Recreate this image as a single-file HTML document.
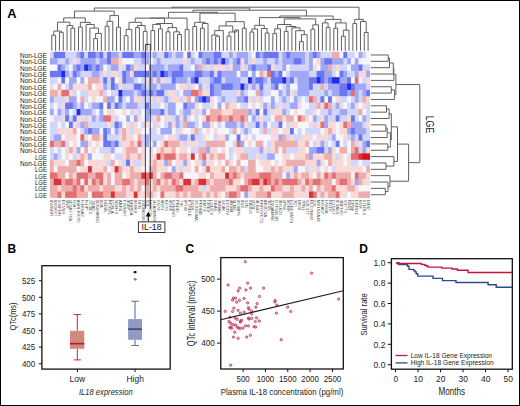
<!DOCTYPE html>
<html><head><meta charset="utf-8"><style>
html,body{margin:0;padding:0;background:#fff;}
body{width:520px;height:406px;overflow:hidden;}
svg{display:block;font-family:"Liberation Sans", sans-serif;}
</style></head><body>
<svg width="520" height="406" viewBox="0 0 520 406">
<defs><filter id="hb" x="-2%" y="-2%" width="104%" height="104%"><feGaussianBlur stdDeviation="0.35"/></filter><pattern id="lbl" width="2.4" height="2.6" patternUnits="userSpaceOnUse"><rect x="0" y="0" width="2.4" height="2.6" fill="#fff"/><rect x="0.3" y="0.2" width="1.8" height="1.4" fill="#9a9a9a"/></pattern></defs>
<rect width="520" height="406" fill="#fff"/>
<g filter="url(#hb)"><rect x="49.90" y="51.80" width="4.41" height="6.95" fill="#d2d6fa"/><rect x="53.71" y="51.80" width="4.41" height="6.95" fill="#6a76f1"/><rect x="57.52" y="51.80" width="4.41" height="6.95" fill="#6a76f1"/><rect x="61.33" y="51.80" width="4.41" height="6.95" fill="#6a76f1"/><rect x="65.14" y="51.80" width="4.41" height="6.95" fill="#d2d6fa"/><rect x="68.95" y="51.80" width="4.41" height="6.95" fill="#d2d6fa"/><rect x="72.76" y="51.80" width="4.41" height="6.95" fill="#d2d6fa"/><rect x="76.58" y="51.80" width="4.41" height="6.95" fill="#a0a8f5"/><rect x="80.39" y="51.80" width="4.41" height="6.95" fill="#6a76f1"/><rect x="84.20" y="51.80" width="4.41" height="6.95" fill="#d2d6fa"/><rect x="88.01" y="51.80" width="4.41" height="6.95" fill="#6a76f1"/><rect x="91.82" y="51.80" width="4.41" height="6.95" fill="#6a76f1"/><rect x="95.63" y="51.80" width="4.41" height="6.95" fill="#a0a8f5"/><rect x="99.44" y="51.80" width="4.41" height="6.95" fill="#6a76f1"/><rect x="103.25" y="51.80" width="4.41" height="6.95" fill="#d2d6fa"/><rect x="107.06" y="51.80" width="4.41" height="6.95" fill="#6a76f1"/><rect x="110.87" y="51.80" width="4.41" height="6.95" fill="#a0a8f5"/><rect x="114.68" y="51.80" width="4.41" height="6.95" fill="#a0a8f5"/><rect x="118.49" y="51.80" width="4.41" height="6.95" fill="#d2d6fa"/><rect x="122.30" y="51.80" width="4.41" height="6.95" fill="#6a76f1"/><rect x="126.11" y="51.80" width="4.41" height="6.95" fill="#6a76f1"/><rect x="129.93" y="51.80" width="4.41" height="6.95" fill="#6a76f1"/><rect x="133.74" y="51.80" width="4.41" height="6.95" fill="#a0a8f5"/><rect x="137.55" y="51.80" width="4.41" height="6.95" fill="#a0a8f5"/><rect x="141.36" y="51.80" width="4.41" height="6.95" fill="#6a76f1"/><rect x="145.17" y="51.80" width="4.41" height="6.95" fill="#a0a8f5"/><rect x="148.98" y="51.80" width="4.41" height="6.95" fill="#d2d6fa"/><rect x="152.79" y="51.80" width="4.41" height="6.95" fill="#a0a8f5"/><rect x="156.60" y="51.80" width="4.41" height="6.95" fill="#d2d6fa"/><rect x="160.41" y="51.80" width="4.41" height="6.95" fill="#d2d6fa"/><rect x="164.22" y="51.80" width="4.41" height="6.95" fill="#6a76f1"/><rect x="168.03" y="51.80" width="4.41" height="6.95" fill="#a0a8f5"/><rect x="171.84" y="51.80" width="4.41" height="6.95" fill="#d2d6fa"/><rect x="175.65" y="51.80" width="4.41" height="6.95" fill="#a0a8f5"/><rect x="179.46" y="51.80" width="4.41" height="6.95" fill="#a0a8f5"/><rect x="183.28" y="51.80" width="4.41" height="6.95" fill="#f5f5fc"/><rect x="187.09" y="51.80" width="4.41" height="6.95" fill="#6a76f1"/><rect x="190.90" y="51.80" width="4.41" height="6.95" fill="#d2d6fa"/><rect x="194.71" y="51.80" width="4.41" height="6.95" fill="#f5f5fc"/><rect x="198.52" y="51.80" width="4.41" height="6.95" fill="#6a76f1"/><rect x="202.33" y="51.80" width="4.41" height="6.95" fill="#a0a8f5"/><rect x="206.14" y="51.80" width="4.41" height="6.95" fill="#a0a8f5"/><rect x="209.95" y="51.80" width="4.41" height="6.95" fill="#a0a8f5"/><rect x="213.76" y="51.80" width="4.41" height="6.95" fill="#6a76f1"/><rect x="217.57" y="51.80" width="4.41" height="6.95" fill="#6a76f1"/><rect x="221.38" y="51.80" width="4.41" height="6.95" fill="#d2d6fa"/><rect x="225.19" y="51.80" width="4.41" height="6.95" fill="#d2d6fa"/><rect x="229.00" y="51.80" width="4.41" height="6.95" fill="#a0a8f5"/><rect x="232.81" y="51.80" width="4.41" height="6.95" fill="#d2d6fa"/><rect x="236.63" y="51.80" width="4.41" height="6.95" fill="#a0a8f5"/><rect x="240.44" y="51.80" width="4.41" height="6.95" fill="#a0a8f5"/><rect x="244.25" y="51.80" width="4.41" height="6.95" fill="#a0a8f5"/><rect x="248.06" y="51.80" width="4.41" height="6.95" fill="#d2d6fa"/><rect x="251.87" y="51.80" width="4.41" height="6.95" fill="#f5f5fc"/><rect x="255.68" y="51.80" width="4.41" height="6.95" fill="#6a76f1"/><rect x="259.49" y="51.80" width="4.41" height="6.95" fill="#a0a8f5"/><rect x="263.30" y="51.80" width="4.41" height="6.95" fill="#6a76f1"/><rect x="267.11" y="51.80" width="4.41" height="6.95" fill="#6a76f1"/><rect x="270.92" y="51.80" width="4.41" height="6.95" fill="#6a76f1"/><rect x="274.73" y="51.80" width="4.41" height="6.95" fill="#6a76f1"/><rect x="278.54" y="51.80" width="4.41" height="6.95" fill="#d2d6fa"/><rect x="282.35" y="51.80" width="4.41" height="6.95" fill="#a0a8f5"/><rect x="286.16" y="51.80" width="4.41" height="6.95" fill="#6a76f1"/><rect x="289.98" y="51.80" width="4.41" height="6.95" fill="#a0a8f5"/><rect x="293.79" y="51.80" width="4.41" height="6.95" fill="#a0a8f5"/><rect x="297.60" y="51.80" width="4.41" height="6.95" fill="#a0a8f5"/><rect x="301.41" y="51.80" width="4.41" height="6.95" fill="#a0a8f5"/><rect x="305.22" y="51.80" width="4.41" height="6.95" fill="#d2d6fa"/><rect x="309.03" y="51.80" width="4.41" height="6.95" fill="#a0a8f5"/><rect x="312.84" y="51.80" width="4.41" height="6.95" fill="#6a76f1"/><rect x="316.65" y="51.80" width="4.41" height="6.95" fill="#a0a8f5"/><rect x="320.46" y="51.80" width="4.41" height="6.95" fill="#d2d6fa"/><rect x="324.27" y="51.80" width="4.41" height="6.95" fill="#d2d6fa"/><rect x="328.08" y="51.80" width="4.41" height="6.95" fill="#d2d6fa"/><rect x="331.89" y="51.80" width="4.41" height="6.95" fill="#eeacac"/><rect x="335.70" y="51.80" width="4.41" height="6.95" fill="#eeacac"/><rect x="339.51" y="51.80" width="4.41" height="6.95" fill="#f5f5fc"/><rect x="343.32" y="51.80" width="4.41" height="6.95" fill="#6a76f1"/><rect x="347.14" y="51.80" width="4.41" height="6.95" fill="#d2d6fa"/><rect x="350.95" y="51.80" width="4.41" height="6.95" fill="#d2d6fa"/><rect x="354.76" y="51.80" width="4.41" height="6.95" fill="#f5f5fc"/><rect x="358.57" y="51.80" width="4.41" height="6.95" fill="#a0a8f5"/><rect x="362.38" y="51.80" width="4.41" height="6.95" fill="#d2d6fa"/><rect x="366.19" y="51.80" width="3.81" height="6.95" fill="#f5f5fc"/><rect x="49.90" y="58.15" width="4.41" height="6.95" fill="#a0a8f5"/><rect x="53.71" y="58.15" width="4.41" height="6.95" fill="#a0a8f5"/><rect x="57.52" y="58.15" width="4.41" height="6.95" fill="#d2d6fa"/><rect x="61.33" y="58.15" width="4.41" height="6.95" fill="#d2d6fa"/><rect x="65.14" y="58.15" width="4.41" height="6.95" fill="#a0a8f5"/><rect x="68.95" y="58.15" width="4.41" height="6.95" fill="#d2d6fa"/><rect x="72.76" y="58.15" width="4.41" height="6.95" fill="#f7dad7"/><rect x="76.58" y="58.15" width="4.41" height="6.95" fill="#d2d6fa"/><rect x="80.39" y="58.15" width="4.41" height="6.95" fill="#a0a8f5"/><rect x="84.20" y="58.15" width="4.41" height="6.95" fill="#a0a8f5"/><rect x="88.01" y="58.15" width="4.41" height="6.95" fill="#a0a8f5"/><rect x="91.82" y="58.15" width="4.41" height="6.95" fill="#a0a8f5"/><rect x="95.63" y="58.15" width="4.41" height="6.95" fill="#d2d6fa"/><rect x="99.44" y="58.15" width="4.41" height="6.95" fill="#a0a8f5"/><rect x="103.25" y="58.15" width="4.41" height="6.95" fill="#a0a8f5"/><rect x="107.06" y="58.15" width="4.41" height="6.95" fill="#6a76f1"/><rect x="110.87" y="58.15" width="4.41" height="6.95" fill="#eeacac"/><rect x="114.68" y="58.15" width="4.41" height="6.95" fill="#eeacac"/><rect x="118.49" y="58.15" width="4.41" height="6.95" fill="#f7dad7"/><rect x="122.30" y="58.15" width="4.41" height="6.95" fill="#f5f5fc"/><rect x="126.11" y="58.15" width="4.41" height="6.95" fill="#f5f5fc"/><rect x="129.93" y="58.15" width="4.41" height="6.95" fill="#f5f5fc"/><rect x="133.74" y="58.15" width="4.41" height="6.95" fill="#d2d6fa"/><rect x="137.55" y="58.15" width="4.41" height="6.95" fill="#d2d6fa"/><rect x="141.36" y="58.15" width="4.41" height="6.95" fill="#a0a8f5"/><rect x="145.17" y="58.15" width="4.41" height="6.95" fill="#a0a8f5"/><rect x="148.98" y="58.15" width="4.41" height="6.95" fill="#f5f5fc"/><rect x="152.79" y="58.15" width="4.41" height="6.95" fill="#d2d6fa"/><rect x="156.60" y="58.15" width="4.41" height="6.95" fill="#a0a8f5"/><rect x="160.41" y="58.15" width="4.41" height="6.95" fill="#d2d6fa"/><rect x="164.22" y="58.15" width="4.41" height="6.95" fill="#d2d6fa"/><rect x="168.03" y="58.15" width="4.41" height="6.95" fill="#d2d6fa"/><rect x="171.84" y="58.15" width="4.41" height="6.95" fill="#d2d6fa"/><rect x="175.65" y="58.15" width="4.41" height="6.95" fill="#d2d6fa"/><rect x="179.46" y="58.15" width="4.41" height="6.95" fill="#d2d6fa"/><rect x="183.28" y="58.15" width="4.41" height="6.95" fill="#f7dad7"/><rect x="187.09" y="58.15" width="4.41" height="6.95" fill="#d2d6fa"/><rect x="190.90" y="58.15" width="4.41" height="6.95" fill="#a0a8f5"/><rect x="194.71" y="58.15" width="4.41" height="6.95" fill="#d2d6fa"/><rect x="198.52" y="58.15" width="4.41" height="6.95" fill="#d2d6fa"/><rect x="202.33" y="58.15" width="4.41" height="6.95" fill="#a0a8f5"/><rect x="206.14" y="58.15" width="4.41" height="6.95" fill="#6a76f1"/><rect x="209.95" y="58.15" width="4.41" height="6.95" fill="#a0a8f5"/><rect x="213.76" y="58.15" width="4.41" height="6.95" fill="#6a76f1"/><rect x="217.57" y="58.15" width="4.41" height="6.95" fill="#a0a8f5"/><rect x="221.38" y="58.15" width="4.41" height="6.95" fill="#202cee"/><rect x="225.19" y="58.15" width="4.41" height="6.95" fill="#a0a8f5"/><rect x="229.00" y="58.15" width="4.41" height="6.95" fill="#d2d6fa"/><rect x="232.81" y="58.15" width="4.41" height="6.95" fill="#a0a8f5"/><rect x="236.63" y="58.15" width="4.41" height="6.95" fill="#6a76f1"/><rect x="240.44" y="58.15" width="4.41" height="6.95" fill="#f7dad7"/><rect x="244.25" y="58.15" width="4.41" height="6.95" fill="#a0a8f5"/><rect x="248.06" y="58.15" width="4.41" height="6.95" fill="#d2d6fa"/><rect x="251.87" y="58.15" width="4.41" height="6.95" fill="#f7dad7"/><rect x="255.68" y="58.15" width="4.41" height="6.95" fill="#d2d6fa"/><rect x="259.49" y="58.15" width="4.41" height="6.95" fill="#d2d6fa"/><rect x="263.30" y="58.15" width="4.41" height="6.95" fill="#a0a8f5"/><rect x="267.11" y="58.15" width="4.41" height="6.95" fill="#d2d6fa"/><rect x="270.92" y="58.15" width="4.41" height="6.95" fill="#d2d6fa"/><rect x="274.73" y="58.15" width="4.41" height="6.95" fill="#a0a8f5"/><rect x="278.54" y="58.15" width="4.41" height="6.95" fill="#d2d6fa"/><rect x="282.35" y="58.15" width="4.41" height="6.95" fill="#a0a8f5"/><rect x="286.16" y="58.15" width="4.41" height="6.95" fill="#a0a8f5"/><rect x="289.98" y="58.15" width="4.41" height="6.95" fill="#a0a8f5"/><rect x="293.79" y="58.15" width="4.41" height="6.95" fill="#6a76f1"/><rect x="297.60" y="58.15" width="4.41" height="6.95" fill="#6a76f1"/><rect x="301.41" y="58.15" width="4.41" height="6.95" fill="#a0a8f5"/><rect x="305.22" y="58.15" width="4.41" height="6.95" fill="#d2d6fa"/><rect x="309.03" y="58.15" width="4.41" height="6.95" fill="#a0a8f5"/><rect x="312.84" y="58.15" width="4.41" height="6.95" fill="#f5f5fc"/><rect x="316.65" y="58.15" width="4.41" height="6.95" fill="#f7dad7"/><rect x="320.46" y="58.15" width="4.41" height="6.95" fill="#a0a8f5"/><rect x="324.27" y="58.15" width="4.41" height="6.95" fill="#6a76f1"/><rect x="328.08" y="58.15" width="4.41" height="6.95" fill="#6a76f1"/><rect x="331.89" y="58.15" width="4.41" height="6.95" fill="#a0a8f5"/><rect x="335.70" y="58.15" width="4.41" height="6.95" fill="#a0a8f5"/><rect x="339.51" y="58.15" width="4.41" height="6.95" fill="#a0a8f5"/><rect x="343.32" y="58.15" width="4.41" height="6.95" fill="#d2d6fa"/><rect x="347.14" y="58.15" width="4.41" height="6.95" fill="#a0a8f5"/><rect x="350.95" y="58.15" width="4.41" height="6.95" fill="#f5f5fc"/><rect x="354.76" y="58.15" width="4.41" height="6.95" fill="#a0a8f5"/><rect x="358.57" y="58.15" width="4.41" height="6.95" fill="#f5f5fc"/><rect x="362.38" y="58.15" width="4.41" height="6.95" fill="#f5f5fc"/><rect x="366.19" y="58.15" width="3.81" height="6.95" fill="#f5f5fc"/><rect x="49.90" y="64.50" width="4.41" height="6.95" fill="#f5f5fc"/><rect x="53.71" y="64.50" width="4.41" height="6.95" fill="#f5f5fc"/><rect x="57.52" y="64.50" width="4.41" height="6.95" fill="#6a76f1"/><rect x="61.33" y="64.50" width="4.41" height="6.95" fill="#a0a8f5"/><rect x="65.14" y="64.50" width="4.41" height="6.95" fill="#d2d6fa"/><rect x="68.95" y="64.50" width="4.41" height="6.95" fill="#f5f5fc"/><rect x="72.76" y="64.50" width="4.41" height="6.95" fill="#a0a8f5"/><rect x="76.58" y="64.50" width="4.41" height="6.95" fill="#6a76f1"/><rect x="80.39" y="64.50" width="4.41" height="6.95" fill="#a0a8f5"/><rect x="84.20" y="64.50" width="4.41" height="6.95" fill="#202cee"/><rect x="88.01" y="64.50" width="4.41" height="6.95" fill="#6a76f1"/><rect x="91.82" y="64.50" width="4.41" height="6.95" fill="#a0a8f5"/><rect x="95.63" y="64.50" width="4.41" height="6.95" fill="#6a76f1"/><rect x="99.44" y="64.50" width="4.41" height="6.95" fill="#a0a8f5"/><rect x="103.25" y="64.50" width="4.41" height="6.95" fill="#f5f5fc"/><rect x="107.06" y="64.50" width="4.41" height="6.95" fill="#d2d6fa"/><rect x="110.87" y="64.50" width="4.41" height="6.95" fill="#a0a8f5"/><rect x="114.68" y="64.50" width="4.41" height="6.95" fill="#a0a8f5"/><rect x="118.49" y="64.50" width="4.41" height="6.95" fill="#f7dad7"/><rect x="122.30" y="64.50" width="4.41" height="6.95" fill="#d2d6fa"/><rect x="126.11" y="64.50" width="4.41" height="6.95" fill="#6a76f1"/><rect x="129.93" y="64.50" width="4.41" height="6.95" fill="#a0a8f5"/><rect x="133.74" y="64.50" width="4.41" height="6.95" fill="#f7dad7"/><rect x="137.55" y="64.50" width="4.41" height="6.95" fill="#d2d6fa"/><rect x="141.36" y="64.50" width="4.41" height="6.95" fill="#d2d6fa"/><rect x="145.17" y="64.50" width="4.41" height="6.95" fill="#f5f5fc"/><rect x="148.98" y="64.50" width="4.41" height="6.95" fill="#a0a8f5"/><rect x="152.79" y="64.50" width="4.41" height="6.95" fill="#a0a8f5"/><rect x="156.60" y="64.50" width="4.41" height="6.95" fill="#a0a8f5"/><rect x="160.41" y="64.50" width="4.41" height="6.95" fill="#a0a8f5"/><rect x="164.22" y="64.50" width="4.41" height="6.95" fill="#d2d6fa"/><rect x="168.03" y="64.50" width="4.41" height="6.95" fill="#a0a8f5"/><rect x="171.84" y="64.50" width="4.41" height="6.95" fill="#a0a8f5"/><rect x="175.65" y="64.50" width="4.41" height="6.95" fill="#a0a8f5"/><rect x="179.46" y="64.50" width="4.41" height="6.95" fill="#6a76f1"/><rect x="183.28" y="64.50" width="4.41" height="6.95" fill="#d2d6fa"/><rect x="187.09" y="64.50" width="4.41" height="6.95" fill="#d2d6fa"/><rect x="190.90" y="64.50" width="4.41" height="6.95" fill="#f5f5fc"/><rect x="194.71" y="64.50" width="4.41" height="6.95" fill="#a0a8f5"/><rect x="198.52" y="64.50" width="4.41" height="6.95" fill="#eeacac"/><rect x="202.33" y="64.50" width="4.41" height="6.95" fill="#d2d6fa"/><rect x="206.14" y="64.50" width="4.41" height="6.95" fill="#f7dad7"/><rect x="209.95" y="64.50" width="4.41" height="6.95" fill="#d2d6fa"/><rect x="213.76" y="64.50" width="4.41" height="6.95" fill="#f7dad7"/><rect x="217.57" y="64.50" width="4.41" height="6.95" fill="#f7dad7"/><rect x="221.38" y="64.50" width="4.41" height="6.95" fill="#f7dad7"/><rect x="225.19" y="64.50" width="4.41" height="6.95" fill="#d2d6fa"/><rect x="229.00" y="64.50" width="4.41" height="6.95" fill="#f7dad7"/><rect x="232.81" y="64.50" width="4.41" height="6.95" fill="#a0a8f5"/><rect x="236.63" y="64.50" width="4.41" height="6.95" fill="#a0a8f5"/><rect x="240.44" y="64.50" width="4.41" height="6.95" fill="#f7dad7"/><rect x="244.25" y="64.50" width="4.41" height="6.95" fill="#d2d6fa"/><rect x="248.06" y="64.50" width="4.41" height="6.95" fill="#a0a8f5"/><rect x="251.87" y="64.50" width="4.41" height="6.95" fill="#6a76f1"/><rect x="255.68" y="64.50" width="4.41" height="6.95" fill="#a0a8f5"/><rect x="259.49" y="64.50" width="4.41" height="6.95" fill="#a0a8f5"/><rect x="263.30" y="64.50" width="4.41" height="6.95" fill="#a0a8f5"/><rect x="267.11" y="64.50" width="4.41" height="6.95" fill="#6a76f1"/><rect x="270.92" y="64.50" width="4.41" height="6.95" fill="#f7dad7"/><rect x="274.73" y="64.50" width="4.41" height="6.95" fill="#d2d6fa"/><rect x="278.54" y="64.50" width="4.41" height="6.95" fill="#d2d6fa"/><rect x="282.35" y="64.50" width="4.41" height="6.95" fill="#a0a8f5"/><rect x="286.16" y="64.50" width="4.41" height="6.95" fill="#f5f5fc"/><rect x="289.98" y="64.50" width="4.41" height="6.95" fill="#d2d6fa"/><rect x="293.79" y="64.50" width="4.41" height="6.95" fill="#d2d6fa"/><rect x="297.60" y="64.50" width="4.41" height="6.95" fill="#d2d6fa"/><rect x="301.41" y="64.50" width="4.41" height="6.95" fill="#d2d6fa"/><rect x="305.22" y="64.50" width="4.41" height="6.95" fill="#d2d6fa"/><rect x="309.03" y="64.50" width="4.41" height="6.95" fill="#a0a8f5"/><rect x="312.84" y="64.50" width="4.41" height="6.95" fill="#f7dad7"/><rect x="316.65" y="64.50" width="4.41" height="6.95" fill="#f5f5fc"/><rect x="320.46" y="64.50" width="4.41" height="6.95" fill="#a0a8f5"/><rect x="324.27" y="64.50" width="4.41" height="6.95" fill="#a0a8f5"/><rect x="328.08" y="64.50" width="4.41" height="6.95" fill="#eeacac"/><rect x="331.89" y="64.50" width="4.41" height="6.95" fill="#d2d6fa"/><rect x="335.70" y="64.50" width="4.41" height="6.95" fill="#f7dad7"/><rect x="339.51" y="64.50" width="4.41" height="6.95" fill="#d2d6fa"/><rect x="343.32" y="64.50" width="4.41" height="6.95" fill="#d2d6fa"/><rect x="347.14" y="64.50" width="4.41" height="6.95" fill="#f5f5fc"/><rect x="350.95" y="64.50" width="4.41" height="6.95" fill="#a0a8f5"/><rect x="354.76" y="64.50" width="4.41" height="6.95" fill="#a0a8f5"/><rect x="358.57" y="64.50" width="4.41" height="6.95" fill="#6a76f1"/><rect x="362.38" y="64.50" width="4.41" height="6.95" fill="#d2d6fa"/><rect x="366.19" y="64.50" width="3.81" height="6.95" fill="#d2d6fa"/><rect x="49.90" y="70.86" width="4.41" height="6.95" fill="#6a76f1"/><rect x="53.71" y="70.86" width="4.41" height="6.95" fill="#6a76f1"/><rect x="57.52" y="70.86" width="4.41" height="6.95" fill="#6a76f1"/><rect x="61.33" y="70.86" width="4.41" height="6.95" fill="#202cee"/><rect x="65.14" y="70.86" width="4.41" height="6.95" fill="#a0a8f5"/><rect x="68.95" y="70.86" width="4.41" height="6.95" fill="#d2d6fa"/><rect x="72.76" y="70.86" width="4.41" height="6.95" fill="#6a76f1"/><rect x="76.58" y="70.86" width="4.41" height="6.95" fill="#a0a8f5"/><rect x="80.39" y="70.86" width="4.41" height="6.95" fill="#d2d6fa"/><rect x="84.20" y="70.86" width="4.41" height="6.95" fill="#d2d6fa"/><rect x="88.01" y="70.86" width="4.41" height="6.95" fill="#d2d6fa"/><rect x="91.82" y="70.86" width="4.41" height="6.95" fill="#a0a8f5"/><rect x="95.63" y="70.86" width="4.41" height="6.95" fill="#a0a8f5"/><rect x="99.44" y="70.86" width="4.41" height="6.95" fill="#d2d6fa"/><rect x="103.25" y="70.86" width="4.41" height="6.95" fill="#f7dad7"/><rect x="107.06" y="70.86" width="4.41" height="6.95" fill="#d2d6fa"/><rect x="110.87" y="70.86" width="4.41" height="6.95" fill="#f7dad7"/><rect x="114.68" y="70.86" width="4.41" height="6.95" fill="#f7dad7"/><rect x="118.49" y="70.86" width="4.41" height="6.95" fill="#d2d6fa"/><rect x="122.30" y="70.86" width="4.41" height="6.95" fill="#6a76f1"/><rect x="126.11" y="70.86" width="4.41" height="6.95" fill="#a0a8f5"/><rect x="129.93" y="70.86" width="4.41" height="6.95" fill="#f7dad7"/><rect x="133.74" y="70.86" width="4.41" height="6.95" fill="#6a76f1"/><rect x="137.55" y="70.86" width="4.41" height="6.95" fill="#6a76f1"/><rect x="141.36" y="70.86" width="4.41" height="6.95" fill="#6a76f1"/><rect x="145.17" y="70.86" width="4.41" height="6.95" fill="#6a76f1"/><rect x="148.98" y="70.86" width="4.41" height="6.95" fill="#a0a8f5"/><rect x="152.79" y="70.86" width="4.41" height="6.95" fill="#6a76f1"/><rect x="156.60" y="70.86" width="4.41" height="6.95" fill="#a0a8f5"/><rect x="160.41" y="70.86" width="4.41" height="6.95" fill="#202cee"/><rect x="164.22" y="70.86" width="4.41" height="6.95" fill="#6a76f1"/><rect x="168.03" y="70.86" width="4.41" height="6.95" fill="#a0a8f5"/><rect x="171.84" y="70.86" width="4.41" height="6.95" fill="#6a76f1"/><rect x="175.65" y="70.86" width="4.41" height="6.95" fill="#6a76f1"/><rect x="179.46" y="70.86" width="4.41" height="6.95" fill="#6a76f1"/><rect x="183.28" y="70.86" width="4.41" height="6.95" fill="#a0a8f5"/><rect x="187.09" y="70.86" width="4.41" height="6.95" fill="#a0a8f5"/><rect x="190.90" y="70.86" width="4.41" height="6.95" fill="#a0a8f5"/><rect x="194.71" y="70.86" width="4.41" height="6.95" fill="#6a76f1"/><rect x="198.52" y="70.86" width="4.41" height="6.95" fill="#6a76f1"/><rect x="202.33" y="70.86" width="4.41" height="6.95" fill="#a0a8f5"/><rect x="206.14" y="70.86" width="4.41" height="6.95" fill="#a0a8f5"/><rect x="209.95" y="70.86" width="4.41" height="6.95" fill="#6a76f1"/><rect x="213.76" y="70.86" width="4.41" height="6.95" fill="#d2d6fa"/><rect x="217.57" y="70.86" width="4.41" height="6.95" fill="#6a76f1"/><rect x="221.38" y="70.86" width="4.41" height="6.95" fill="#a0a8f5"/><rect x="225.19" y="70.86" width="4.41" height="6.95" fill="#a0a8f5"/><rect x="229.00" y="70.86" width="4.41" height="6.95" fill="#a0a8f5"/><rect x="232.81" y="70.86" width="4.41" height="6.95" fill="#a0a8f5"/><rect x="236.63" y="70.86" width="4.41" height="6.95" fill="#f5f5fc"/><rect x="240.44" y="70.86" width="4.41" height="6.95" fill="#a0a8f5"/><rect x="244.25" y="70.86" width="4.41" height="6.95" fill="#a0a8f5"/><rect x="248.06" y="70.86" width="4.41" height="6.95" fill="#f5f5fc"/><rect x="251.87" y="70.86" width="4.41" height="6.95" fill="#a0a8f5"/><rect x="255.68" y="70.86" width="4.41" height="6.95" fill="#f5f5fc"/><rect x="259.49" y="70.86" width="4.41" height="6.95" fill="#eeacac"/><rect x="263.30" y="70.86" width="4.41" height="6.95" fill="#f7dad7"/><rect x="267.11" y="70.86" width="4.41" height="6.95" fill="#e27072"/><rect x="270.92" y="70.86" width="4.41" height="6.95" fill="#6a76f1"/><rect x="274.73" y="70.86" width="4.41" height="6.95" fill="#a0a8f5"/><rect x="278.54" y="70.86" width="4.41" height="6.95" fill="#6a76f1"/><rect x="282.35" y="70.86" width="4.41" height="6.95" fill="#f5f5fc"/><rect x="286.16" y="70.86" width="4.41" height="6.95" fill="#d2d6fa"/><rect x="289.98" y="70.86" width="4.41" height="6.95" fill="#a0a8f5"/><rect x="293.79" y="70.86" width="4.41" height="6.95" fill="#a0a8f5"/><rect x="297.60" y="70.86" width="4.41" height="6.95" fill="#a0a8f5"/><rect x="301.41" y="70.86" width="4.41" height="6.95" fill="#a0a8f5"/><rect x="305.22" y="70.86" width="4.41" height="6.95" fill="#a0a8f5"/><rect x="309.03" y="70.86" width="4.41" height="6.95" fill="#d2d6fa"/><rect x="312.84" y="70.86" width="4.41" height="6.95" fill="#d2d6fa"/><rect x="316.65" y="70.86" width="4.41" height="6.95" fill="#6a76f1"/><rect x="320.46" y="70.86" width="4.41" height="6.95" fill="#6a76f1"/><rect x="324.27" y="70.86" width="4.41" height="6.95" fill="#a0a8f5"/><rect x="328.08" y="70.86" width="4.41" height="6.95" fill="#a0a8f5"/><rect x="331.89" y="70.86" width="4.41" height="6.95" fill="#d2d6fa"/><rect x="335.70" y="70.86" width="4.41" height="6.95" fill="#f5f5fc"/><rect x="339.51" y="70.86" width="4.41" height="6.95" fill="#6a76f1"/><rect x="343.32" y="70.86" width="4.41" height="6.95" fill="#a0a8f5"/><rect x="347.14" y="70.86" width="4.41" height="6.95" fill="#d2d6fa"/><rect x="350.95" y="70.86" width="4.41" height="6.95" fill="#d2d6fa"/><rect x="354.76" y="70.86" width="4.41" height="6.95" fill="#a0a8f5"/><rect x="358.57" y="70.86" width="4.41" height="6.95" fill="#f7dad7"/><rect x="362.38" y="70.86" width="4.41" height="6.95" fill="#f7dad7"/><rect x="366.19" y="70.86" width="3.81" height="6.95" fill="#a0a8f5"/><rect x="49.90" y="77.21" width="4.41" height="6.95" fill="#d2d6fa"/><rect x="53.71" y="77.21" width="4.41" height="6.95" fill="#d2d6fa"/><rect x="57.52" y="77.21" width="4.41" height="6.95" fill="#f5f5fc"/><rect x="61.33" y="77.21" width="4.41" height="6.95" fill="#6a76f1"/><rect x="65.14" y="77.21" width="4.41" height="6.95" fill="#f5f5fc"/><rect x="68.95" y="77.21" width="4.41" height="6.95" fill="#a0a8f5"/><rect x="72.76" y="77.21" width="4.41" height="6.95" fill="#a0a8f5"/><rect x="76.58" y="77.21" width="4.41" height="6.95" fill="#f5f5fc"/><rect x="80.39" y="77.21" width="4.41" height="6.95" fill="#a0a8f5"/><rect x="84.20" y="77.21" width="4.41" height="6.95" fill="#f5f5fc"/><rect x="88.01" y="77.21" width="4.41" height="6.95" fill="#eeacac"/><rect x="91.82" y="77.21" width="4.41" height="6.95" fill="#eeacac"/><rect x="95.63" y="77.21" width="4.41" height="6.95" fill="#eeacac"/><rect x="99.44" y="77.21" width="4.41" height="6.95" fill="#d2d6fa"/><rect x="103.25" y="77.21" width="4.41" height="6.95" fill="#6a76f1"/><rect x="107.06" y="77.21" width="4.41" height="6.95" fill="#d2d6fa"/><rect x="110.87" y="77.21" width="4.41" height="6.95" fill="#6a76f1"/><rect x="114.68" y="77.21" width="4.41" height="6.95" fill="#f5f5fc"/><rect x="118.49" y="77.21" width="4.41" height="6.95" fill="#f7dad7"/><rect x="122.30" y="77.21" width="4.41" height="6.95" fill="#6a76f1"/><rect x="126.11" y="77.21" width="4.41" height="6.95" fill="#a0a8f5"/><rect x="129.93" y="77.21" width="4.41" height="6.95" fill="#a0a8f5"/><rect x="133.74" y="77.21" width="4.41" height="6.95" fill="#d2d6fa"/><rect x="137.55" y="77.21" width="4.41" height="6.95" fill="#f5f5fc"/><rect x="141.36" y="77.21" width="4.41" height="6.95" fill="#d2d6fa"/><rect x="145.17" y="77.21" width="4.41" height="6.95" fill="#f7dad7"/><rect x="148.98" y="77.21" width="4.41" height="6.95" fill="#a0a8f5"/><rect x="152.79" y="77.21" width="4.41" height="6.95" fill="#f7dad7"/><rect x="156.60" y="77.21" width="4.41" height="6.95" fill="#a0a8f5"/><rect x="160.41" y="77.21" width="4.41" height="6.95" fill="#f7dad7"/><rect x="164.22" y="77.21" width="4.41" height="6.95" fill="#d2d6fa"/><rect x="168.03" y="77.21" width="4.41" height="6.95" fill="#d2d6fa"/><rect x="171.84" y="77.21" width="4.41" height="6.95" fill="#6a76f1"/><rect x="175.65" y="77.21" width="4.41" height="6.95" fill="#a0a8f5"/><rect x="179.46" y="77.21" width="4.41" height="6.95" fill="#a0a8f5"/><rect x="183.28" y="77.21" width="4.41" height="6.95" fill="#a0a8f5"/><rect x="187.09" y="77.21" width="4.41" height="6.95" fill="#d2d6fa"/><rect x="190.90" y="77.21" width="4.41" height="6.95" fill="#6a76f1"/><rect x="194.71" y="77.21" width="4.41" height="6.95" fill="#202cee"/><rect x="198.52" y="77.21" width="4.41" height="6.95" fill="#d2d6fa"/><rect x="202.33" y="77.21" width="4.41" height="6.95" fill="#d2d6fa"/><rect x="206.14" y="77.21" width="4.41" height="6.95" fill="#d2d6fa"/><rect x="209.95" y="77.21" width="4.41" height="6.95" fill="#a0a8f5"/><rect x="213.76" y="77.21" width="4.41" height="6.95" fill="#6a76f1"/><rect x="217.57" y="77.21" width="4.41" height="6.95" fill="#6a76f1"/><rect x="221.38" y="77.21" width="4.41" height="6.95" fill="#d2d6fa"/><rect x="225.19" y="77.21" width="4.41" height="6.95" fill="#a0a8f5"/><rect x="229.00" y="77.21" width="4.41" height="6.95" fill="#a0a8f5"/><rect x="232.81" y="77.21" width="4.41" height="6.95" fill="#a0a8f5"/><rect x="236.63" y="77.21" width="4.41" height="6.95" fill="#a0a8f5"/><rect x="240.44" y="77.21" width="4.41" height="6.95" fill="#d2d6fa"/><rect x="244.25" y="77.21" width="4.41" height="6.95" fill="#d2d6fa"/><rect x="248.06" y="77.21" width="4.41" height="6.95" fill="#202cee"/><rect x="251.87" y="77.21" width="4.41" height="6.95" fill="#a0a8f5"/><rect x="255.68" y="77.21" width="4.41" height="6.95" fill="#6a76f1"/><rect x="259.49" y="77.21" width="4.41" height="6.95" fill="#6a76f1"/><rect x="263.30" y="77.21" width="4.41" height="6.95" fill="#a0a8f5"/><rect x="267.11" y="77.21" width="4.41" height="6.95" fill="#d2d6fa"/><rect x="270.92" y="77.21" width="4.41" height="6.95" fill="#6a76f1"/><rect x="274.73" y="77.21" width="4.41" height="6.95" fill="#6a76f1"/><rect x="278.54" y="77.21" width="4.41" height="6.95" fill="#6a76f1"/><rect x="282.35" y="77.21" width="4.41" height="6.95" fill="#202cee"/><rect x="286.16" y="77.21" width="4.41" height="6.95" fill="#a0a8f5"/><rect x="289.98" y="77.21" width="4.41" height="6.95" fill="#6a76f1"/><rect x="293.79" y="77.21" width="4.41" height="6.95" fill="#d2d6fa"/><rect x="297.60" y="77.21" width="4.41" height="6.95" fill="#a0a8f5"/><rect x="301.41" y="77.21" width="4.41" height="6.95" fill="#a0a8f5"/><rect x="305.22" y="77.21" width="4.41" height="6.95" fill="#a0a8f5"/><rect x="309.03" y="77.21" width="4.41" height="6.95" fill="#6a76f1"/><rect x="312.84" y="77.21" width="4.41" height="6.95" fill="#6a76f1"/><rect x="316.65" y="77.21" width="4.41" height="6.95" fill="#202cee"/><rect x="320.46" y="77.21" width="4.41" height="6.95" fill="#6a76f1"/><rect x="324.27" y="77.21" width="4.41" height="6.95" fill="#a0a8f5"/><rect x="328.08" y="77.21" width="4.41" height="6.95" fill="#6a76f1"/><rect x="331.89" y="77.21" width="4.41" height="6.95" fill="#202cee"/><rect x="335.70" y="77.21" width="4.41" height="6.95" fill="#202cee"/><rect x="339.51" y="77.21" width="4.41" height="6.95" fill="#a0a8f5"/><rect x="343.32" y="77.21" width="4.41" height="6.95" fill="#a0a8f5"/><rect x="347.14" y="77.21" width="4.41" height="6.95" fill="#6a76f1"/><rect x="350.95" y="77.21" width="4.41" height="6.95" fill="#f5f5fc"/><rect x="354.76" y="77.21" width="4.41" height="6.95" fill="#e27072"/><rect x="358.57" y="77.21" width="4.41" height="6.95" fill="#f5f5fc"/><rect x="362.38" y="77.21" width="4.41" height="6.95" fill="#d2d6fa"/><rect x="366.19" y="77.21" width="3.81" height="6.95" fill="#f7dad7"/><rect x="49.90" y="83.56" width="4.41" height="6.95" fill="#f7dad7"/><rect x="53.71" y="83.56" width="4.41" height="6.95" fill="#f5f5fc"/><rect x="57.52" y="83.56" width="4.41" height="6.95" fill="#eeacac"/><rect x="61.33" y="83.56" width="4.41" height="6.95" fill="#f5f5fc"/><rect x="65.14" y="83.56" width="4.41" height="6.95" fill="#d2d6fa"/><rect x="68.95" y="83.56" width="4.41" height="6.95" fill="#a0a8f5"/><rect x="72.76" y="83.56" width="4.41" height="6.95" fill="#f7dad7"/><rect x="76.58" y="83.56" width="4.41" height="6.95" fill="#f7dad7"/><rect x="80.39" y="83.56" width="4.41" height="6.95" fill="#f7dad7"/><rect x="84.20" y="83.56" width="4.41" height="6.95" fill="#f7dad7"/><rect x="88.01" y="83.56" width="4.41" height="6.95" fill="#eeacac"/><rect x="91.82" y="83.56" width="4.41" height="6.95" fill="#f5f5fc"/><rect x="95.63" y="83.56" width="4.41" height="6.95" fill="#f7dad7"/><rect x="99.44" y="83.56" width="4.41" height="6.95" fill="#f7dad7"/><rect x="103.25" y="83.56" width="4.41" height="6.95" fill="#a0a8f5"/><rect x="107.06" y="83.56" width="4.41" height="6.95" fill="#d2d6fa"/><rect x="110.87" y="83.56" width="4.41" height="6.95" fill="#6a76f1"/><rect x="114.68" y="83.56" width="4.41" height="6.95" fill="#a0a8f5"/><rect x="118.49" y="83.56" width="4.41" height="6.95" fill="#f7dad7"/><rect x="122.30" y="83.56" width="4.41" height="6.95" fill="#d2d6fa"/><rect x="126.11" y="83.56" width="4.41" height="6.95" fill="#d2d6fa"/><rect x="129.93" y="83.56" width="4.41" height="6.95" fill="#d2d6fa"/><rect x="133.74" y="83.56" width="4.41" height="6.95" fill="#6a76f1"/><rect x="137.55" y="83.56" width="4.41" height="6.95" fill="#6a76f1"/><rect x="141.36" y="83.56" width="4.41" height="6.95" fill="#a0a8f5"/><rect x="145.17" y="83.56" width="4.41" height="6.95" fill="#d2d6fa"/><rect x="148.98" y="83.56" width="4.41" height="6.95" fill="#a0a8f5"/><rect x="152.79" y="83.56" width="4.41" height="6.95" fill="#a0a8f5"/><rect x="156.60" y="83.56" width="4.41" height="6.95" fill="#d2d6fa"/><rect x="160.41" y="83.56" width="4.41" height="6.95" fill="#a0a8f5"/><rect x="164.22" y="83.56" width="4.41" height="6.95" fill="#a0a8f5"/><rect x="168.03" y="83.56" width="4.41" height="6.95" fill="#a0a8f5"/><rect x="171.84" y="83.56" width="4.41" height="6.95" fill="#a0a8f5"/><rect x="175.65" y="83.56" width="4.41" height="6.95" fill="#f5f5fc"/><rect x="179.46" y="83.56" width="4.41" height="6.95" fill="#f7dad7"/><rect x="183.28" y="83.56" width="4.41" height="6.95" fill="#f7dad7"/><rect x="187.09" y="83.56" width="4.41" height="6.95" fill="#d2d6fa"/><rect x="190.90" y="83.56" width="4.41" height="6.95" fill="#f7dad7"/><rect x="194.71" y="83.56" width="4.41" height="6.95" fill="#f5f5fc"/><rect x="198.52" y="83.56" width="4.41" height="6.95" fill="#a0a8f5"/><rect x="202.33" y="83.56" width="4.41" height="6.95" fill="#f7dad7"/><rect x="206.14" y="83.56" width="4.41" height="6.95" fill="#d2d6fa"/><rect x="209.95" y="83.56" width="4.41" height="6.95" fill="#6a76f1"/><rect x="213.76" y="83.56" width="4.41" height="6.95" fill="#a0a8f5"/><rect x="217.57" y="83.56" width="4.41" height="6.95" fill="#a0a8f5"/><rect x="221.38" y="83.56" width="4.41" height="6.95" fill="#6a76f1"/><rect x="225.19" y="83.56" width="4.41" height="6.95" fill="#6a76f1"/><rect x="229.00" y="83.56" width="4.41" height="6.95" fill="#6a76f1"/><rect x="232.81" y="83.56" width="4.41" height="6.95" fill="#a0a8f5"/><rect x="236.63" y="83.56" width="4.41" height="6.95" fill="#a0a8f5"/><rect x="240.44" y="83.56" width="4.41" height="6.95" fill="#202cee"/><rect x="244.25" y="83.56" width="4.41" height="6.95" fill="#a0a8f5"/><rect x="248.06" y="83.56" width="4.41" height="6.95" fill="#d2d6fa"/><rect x="251.87" y="83.56" width="4.41" height="6.95" fill="#a0a8f5"/><rect x="255.68" y="83.56" width="4.41" height="6.95" fill="#d2d6fa"/><rect x="259.49" y="83.56" width="4.41" height="6.95" fill="#6a76f1"/><rect x="263.30" y="83.56" width="4.41" height="6.95" fill="#d2d6fa"/><rect x="267.11" y="83.56" width="4.41" height="6.95" fill="#d2d6fa"/><rect x="270.92" y="83.56" width="4.41" height="6.95" fill="#a0a8f5"/><rect x="274.73" y="83.56" width="4.41" height="6.95" fill="#6a76f1"/><rect x="278.54" y="83.56" width="4.41" height="6.95" fill="#f5f5fc"/><rect x="282.35" y="83.56" width="4.41" height="6.95" fill="#d2d6fa"/><rect x="286.16" y="83.56" width="4.41" height="6.95" fill="#a0a8f5"/><rect x="289.98" y="83.56" width="4.41" height="6.95" fill="#f5f5fc"/><rect x="293.79" y="83.56" width="4.41" height="6.95" fill="#f5f5fc"/><rect x="297.60" y="83.56" width="4.41" height="6.95" fill="#a0a8f5"/><rect x="301.41" y="83.56" width="4.41" height="6.95" fill="#a0a8f5"/><rect x="305.22" y="83.56" width="4.41" height="6.95" fill="#a0a8f5"/><rect x="309.03" y="83.56" width="4.41" height="6.95" fill="#6a76f1"/><rect x="312.84" y="83.56" width="4.41" height="6.95" fill="#d2d6fa"/><rect x="316.65" y="83.56" width="4.41" height="6.95" fill="#d2d6fa"/><rect x="320.46" y="83.56" width="4.41" height="6.95" fill="#eeacac"/><rect x="324.27" y="83.56" width="4.41" height="6.95" fill="#d2d6fa"/><rect x="328.08" y="83.56" width="4.41" height="6.95" fill="#a0a8f5"/><rect x="331.89" y="83.56" width="4.41" height="6.95" fill="#a0a8f5"/><rect x="335.70" y="83.56" width="4.41" height="6.95" fill="#a0a8f5"/><rect x="339.51" y="83.56" width="4.41" height="6.95" fill="#6a76f1"/><rect x="343.32" y="83.56" width="4.41" height="6.95" fill="#6a76f1"/><rect x="347.14" y="83.56" width="4.41" height="6.95" fill="#202cee"/><rect x="350.95" y="83.56" width="4.41" height="6.95" fill="#6a76f1"/><rect x="354.76" y="83.56" width="4.41" height="6.95" fill="#a0a8f5"/><rect x="358.57" y="83.56" width="4.41" height="6.95" fill="#a0a8f5"/><rect x="362.38" y="83.56" width="4.41" height="6.95" fill="#a0a8f5"/><rect x="366.19" y="83.56" width="3.81" height="6.95" fill="#d2d6fa"/><rect x="49.90" y="89.91" width="4.41" height="6.95" fill="#eeacac"/><rect x="53.71" y="89.91" width="4.41" height="6.95" fill="#eeacac"/><rect x="57.52" y="89.91" width="4.41" height="6.95" fill="#f7dad7"/><rect x="61.33" y="89.91" width="4.41" height="6.95" fill="#e27072"/><rect x="65.14" y="89.91" width="4.41" height="6.95" fill="#e27072"/><rect x="68.95" y="89.91" width="4.41" height="6.95" fill="#f7dad7"/><rect x="72.76" y="89.91" width="4.41" height="6.95" fill="#d2d6fa"/><rect x="76.58" y="89.91" width="4.41" height="6.95" fill="#f5f5fc"/><rect x="80.39" y="89.91" width="4.41" height="6.95" fill="#d2d6fa"/><rect x="84.20" y="89.91" width="4.41" height="6.95" fill="#d2d6fa"/><rect x="88.01" y="89.91" width="4.41" height="6.95" fill="#f7dad7"/><rect x="91.82" y="89.91" width="4.41" height="6.95" fill="#f7dad7"/><rect x="95.63" y="89.91" width="4.41" height="6.95" fill="#f7dad7"/><rect x="99.44" y="89.91" width="4.41" height="6.95" fill="#eeacac"/><rect x="103.25" y="89.91" width="4.41" height="6.95" fill="#d2d6fa"/><rect x="107.06" y="89.91" width="4.41" height="6.95" fill="#f5f5fc"/><rect x="110.87" y="89.91" width="4.41" height="6.95" fill="#d2d6fa"/><rect x="114.68" y="89.91" width="4.41" height="6.95" fill="#d2d6fa"/><rect x="118.49" y="89.91" width="4.41" height="6.95" fill="#202cee"/><rect x="122.30" y="89.91" width="4.41" height="6.95" fill="#a0a8f5"/><rect x="126.11" y="89.91" width="4.41" height="6.95" fill="#a0a8f5"/><rect x="129.93" y="89.91" width="4.41" height="6.95" fill="#a0a8f5"/><rect x="133.74" y="89.91" width="4.41" height="6.95" fill="#d2d6fa"/><rect x="137.55" y="89.91" width="4.41" height="6.95" fill="#a0a8f5"/><rect x="141.36" y="89.91" width="4.41" height="6.95" fill="#6a76f1"/><rect x="145.17" y="89.91" width="4.41" height="6.95" fill="#a0a8f5"/><rect x="148.98" y="89.91" width="4.41" height="6.95" fill="#6a76f1"/><rect x="152.79" y="89.91" width="4.41" height="6.95" fill="#a0a8f5"/><rect x="156.60" y="89.91" width="4.41" height="6.95" fill="#6a76f1"/><rect x="160.41" y="89.91" width="4.41" height="6.95" fill="#6a76f1"/><rect x="164.22" y="89.91" width="4.41" height="6.95" fill="#d2d6fa"/><rect x="168.03" y="89.91" width="4.41" height="6.95" fill="#f7dad7"/><rect x="171.84" y="89.91" width="4.41" height="6.95" fill="#f7dad7"/><rect x="175.65" y="89.91" width="4.41" height="6.95" fill="#d2d6fa"/><rect x="179.46" y="89.91" width="4.41" height="6.95" fill="#f5f5fc"/><rect x="183.28" y="89.91" width="4.41" height="6.95" fill="#a0a8f5"/><rect x="187.09" y="89.91" width="4.41" height="6.95" fill="#a0a8f5"/><rect x="190.90" y="89.91" width="4.41" height="6.95" fill="#e27072"/><rect x="194.71" y="89.91" width="4.41" height="6.95" fill="#e27072"/><rect x="198.52" y="89.91" width="4.41" height="6.95" fill="#eeacac"/><rect x="202.33" y="89.91" width="4.41" height="6.95" fill="#f7dad7"/><rect x="206.14" y="89.91" width="4.41" height="6.95" fill="#f7dad7"/><rect x="209.95" y="89.91" width="4.41" height="6.95" fill="#6a76f1"/><rect x="213.76" y="89.91" width="4.41" height="6.95" fill="#a0a8f5"/><rect x="217.57" y="89.91" width="4.41" height="6.95" fill="#a0a8f5"/><rect x="221.38" y="89.91" width="4.41" height="6.95" fill="#d2d6fa"/><rect x="225.19" y="89.91" width="4.41" height="6.95" fill="#d2d6fa"/><rect x="229.00" y="89.91" width="4.41" height="6.95" fill="#d2d6fa"/><rect x="232.81" y="89.91" width="4.41" height="6.95" fill="#d2d6fa"/><rect x="236.63" y="89.91" width="4.41" height="6.95" fill="#f7dad7"/><rect x="240.44" y="89.91" width="4.41" height="6.95" fill="#a0a8f5"/><rect x="244.25" y="89.91" width="4.41" height="6.95" fill="#d2d6fa"/><rect x="248.06" y="89.91" width="4.41" height="6.95" fill="#f5f5fc"/><rect x="251.87" y="89.91" width="4.41" height="6.95" fill="#f5f5fc"/><rect x="255.68" y="89.91" width="4.41" height="6.95" fill="#eeacac"/><rect x="259.49" y="89.91" width="4.41" height="6.95" fill="#a0a8f5"/><rect x="263.30" y="89.91" width="4.41" height="6.95" fill="#d2d6fa"/><rect x="267.11" y="89.91" width="4.41" height="6.95" fill="#d2d6fa"/><rect x="270.92" y="89.91" width="4.41" height="6.95" fill="#f5f5fc"/><rect x="274.73" y="89.91" width="4.41" height="6.95" fill="#f5f5fc"/><rect x="278.54" y="89.91" width="4.41" height="6.95" fill="#a0a8f5"/><rect x="282.35" y="89.91" width="4.41" height="6.95" fill="#d2d6fa"/><rect x="286.16" y="89.91" width="4.41" height="6.95" fill="#a0a8f5"/><rect x="289.98" y="89.91" width="4.41" height="6.95" fill="#f7dad7"/><rect x="293.79" y="89.91" width="4.41" height="6.95" fill="#d2d6fa"/><rect x="297.60" y="89.91" width="4.41" height="6.95" fill="#a0a8f5"/><rect x="301.41" y="89.91" width="4.41" height="6.95" fill="#a0a8f5"/><rect x="305.22" y="89.91" width="4.41" height="6.95" fill="#a0a8f5"/><rect x="309.03" y="89.91" width="4.41" height="6.95" fill="#d2d6fa"/><rect x="312.84" y="89.91" width="4.41" height="6.95" fill="#d2d6fa"/><rect x="316.65" y="89.91" width="4.41" height="6.95" fill="#d2d6fa"/><rect x="320.46" y="89.91" width="4.41" height="6.95" fill="#d2d6fa"/><rect x="324.27" y="89.91" width="4.41" height="6.95" fill="#a0a8f5"/><rect x="328.08" y="89.91" width="4.41" height="6.95" fill="#d2d6fa"/><rect x="331.89" y="89.91" width="4.41" height="6.95" fill="#a0a8f5"/><rect x="335.70" y="89.91" width="4.41" height="6.95" fill="#a0a8f5"/><rect x="339.51" y="89.91" width="4.41" height="6.95" fill="#6a76f1"/><rect x="343.32" y="89.91" width="4.41" height="6.95" fill="#6a76f1"/><rect x="347.14" y="89.91" width="4.41" height="6.95" fill="#a0a8f5"/><rect x="350.95" y="89.91" width="4.41" height="6.95" fill="#e27072"/><rect x="354.76" y="89.91" width="4.41" height="6.95" fill="#a0a8f5"/><rect x="358.57" y="89.91" width="4.41" height="6.95" fill="#d2d6fa"/><rect x="362.38" y="89.91" width="4.41" height="6.95" fill="#a0a8f5"/><rect x="366.19" y="89.91" width="3.81" height="6.95" fill="#6a76f1"/><rect x="49.90" y="96.27" width="4.41" height="6.95" fill="#a0a8f5"/><rect x="53.71" y="96.27" width="4.41" height="6.95" fill="#d2d6fa"/><rect x="57.52" y="96.27" width="4.41" height="6.95" fill="#d2d6fa"/><rect x="61.33" y="96.27" width="4.41" height="6.95" fill="#d2d6fa"/><rect x="65.14" y="96.27" width="4.41" height="6.95" fill="#f7dad7"/><rect x="68.95" y="96.27" width="4.41" height="6.95" fill="#a0a8f5"/><rect x="72.76" y="96.27" width="4.41" height="6.95" fill="#a0a8f5"/><rect x="76.58" y="96.27" width="4.41" height="6.95" fill="#f5f5fc"/><rect x="80.39" y="96.27" width="4.41" height="6.95" fill="#eeacac"/><rect x="84.20" y="96.27" width="4.41" height="6.95" fill="#d2d6fa"/><rect x="88.01" y="96.27" width="4.41" height="6.95" fill="#f5f5fc"/><rect x="91.82" y="96.27" width="4.41" height="6.95" fill="#f7dad7"/><rect x="95.63" y="96.27" width="4.41" height="6.95" fill="#f5f5fc"/><rect x="99.44" y="96.27" width="4.41" height="6.95" fill="#f5f5fc"/><rect x="103.25" y="96.27" width="4.41" height="6.95" fill="#eeacac"/><rect x="107.06" y="96.27" width="4.41" height="6.95" fill="#a0a8f5"/><rect x="110.87" y="96.27" width="4.41" height="6.95" fill="#a0a8f5"/><rect x="114.68" y="96.27" width="4.41" height="6.95" fill="#f5f5fc"/><rect x="118.49" y="96.27" width="4.41" height="6.95" fill="#6a76f1"/><rect x="122.30" y="96.27" width="4.41" height="6.95" fill="#d2d6fa"/><rect x="126.11" y="96.27" width="4.41" height="6.95" fill="#f5f5fc"/><rect x="129.93" y="96.27" width="4.41" height="6.95" fill="#a0a8f5"/><rect x="133.74" y="96.27" width="4.41" height="6.95" fill="#f7dad7"/><rect x="137.55" y="96.27" width="4.41" height="6.95" fill="#f7dad7"/><rect x="141.36" y="96.27" width="4.41" height="6.95" fill="#d2d6fa"/><rect x="145.17" y="96.27" width="4.41" height="6.95" fill="#d2d6fa"/><rect x="148.98" y="96.27" width="4.41" height="6.95" fill="#f7dad7"/><rect x="152.79" y="96.27" width="4.41" height="6.95" fill="#d2d6fa"/><rect x="156.60" y="96.27" width="4.41" height="6.95" fill="#f7dad7"/><rect x="160.41" y="96.27" width="4.41" height="6.95" fill="#d2d6fa"/><rect x="164.22" y="96.27" width="4.41" height="6.95" fill="#a0a8f5"/><rect x="168.03" y="96.27" width="4.41" height="6.95" fill="#d2d6fa"/><rect x="171.84" y="96.27" width="4.41" height="6.95" fill="#f7dad7"/><rect x="175.65" y="96.27" width="4.41" height="6.95" fill="#f7dad7"/><rect x="179.46" y="96.27" width="4.41" height="6.95" fill="#d2d6fa"/><rect x="183.28" y="96.27" width="4.41" height="6.95" fill="#f7dad7"/><rect x="187.09" y="96.27" width="4.41" height="6.95" fill="#eeacac"/><rect x="190.90" y="96.27" width="4.41" height="6.95" fill="#f5f5fc"/><rect x="194.71" y="96.27" width="4.41" height="6.95" fill="#a0a8f5"/><rect x="198.52" y="96.27" width="4.41" height="6.95" fill="#6a76f1"/><rect x="202.33" y="96.27" width="4.41" height="6.95" fill="#202cee"/><rect x="206.14" y="96.27" width="4.41" height="6.95" fill="#6a76f1"/><rect x="209.95" y="96.27" width="4.41" height="6.95" fill="#f7dad7"/><rect x="213.76" y="96.27" width="4.41" height="6.95" fill="#f5f5fc"/><rect x="217.57" y="96.27" width="4.41" height="6.95" fill="#d2d6fa"/><rect x="221.38" y="96.27" width="4.41" height="6.95" fill="#a0a8f5"/><rect x="225.19" y="96.27" width="4.41" height="6.95" fill="#d2d6fa"/><rect x="229.00" y="96.27" width="4.41" height="6.95" fill="#d2d6fa"/><rect x="232.81" y="96.27" width="4.41" height="6.95" fill="#d2d6fa"/><rect x="236.63" y="96.27" width="4.41" height="6.95" fill="#a0a8f5"/><rect x="240.44" y="96.27" width="4.41" height="6.95" fill="#a0a8f5"/><rect x="244.25" y="96.27" width="4.41" height="6.95" fill="#6a76f1"/><rect x="248.06" y="96.27" width="4.41" height="6.95" fill="#f7dad7"/><rect x="251.87" y="96.27" width="4.41" height="6.95" fill="#d2d6fa"/><rect x="255.68" y="96.27" width="4.41" height="6.95" fill="#f7dad7"/><rect x="259.49" y="96.27" width="4.41" height="6.95" fill="#d2d6fa"/><rect x="263.30" y="96.27" width="4.41" height="6.95" fill="#f5f5fc"/><rect x="267.11" y="96.27" width="4.41" height="6.95" fill="#f5f5fc"/><rect x="270.92" y="96.27" width="4.41" height="6.95" fill="#a0a8f5"/><rect x="274.73" y="96.27" width="4.41" height="6.95" fill="#f5f5fc"/><rect x="278.54" y="96.27" width="4.41" height="6.95" fill="#d2d6fa"/><rect x="282.35" y="96.27" width="4.41" height="6.95" fill="#a0a8f5"/><rect x="286.16" y="96.27" width="4.41" height="6.95" fill="#d2d6fa"/><rect x="289.98" y="96.27" width="4.41" height="6.95" fill="#f5f5fc"/><rect x="293.79" y="96.27" width="4.41" height="6.95" fill="#a0a8f5"/><rect x="297.60" y="96.27" width="4.41" height="6.95" fill="#d2d6fa"/><rect x="301.41" y="96.27" width="4.41" height="6.95" fill="#f5f5fc"/><rect x="305.22" y="96.27" width="4.41" height="6.95" fill="#d2d6fa"/><rect x="309.03" y="96.27" width="4.41" height="6.95" fill="#e27072"/><rect x="312.84" y="96.27" width="4.41" height="6.95" fill="#eeacac"/><rect x="316.65" y="96.27" width="4.41" height="6.95" fill="#d2d6fa"/><rect x="320.46" y="96.27" width="4.41" height="6.95" fill="#6a76f1"/><rect x="324.27" y="96.27" width="4.41" height="6.95" fill="#f5f5fc"/><rect x="328.08" y="96.27" width="4.41" height="6.95" fill="#6a76f1"/><rect x="331.89" y="96.27" width="4.41" height="6.95" fill="#f5f5fc"/><rect x="335.70" y="96.27" width="4.41" height="6.95" fill="#f7dad7"/><rect x="339.51" y="96.27" width="4.41" height="6.95" fill="#d2d6fa"/><rect x="343.32" y="96.27" width="4.41" height="6.95" fill="#d2d6fa"/><rect x="347.14" y="96.27" width="4.41" height="6.95" fill="#f5f5fc"/><rect x="350.95" y="96.27" width="4.41" height="6.95" fill="#d2d6fa"/><rect x="354.76" y="96.27" width="4.41" height="6.95" fill="#a0a8f5"/><rect x="358.57" y="96.27" width="4.41" height="6.95" fill="#d2d6fa"/><rect x="362.38" y="96.27" width="4.41" height="6.95" fill="#eeacac"/><rect x="366.19" y="96.27" width="3.81" height="6.95" fill="#f7dad7"/><rect x="49.90" y="102.62" width="4.41" height="6.95" fill="#d2d6fa"/><rect x="53.71" y="102.62" width="4.41" height="6.95" fill="#f5f5fc"/><rect x="57.52" y="102.62" width="4.41" height="6.95" fill="#d2d6fa"/><rect x="61.33" y="102.62" width="4.41" height="6.95" fill="#f7dad7"/><rect x="65.14" y="102.62" width="4.41" height="6.95" fill="#6a76f1"/><rect x="68.95" y="102.62" width="4.41" height="6.95" fill="#6a76f1"/><rect x="72.76" y="102.62" width="4.41" height="6.95" fill="#a0a8f5"/><rect x="76.58" y="102.62" width="4.41" height="6.95" fill="#d2d6fa"/><rect x="80.39" y="102.62" width="4.41" height="6.95" fill="#a0a8f5"/><rect x="84.20" y="102.62" width="4.41" height="6.95" fill="#f5f5fc"/><rect x="88.01" y="102.62" width="4.41" height="6.95" fill="#d2d6fa"/><rect x="91.82" y="102.62" width="4.41" height="6.95" fill="#a0a8f5"/><rect x="95.63" y="102.62" width="4.41" height="6.95" fill="#a0a8f5"/><rect x="99.44" y="102.62" width="4.41" height="6.95" fill="#6a76f1"/><rect x="103.25" y="102.62" width="4.41" height="6.95" fill="#f5f5fc"/><rect x="107.06" y="102.62" width="4.41" height="6.95" fill="#6a76f1"/><rect x="110.87" y="102.62" width="4.41" height="6.95" fill="#d2d6fa"/><rect x="114.68" y="102.62" width="4.41" height="6.95" fill="#6a76f1"/><rect x="118.49" y="102.62" width="4.41" height="6.95" fill="#a0a8f5"/><rect x="122.30" y="102.62" width="4.41" height="6.95" fill="#d2d6fa"/><rect x="126.11" y="102.62" width="4.41" height="6.95" fill="#a0a8f5"/><rect x="129.93" y="102.62" width="4.41" height="6.95" fill="#a0a8f5"/><rect x="133.74" y="102.62" width="4.41" height="6.95" fill="#a0a8f5"/><rect x="137.55" y="102.62" width="4.41" height="6.95" fill="#d2d6fa"/><rect x="141.36" y="102.62" width="4.41" height="6.95" fill="#d2d6fa"/><rect x="145.17" y="102.62" width="4.41" height="6.95" fill="#6a76f1"/><rect x="148.98" y="102.62" width="4.41" height="6.95" fill="#d2d6fa"/><rect x="152.79" y="102.62" width="4.41" height="6.95" fill="#d2d6fa"/><rect x="156.60" y="102.62" width="4.41" height="6.95" fill="#d2d6fa"/><rect x="160.41" y="102.62" width="4.41" height="6.95" fill="#f5f5fc"/><rect x="164.22" y="102.62" width="4.41" height="6.95" fill="#d2d6fa"/><rect x="168.03" y="102.62" width="4.41" height="6.95" fill="#a0a8f5"/><rect x="171.84" y="102.62" width="4.41" height="6.95" fill="#a0a8f5"/><rect x="175.65" y="102.62" width="4.41" height="6.95" fill="#f5f5fc"/><rect x="179.46" y="102.62" width="4.41" height="6.95" fill="#f5f5fc"/><rect x="183.28" y="102.62" width="4.41" height="6.95" fill="#6a76f1"/><rect x="187.09" y="102.62" width="4.41" height="6.95" fill="#a0a8f5"/><rect x="190.90" y="102.62" width="4.41" height="6.95" fill="#a0a8f5"/><rect x="194.71" y="102.62" width="4.41" height="6.95" fill="#f7dad7"/><rect x="198.52" y="102.62" width="4.41" height="6.95" fill="#f5f5fc"/><rect x="202.33" y="102.62" width="4.41" height="6.95" fill="#d2d6fa"/><rect x="206.14" y="102.62" width="4.41" height="6.95" fill="#d2d6fa"/><rect x="209.95" y="102.62" width="4.41" height="6.95" fill="#f7dad7"/><rect x="213.76" y="102.62" width="4.41" height="6.95" fill="#f5f5fc"/><rect x="217.57" y="102.62" width="4.41" height="6.95" fill="#a0a8f5"/><rect x="221.38" y="102.62" width="4.41" height="6.95" fill="#f5f5fc"/><rect x="225.19" y="102.62" width="4.41" height="6.95" fill="#eeacac"/><rect x="229.00" y="102.62" width="4.41" height="6.95" fill="#f7dad7"/><rect x="232.81" y="102.62" width="4.41" height="6.95" fill="#f7dad7"/><rect x="236.63" y="102.62" width="4.41" height="6.95" fill="#f5f5fc"/><rect x="240.44" y="102.62" width="4.41" height="6.95" fill="#d2d6fa"/><rect x="244.25" y="102.62" width="4.41" height="6.95" fill="#d2d6fa"/><rect x="248.06" y="102.62" width="4.41" height="6.95" fill="#f5f5fc"/><rect x="251.87" y="102.62" width="4.41" height="6.95" fill="#f7dad7"/><rect x="255.68" y="102.62" width="4.41" height="6.95" fill="#f5f5fc"/><rect x="259.49" y="102.62" width="4.41" height="6.95" fill="#f7dad7"/><rect x="263.30" y="102.62" width="4.41" height="6.95" fill="#a0a8f5"/><rect x="267.11" y="102.62" width="4.41" height="6.95" fill="#d2d6fa"/><rect x="270.92" y="102.62" width="4.41" height="6.95" fill="#a0a8f5"/><rect x="274.73" y="102.62" width="4.41" height="6.95" fill="#d2d6fa"/><rect x="278.54" y="102.62" width="4.41" height="6.95" fill="#f7dad7"/><rect x="282.35" y="102.62" width="4.41" height="6.95" fill="#d2d6fa"/><rect x="286.16" y="102.62" width="4.41" height="6.95" fill="#d2d6fa"/><rect x="289.98" y="102.62" width="4.41" height="6.95" fill="#a0a8f5"/><rect x="293.79" y="102.62" width="4.41" height="6.95" fill="#a0a8f5"/><rect x="297.60" y="102.62" width="4.41" height="6.95" fill="#f7dad7"/><rect x="301.41" y="102.62" width="4.41" height="6.95" fill="#f5f5fc"/><rect x="305.22" y="102.62" width="4.41" height="6.95" fill="#f5f5fc"/><rect x="309.03" y="102.62" width="4.41" height="6.95" fill="#d2d6fa"/><rect x="312.84" y="102.62" width="4.41" height="6.95" fill="#d2d6fa"/><rect x="316.65" y="102.62" width="4.41" height="6.95" fill="#eeacac"/><rect x="320.46" y="102.62" width="4.41" height="6.95" fill="#f7dad7"/><rect x="324.27" y="102.62" width="4.41" height="6.95" fill="#e27072"/><rect x="328.08" y="102.62" width="4.41" height="6.95" fill="#eeacac"/><rect x="331.89" y="102.62" width="4.41" height="6.95" fill="#d2d6fa"/><rect x="335.70" y="102.62" width="4.41" height="6.95" fill="#a0a8f5"/><rect x="339.51" y="102.62" width="4.41" height="6.95" fill="#f7dad7"/><rect x="343.32" y="102.62" width="4.41" height="6.95" fill="#f5f5fc"/><rect x="347.14" y="102.62" width="4.41" height="6.95" fill="#d2d6fa"/><rect x="350.95" y="102.62" width="4.41" height="6.95" fill="#a0a8f5"/><rect x="354.76" y="102.62" width="4.41" height="6.95" fill="#f7dad7"/><rect x="358.57" y="102.62" width="4.41" height="6.95" fill="#f5f5fc"/><rect x="362.38" y="102.62" width="4.41" height="6.95" fill="#f7dad7"/><rect x="366.19" y="102.62" width="3.81" height="6.95" fill="#d2d6fa"/><rect x="49.90" y="108.97" width="4.41" height="6.95" fill="#a0a8f5"/><rect x="53.71" y="108.97" width="4.41" height="6.95" fill="#f5f5fc"/><rect x="57.52" y="108.97" width="4.41" height="6.95" fill="#a0a8f5"/><rect x="61.33" y="108.97" width="4.41" height="6.95" fill="#d2d6fa"/><rect x="65.14" y="108.97" width="4.41" height="6.95" fill="#a0a8f5"/><rect x="68.95" y="108.97" width="4.41" height="6.95" fill="#f5f5fc"/><rect x="72.76" y="108.97" width="4.41" height="6.95" fill="#d2d6fa"/><rect x="76.58" y="108.97" width="4.41" height="6.95" fill="#202cee"/><rect x="80.39" y="108.97" width="4.41" height="6.95" fill="#a0a8f5"/><rect x="84.20" y="108.97" width="4.41" height="6.95" fill="#a0a8f5"/><rect x="88.01" y="108.97" width="4.41" height="6.95" fill="#a0a8f5"/><rect x="91.82" y="108.97" width="4.41" height="6.95" fill="#d2d6fa"/><rect x="95.63" y="108.97" width="4.41" height="6.95" fill="#f5f5fc"/><rect x="99.44" y="108.97" width="4.41" height="6.95" fill="#a0a8f5"/><rect x="103.25" y="108.97" width="4.41" height="6.95" fill="#f5f5fc"/><rect x="107.06" y="108.97" width="4.41" height="6.95" fill="#f7dad7"/><rect x="110.87" y="108.97" width="4.41" height="6.95" fill="#f7dad7"/><rect x="114.68" y="108.97" width="4.41" height="6.95" fill="#f5f5fc"/><rect x="118.49" y="108.97" width="4.41" height="6.95" fill="#f5f5fc"/><rect x="122.30" y="108.97" width="4.41" height="6.95" fill="#f7dad7"/><rect x="126.11" y="108.97" width="4.41" height="6.95" fill="#f5f5fc"/><rect x="129.93" y="108.97" width="4.41" height="6.95" fill="#d2d6fa"/><rect x="133.74" y="108.97" width="4.41" height="6.95" fill="#f7dad7"/><rect x="137.55" y="108.97" width="4.41" height="6.95" fill="#d2d6fa"/><rect x="141.36" y="108.97" width="4.41" height="6.95" fill="#f5f5fc"/><rect x="145.17" y="108.97" width="4.41" height="6.95" fill="#a0a8f5"/><rect x="148.98" y="108.97" width="4.41" height="6.95" fill="#a0a8f5"/><rect x="152.79" y="108.97" width="4.41" height="6.95" fill="#a0a8f5"/><rect x="156.60" y="108.97" width="4.41" height="6.95" fill="#a0a8f5"/><rect x="160.41" y="108.97" width="4.41" height="6.95" fill="#6a76f1"/><rect x="164.22" y="108.97" width="4.41" height="6.95" fill="#d2d6fa"/><rect x="168.03" y="108.97" width="4.41" height="6.95" fill="#a0a8f5"/><rect x="171.84" y="108.97" width="4.41" height="6.95" fill="#a0a8f5"/><rect x="175.65" y="108.97" width="4.41" height="6.95" fill="#f5f5fc"/><rect x="179.46" y="108.97" width="4.41" height="6.95" fill="#d2d6fa"/><rect x="183.28" y="108.97" width="4.41" height="6.95" fill="#a0a8f5"/><rect x="187.09" y="108.97" width="4.41" height="6.95" fill="#a0a8f5"/><rect x="190.90" y="108.97" width="4.41" height="6.95" fill="#f7dad7"/><rect x="194.71" y="108.97" width="4.41" height="6.95" fill="#d2d6fa"/><rect x="198.52" y="108.97" width="4.41" height="6.95" fill="#f7dad7"/><rect x="202.33" y="108.97" width="4.41" height="6.95" fill="#a0a8f5"/><rect x="206.14" y="108.97" width="4.41" height="6.95" fill="#f5f5fc"/><rect x="209.95" y="108.97" width="4.41" height="6.95" fill="#eeacac"/><rect x="213.76" y="108.97" width="4.41" height="6.95" fill="#eeacac"/><rect x="217.57" y="108.97" width="4.41" height="6.95" fill="#eeacac"/><rect x="221.38" y="108.97" width="4.41" height="6.95" fill="#f7dad7"/><rect x="225.19" y="108.97" width="4.41" height="6.95" fill="#f7dad7"/><rect x="229.00" y="108.97" width="4.41" height="6.95" fill="#f7dad7"/><rect x="232.81" y="108.97" width="4.41" height="6.95" fill="#eeacac"/><rect x="236.63" y="108.97" width="4.41" height="6.95" fill="#eeacac"/><rect x="240.44" y="108.97" width="4.41" height="6.95" fill="#eeacac"/><rect x="244.25" y="108.97" width="4.41" height="6.95" fill="#eeacac"/><rect x="248.06" y="108.97" width="4.41" height="6.95" fill="#a0a8f5"/><rect x="251.87" y="108.97" width="4.41" height="6.95" fill="#d2d6fa"/><rect x="255.68" y="108.97" width="4.41" height="6.95" fill="#6a76f1"/><rect x="259.49" y="108.97" width="4.41" height="6.95" fill="#f5f5fc"/><rect x="263.30" y="108.97" width="4.41" height="6.95" fill="#6a76f1"/><rect x="267.11" y="108.97" width="4.41" height="6.95" fill="#d2d6fa"/><rect x="270.92" y="108.97" width="4.41" height="6.95" fill="#f7dad7"/><rect x="274.73" y="108.97" width="4.41" height="6.95" fill="#f7dad7"/><rect x="278.54" y="108.97" width="4.41" height="6.95" fill="#f7dad7"/><rect x="282.35" y="108.97" width="4.41" height="6.95" fill="#a0a8f5"/><rect x="286.16" y="108.97" width="4.41" height="6.95" fill="#d2d6fa"/><rect x="289.98" y="108.97" width="4.41" height="6.95" fill="#f5f5fc"/><rect x="293.79" y="108.97" width="4.41" height="6.95" fill="#f7dad7"/><rect x="297.60" y="108.97" width="4.41" height="6.95" fill="#f5f5fc"/><rect x="301.41" y="108.97" width="4.41" height="6.95" fill="#f5f5fc"/><rect x="305.22" y="108.97" width="4.41" height="6.95" fill="#d2d6fa"/><rect x="309.03" y="108.97" width="4.41" height="6.95" fill="#d2d6fa"/><rect x="312.84" y="108.97" width="4.41" height="6.95" fill="#f7dad7"/><rect x="316.65" y="108.97" width="4.41" height="6.95" fill="#f5f5fc"/><rect x="320.46" y="108.97" width="4.41" height="6.95" fill="#d2d6fa"/><rect x="324.27" y="108.97" width="4.41" height="6.95" fill="#d2d6fa"/><rect x="328.08" y="108.97" width="4.41" height="6.95" fill="#a0a8f5"/><rect x="331.89" y="108.97" width="4.41" height="6.95" fill="#d2d6fa"/><rect x="335.70" y="108.97" width="4.41" height="6.95" fill="#d2d6fa"/><rect x="339.51" y="108.97" width="4.41" height="6.95" fill="#a0a8f5"/><rect x="343.32" y="108.97" width="4.41" height="6.95" fill="#a0a8f5"/><rect x="347.14" y="108.97" width="4.41" height="6.95" fill="#d2d6fa"/><rect x="350.95" y="108.97" width="4.41" height="6.95" fill="#d2d6fa"/><rect x="354.76" y="108.97" width="4.41" height="6.95" fill="#d2d6fa"/><rect x="358.57" y="108.97" width="4.41" height="6.95" fill="#eeacac"/><rect x="362.38" y="108.97" width="4.41" height="6.95" fill="#f5f5fc"/><rect x="366.19" y="108.97" width="3.81" height="6.95" fill="#d2d6fa"/><rect x="49.90" y="115.32" width="4.41" height="6.95" fill="#f5f5fc"/><rect x="53.71" y="115.32" width="4.41" height="6.95" fill="#d2d6fa"/><rect x="57.52" y="115.32" width="4.41" height="6.95" fill="#d2d6fa"/><rect x="61.33" y="115.32" width="4.41" height="6.95" fill="#f7dad7"/><rect x="65.14" y="115.32" width="4.41" height="6.95" fill="#6a76f1"/><rect x="68.95" y="115.32" width="4.41" height="6.95" fill="#d2d6fa"/><rect x="72.76" y="115.32" width="4.41" height="6.95" fill="#6a76f1"/><rect x="76.58" y="115.32" width="4.41" height="6.95" fill="#f7dad7"/><rect x="80.39" y="115.32" width="4.41" height="6.95" fill="#f7dad7"/><rect x="84.20" y="115.32" width="4.41" height="6.95" fill="#d2d6fa"/><rect x="88.01" y="115.32" width="4.41" height="6.95" fill="#f7dad7"/><rect x="91.82" y="115.32" width="4.41" height="6.95" fill="#a0a8f5"/><rect x="95.63" y="115.32" width="4.41" height="6.95" fill="#d2d6fa"/><rect x="99.44" y="115.32" width="4.41" height="6.95" fill="#a0a8f5"/><rect x="103.25" y="115.32" width="4.41" height="6.95" fill="#e27072"/><rect x="107.06" y="115.32" width="4.41" height="6.95" fill="#e27072"/><rect x="110.87" y="115.32" width="4.41" height="6.95" fill="#f7dad7"/><rect x="114.68" y="115.32" width="4.41" height="6.95" fill="#d2d6fa"/><rect x="118.49" y="115.32" width="4.41" height="6.95" fill="#f5f5fc"/><rect x="122.30" y="115.32" width="4.41" height="6.95" fill="#f5f5fc"/><rect x="126.11" y="115.32" width="4.41" height="6.95" fill="#a0a8f5"/><rect x="129.93" y="115.32" width="4.41" height="6.95" fill="#f5f5fc"/><rect x="133.74" y="115.32" width="4.41" height="6.95" fill="#a0a8f5"/><rect x="137.55" y="115.32" width="4.41" height="6.95" fill="#f7dad7"/><rect x="141.36" y="115.32" width="4.41" height="6.95" fill="#f5f5fc"/><rect x="145.17" y="115.32" width="4.41" height="6.95" fill="#a0a8f5"/><rect x="148.98" y="115.32" width="4.41" height="6.95" fill="#d2d6fa"/><rect x="152.79" y="115.32" width="4.41" height="6.95" fill="#f7dad7"/><rect x="156.60" y="115.32" width="4.41" height="6.95" fill="#eeacac"/><rect x="160.41" y="115.32" width="4.41" height="6.95" fill="#f5f5fc"/><rect x="164.22" y="115.32" width="4.41" height="6.95" fill="#f7dad7"/><rect x="168.03" y="115.32" width="4.41" height="6.95" fill="#f7dad7"/><rect x="171.84" y="115.32" width="4.41" height="6.95" fill="#d2d6fa"/><rect x="175.65" y="115.32" width="4.41" height="6.95" fill="#a0a8f5"/><rect x="179.46" y="115.32" width="4.41" height="6.95" fill="#f7dad7"/><rect x="183.28" y="115.32" width="4.41" height="6.95" fill="#a0a8f5"/><rect x="187.09" y="115.32" width="4.41" height="6.95" fill="#f7dad7"/><rect x="190.90" y="115.32" width="4.41" height="6.95" fill="#f5f5fc"/><rect x="194.71" y="115.32" width="4.41" height="6.95" fill="#d2d6fa"/><rect x="198.52" y="115.32" width="4.41" height="6.95" fill="#f5f5fc"/><rect x="202.33" y="115.32" width="4.41" height="6.95" fill="#f7dad7"/><rect x="206.14" y="115.32" width="4.41" height="6.95" fill="#e27072"/><rect x="209.95" y="115.32" width="4.41" height="6.95" fill="#eeacac"/><rect x="213.76" y="115.32" width="4.41" height="6.95" fill="#eeacac"/><rect x="217.57" y="115.32" width="4.41" height="6.95" fill="#e27072"/><rect x="221.38" y="115.32" width="4.41" height="6.95" fill="#eeacac"/><rect x="225.19" y="115.32" width="4.41" height="6.95" fill="#eeacac"/><rect x="229.00" y="115.32" width="4.41" height="6.95" fill="#e27072"/><rect x="232.81" y="115.32" width="4.41" height="6.95" fill="#eeacac"/><rect x="236.63" y="115.32" width="4.41" height="6.95" fill="#eeacac"/><rect x="240.44" y="115.32" width="4.41" height="6.95" fill="#e27072"/><rect x="244.25" y="115.32" width="4.41" height="6.95" fill="#eeacac"/><rect x="248.06" y="115.32" width="4.41" height="6.95" fill="#f5f5fc"/><rect x="251.87" y="115.32" width="4.41" height="6.95" fill="#a0a8f5"/><rect x="255.68" y="115.32" width="4.41" height="6.95" fill="#d2d6fa"/><rect x="259.49" y="115.32" width="4.41" height="6.95" fill="#f7dad7"/><rect x="263.30" y="115.32" width="4.41" height="6.95" fill="#d2d6fa"/><rect x="267.11" y="115.32" width="4.41" height="6.95" fill="#d2d6fa"/><rect x="270.92" y="115.32" width="4.41" height="6.95" fill="#f5f5fc"/><rect x="274.73" y="115.32" width="4.41" height="6.95" fill="#eeacac"/><rect x="278.54" y="115.32" width="4.41" height="6.95" fill="#eeacac"/><rect x="282.35" y="115.32" width="4.41" height="6.95" fill="#f7dad7"/><rect x="286.16" y="115.32" width="4.41" height="6.95" fill="#eeacac"/><rect x="289.98" y="115.32" width="4.41" height="6.95" fill="#eeacac"/><rect x="293.79" y="115.32" width="4.41" height="6.95" fill="#f5f5fc"/><rect x="297.60" y="115.32" width="4.41" height="6.95" fill="#e27072"/><rect x="301.41" y="115.32" width="4.41" height="6.95" fill="#eeacac"/><rect x="305.22" y="115.32" width="4.41" height="6.95" fill="#f7dad7"/><rect x="309.03" y="115.32" width="4.41" height="6.95" fill="#f5f5fc"/><rect x="312.84" y="115.32" width="4.41" height="6.95" fill="#a0a8f5"/><rect x="316.65" y="115.32" width="4.41" height="6.95" fill="#d2d6fa"/><rect x="320.46" y="115.32" width="4.41" height="6.95" fill="#f7dad7"/><rect x="324.27" y="115.32" width="4.41" height="6.95" fill="#a0a8f5"/><rect x="328.08" y="115.32" width="4.41" height="6.95" fill="#d2d6fa"/><rect x="331.89" y="115.32" width="4.41" height="6.95" fill="#d2d6fa"/><rect x="335.70" y="115.32" width="4.41" height="6.95" fill="#6a76f1"/><rect x="339.51" y="115.32" width="4.41" height="6.95" fill="#d2d6fa"/><rect x="343.32" y="115.32" width="4.41" height="6.95" fill="#d2d6fa"/><rect x="347.14" y="115.32" width="4.41" height="6.95" fill="#f7dad7"/><rect x="350.95" y="115.32" width="4.41" height="6.95" fill="#6a76f1"/><rect x="354.76" y="115.32" width="4.41" height="6.95" fill="#d2d6fa"/><rect x="358.57" y="115.32" width="4.41" height="6.95" fill="#f5f5fc"/><rect x="362.38" y="115.32" width="4.41" height="6.95" fill="#a0a8f5"/><rect x="366.19" y="115.32" width="3.81" height="6.95" fill="#d2d6fa"/><rect x="49.90" y="121.67" width="4.41" height="6.95" fill="#d2d6fa"/><rect x="53.71" y="121.67" width="4.41" height="6.95" fill="#d2d6fa"/><rect x="57.52" y="121.67" width="4.41" height="6.95" fill="#f5f5fc"/><rect x="61.33" y="121.67" width="4.41" height="6.95" fill="#d2d6fa"/><rect x="65.14" y="121.67" width="4.41" height="6.95" fill="#f5f5fc"/><rect x="68.95" y="121.67" width="4.41" height="6.95" fill="#6a76f1"/><rect x="72.76" y="121.67" width="4.41" height="6.95" fill="#f7dad7"/><rect x="76.58" y="121.67" width="4.41" height="6.95" fill="#d2d6fa"/><rect x="80.39" y="121.67" width="4.41" height="6.95" fill="#a0a8f5"/><rect x="84.20" y="121.67" width="4.41" height="6.95" fill="#eeacac"/><rect x="88.01" y="121.67" width="4.41" height="6.95" fill="#d2d6fa"/><rect x="91.82" y="121.67" width="4.41" height="6.95" fill="#d2d6fa"/><rect x="95.63" y="121.67" width="4.41" height="6.95" fill="#d2d6fa"/><rect x="99.44" y="121.67" width="4.41" height="6.95" fill="#d2d6fa"/><rect x="103.25" y="121.67" width="4.41" height="6.95" fill="#d2d6fa"/><rect x="107.06" y="121.67" width="4.41" height="6.95" fill="#f7dad7"/><rect x="110.87" y="121.67" width="4.41" height="6.95" fill="#d2d6fa"/><rect x="114.68" y="121.67" width="4.41" height="6.95" fill="#6a76f1"/><rect x="118.49" y="121.67" width="4.41" height="6.95" fill="#a0a8f5"/><rect x="122.30" y="121.67" width="4.41" height="6.95" fill="#f5f5fc"/><rect x="126.11" y="121.67" width="4.41" height="6.95" fill="#f7dad7"/><rect x="129.93" y="121.67" width="4.41" height="6.95" fill="#d2d6fa"/><rect x="133.74" y="121.67" width="4.41" height="6.95" fill="#f7dad7"/><rect x="137.55" y="121.67" width="4.41" height="6.95" fill="#f5f5fc"/><rect x="141.36" y="121.67" width="4.41" height="6.95" fill="#d2d6fa"/><rect x="145.17" y="121.67" width="4.41" height="6.95" fill="#f7dad7"/><rect x="148.98" y="121.67" width="4.41" height="6.95" fill="#f5f5fc"/><rect x="152.79" y="121.67" width="4.41" height="6.95" fill="#d2d6fa"/><rect x="156.60" y="121.67" width="4.41" height="6.95" fill="#f7dad7"/><rect x="160.41" y="121.67" width="4.41" height="6.95" fill="#f5f5fc"/><rect x="164.22" y="121.67" width="4.41" height="6.95" fill="#d2d6fa"/><rect x="168.03" y="121.67" width="4.41" height="6.95" fill="#a0a8f5"/><rect x="171.84" y="121.67" width="4.41" height="6.95" fill="#f7dad7"/><rect x="175.65" y="121.67" width="4.41" height="6.95" fill="#a0a8f5"/><rect x="179.46" y="121.67" width="4.41" height="6.95" fill="#d2d6fa"/><rect x="183.28" y="121.67" width="4.41" height="6.95" fill="#eeacac"/><rect x="187.09" y="121.67" width="4.41" height="6.95" fill="#a0a8f5"/><rect x="190.90" y="121.67" width="4.41" height="6.95" fill="#a0a8f5"/><rect x="194.71" y="121.67" width="4.41" height="6.95" fill="#d2d6fa"/><rect x="198.52" y="121.67" width="4.41" height="6.95" fill="#f5f5fc"/><rect x="202.33" y="121.67" width="4.41" height="6.95" fill="#a0a8f5"/><rect x="206.14" y="121.67" width="4.41" height="6.95" fill="#a0a8f5"/><rect x="209.95" y="121.67" width="4.41" height="6.95" fill="#f7dad7"/><rect x="213.76" y="121.67" width="4.41" height="6.95" fill="#f5f5fc"/><rect x="217.57" y="121.67" width="4.41" height="6.95" fill="#d2d6fa"/><rect x="221.38" y="121.67" width="4.41" height="6.95" fill="#f5f5fc"/><rect x="225.19" y="121.67" width="4.41" height="6.95" fill="#a0a8f5"/><rect x="229.00" y="121.67" width="4.41" height="6.95" fill="#a0a8f5"/><rect x="232.81" y="121.67" width="4.41" height="6.95" fill="#a0a8f5"/><rect x="236.63" y="121.67" width="4.41" height="6.95" fill="#d2d6fa"/><rect x="240.44" y="121.67" width="4.41" height="6.95" fill="#a0a8f5"/><rect x="244.25" y="121.67" width="4.41" height="6.95" fill="#f7dad7"/><rect x="248.06" y="121.67" width="4.41" height="6.95" fill="#d2d6fa"/><rect x="251.87" y="121.67" width="4.41" height="6.95" fill="#d2d6fa"/><rect x="255.68" y="121.67" width="4.41" height="6.95" fill="#6a76f1"/><rect x="259.49" y="121.67" width="4.41" height="6.95" fill="#d2d6fa"/><rect x="263.30" y="121.67" width="4.41" height="6.95" fill="#a0a8f5"/><rect x="267.11" y="121.67" width="4.41" height="6.95" fill="#f5f5fc"/><rect x="270.92" y="121.67" width="4.41" height="6.95" fill="#d2d6fa"/><rect x="274.73" y="121.67" width="4.41" height="6.95" fill="#d2d6fa"/><rect x="278.54" y="121.67" width="4.41" height="6.95" fill="#6a76f1"/><rect x="282.35" y="121.67" width="4.41" height="6.95" fill="#f5f5fc"/><rect x="286.16" y="121.67" width="4.41" height="6.95" fill="#d2d6fa"/><rect x="289.98" y="121.67" width="4.41" height="6.95" fill="#f7dad7"/><rect x="293.79" y="121.67" width="4.41" height="6.95" fill="#f7dad7"/><rect x="297.60" y="121.67" width="4.41" height="6.95" fill="#f5f5fc"/><rect x="301.41" y="121.67" width="4.41" height="6.95" fill="#f5f5fc"/><rect x="305.22" y="121.67" width="4.41" height="6.95" fill="#f5f5fc"/><rect x="309.03" y="121.67" width="4.41" height="6.95" fill="#f7dad7"/><rect x="312.84" y="121.67" width="4.41" height="6.95" fill="#d2d6fa"/><rect x="316.65" y="121.67" width="4.41" height="6.95" fill="#f7dad7"/><rect x="320.46" y="121.67" width="4.41" height="6.95" fill="#e27072"/><rect x="324.27" y="121.67" width="4.41" height="6.95" fill="#a0a8f5"/><rect x="328.08" y="121.67" width="4.41" height="6.95" fill="#f7dad7"/><rect x="331.89" y="121.67" width="4.41" height="6.95" fill="#f7dad7"/><rect x="335.70" y="121.67" width="4.41" height="6.95" fill="#f5f5fc"/><rect x="339.51" y="121.67" width="4.41" height="6.95" fill="#f7dad7"/><rect x="343.32" y="121.67" width="4.41" height="6.95" fill="#e27072"/><rect x="347.14" y="121.67" width="4.41" height="6.95" fill="#eeacac"/><rect x="350.95" y="121.67" width="4.41" height="6.95" fill="#a0a8f5"/><rect x="354.76" y="121.67" width="4.41" height="6.95" fill="#a0a8f5"/><rect x="358.57" y="121.67" width="4.41" height="6.95" fill="#a0a8f5"/><rect x="362.38" y="121.67" width="4.41" height="6.95" fill="#d2d6fa"/><rect x="366.19" y="121.67" width="3.81" height="6.95" fill="#f7dad7"/><rect x="49.90" y="128.03" width="4.41" height="6.95" fill="#d2d6fa"/><rect x="53.71" y="128.03" width="4.41" height="6.95" fill="#d2d6fa"/><rect x="57.52" y="128.03" width="4.41" height="6.95" fill="#f7dad7"/><rect x="61.33" y="128.03" width="4.41" height="6.95" fill="#f7dad7"/><rect x="65.14" y="128.03" width="4.41" height="6.95" fill="#f7dad7"/><rect x="68.95" y="128.03" width="4.41" height="6.95" fill="#f7dad7"/><rect x="72.76" y="128.03" width="4.41" height="6.95" fill="#eeacac"/><rect x="76.58" y="128.03" width="4.41" height="6.95" fill="#f5f5fc"/><rect x="80.39" y="128.03" width="4.41" height="6.95" fill="#d2d6fa"/><rect x="84.20" y="128.03" width="4.41" height="6.95" fill="#a0a8f5"/><rect x="88.01" y="128.03" width="4.41" height="6.95" fill="#6a76f1"/><rect x="91.82" y="128.03" width="4.41" height="6.95" fill="#a0a8f5"/><rect x="95.63" y="128.03" width="4.41" height="6.95" fill="#a0a8f5"/><rect x="99.44" y="128.03" width="4.41" height="6.95" fill="#f5f5fc"/><rect x="103.25" y="128.03" width="4.41" height="6.95" fill="#6a76f1"/><rect x="107.06" y="128.03" width="4.41" height="6.95" fill="#a0a8f5"/><rect x="110.87" y="128.03" width="4.41" height="6.95" fill="#f5f5fc"/><rect x="114.68" y="128.03" width="4.41" height="6.95" fill="#a0a8f5"/><rect x="118.49" y="128.03" width="4.41" height="6.95" fill="#d2d6fa"/><rect x="122.30" y="128.03" width="4.41" height="6.95" fill="#eeacac"/><rect x="126.11" y="128.03" width="4.41" height="6.95" fill="#f7dad7"/><rect x="129.93" y="128.03" width="4.41" height="6.95" fill="#d2d6fa"/><rect x="133.74" y="128.03" width="4.41" height="6.95" fill="#f7dad7"/><rect x="137.55" y="128.03" width="4.41" height="6.95" fill="#f7dad7"/><rect x="141.36" y="128.03" width="4.41" height="6.95" fill="#f5f5fc"/><rect x="145.17" y="128.03" width="4.41" height="6.95" fill="#f5f5fc"/><rect x="148.98" y="128.03" width="4.41" height="6.95" fill="#d2d6fa"/><rect x="152.79" y="128.03" width="4.41" height="6.95" fill="#d2d6fa"/><rect x="156.60" y="128.03" width="4.41" height="6.95" fill="#f5f5fc"/><rect x="160.41" y="128.03" width="4.41" height="6.95" fill="#a0a8f5"/><rect x="164.22" y="128.03" width="4.41" height="6.95" fill="#a0a8f5"/><rect x="168.03" y="128.03" width="4.41" height="6.95" fill="#a0a8f5"/><rect x="171.84" y="128.03" width="4.41" height="6.95" fill="#f5f5fc"/><rect x="175.65" y="128.03" width="4.41" height="6.95" fill="#d2d6fa"/><rect x="179.46" y="128.03" width="4.41" height="6.95" fill="#f7dad7"/><rect x="183.28" y="128.03" width="4.41" height="6.95" fill="#f5f5fc"/><rect x="187.09" y="128.03" width="4.41" height="6.95" fill="#f5f5fc"/><rect x="190.90" y="128.03" width="4.41" height="6.95" fill="#f7dad7"/><rect x="194.71" y="128.03" width="4.41" height="6.95" fill="#eeacac"/><rect x="198.52" y="128.03" width="4.41" height="6.95" fill="#d2d6fa"/><rect x="202.33" y="128.03" width="4.41" height="6.95" fill="#f5f5fc"/><rect x="206.14" y="128.03" width="4.41" height="6.95" fill="#f7dad7"/><rect x="209.95" y="128.03" width="4.41" height="6.95" fill="#f5f5fc"/><rect x="213.76" y="128.03" width="4.41" height="6.95" fill="#f7dad7"/><rect x="217.57" y="128.03" width="4.41" height="6.95" fill="#f5f5fc"/><rect x="221.38" y="128.03" width="4.41" height="6.95" fill="#f5f5fc"/><rect x="225.19" y="128.03" width="4.41" height="6.95" fill="#f5f5fc"/><rect x="229.00" y="128.03" width="4.41" height="6.95" fill="#d2d6fa"/><rect x="232.81" y="128.03" width="4.41" height="6.95" fill="#eeacac"/><rect x="236.63" y="128.03" width="4.41" height="6.95" fill="#f5f5fc"/><rect x="240.44" y="128.03" width="4.41" height="6.95" fill="#d2d6fa"/><rect x="244.25" y="128.03" width="4.41" height="6.95" fill="#a0a8f5"/><rect x="248.06" y="128.03" width="4.41" height="6.95" fill="#d2d6fa"/><rect x="251.87" y="128.03" width="4.41" height="6.95" fill="#f5f5fc"/><rect x="255.68" y="128.03" width="4.41" height="6.95" fill="#f5f5fc"/><rect x="259.49" y="128.03" width="4.41" height="6.95" fill="#d2d6fa"/><rect x="263.30" y="128.03" width="4.41" height="6.95" fill="#eeacac"/><rect x="267.11" y="128.03" width="4.41" height="6.95" fill="#d2d6fa"/><rect x="270.92" y="128.03" width="4.41" height="6.95" fill="#f7dad7"/><rect x="274.73" y="128.03" width="4.41" height="6.95" fill="#f7dad7"/><rect x="278.54" y="128.03" width="4.41" height="6.95" fill="#f5f5fc"/><rect x="282.35" y="128.03" width="4.41" height="6.95" fill="#f7dad7"/><rect x="286.16" y="128.03" width="4.41" height="6.95" fill="#f7dad7"/><rect x="289.98" y="128.03" width="4.41" height="6.95" fill="#6a76f1"/><rect x="293.79" y="128.03" width="4.41" height="6.95" fill="#f5f5fc"/><rect x="297.60" y="128.03" width="4.41" height="6.95" fill="#d2d6fa"/><rect x="301.41" y="128.03" width="4.41" height="6.95" fill="#f5f5fc"/><rect x="305.22" y="128.03" width="4.41" height="6.95" fill="#d2d6fa"/><rect x="309.03" y="128.03" width="4.41" height="6.95" fill="#d2d6fa"/><rect x="312.84" y="128.03" width="4.41" height="6.95" fill="#d2d6fa"/><rect x="316.65" y="128.03" width="4.41" height="6.95" fill="#d2d6fa"/><rect x="320.46" y="128.03" width="4.41" height="6.95" fill="#f5f5fc"/><rect x="324.27" y="128.03" width="4.41" height="6.95" fill="#f7dad7"/><rect x="328.08" y="128.03" width="4.41" height="6.95" fill="#eeacac"/><rect x="331.89" y="128.03" width="4.41" height="6.95" fill="#f7dad7"/><rect x="335.70" y="128.03" width="4.41" height="6.95" fill="#f5f5fc"/><rect x="339.51" y="128.03" width="4.41" height="6.95" fill="#f7dad7"/><rect x="343.32" y="128.03" width="4.41" height="6.95" fill="#f7dad7"/><rect x="347.14" y="128.03" width="4.41" height="6.95" fill="#a0a8f5"/><rect x="350.95" y="128.03" width="4.41" height="6.95" fill="#6a76f1"/><rect x="354.76" y="128.03" width="4.41" height="6.95" fill="#a0a8f5"/><rect x="358.57" y="128.03" width="4.41" height="6.95" fill="#a0a8f5"/><rect x="362.38" y="128.03" width="4.41" height="6.95" fill="#a0a8f5"/><rect x="366.19" y="128.03" width="3.81" height="6.95" fill="#d2d6fa"/><rect x="49.90" y="134.38" width="4.41" height="6.95" fill="#d2d6fa"/><rect x="53.71" y="134.38" width="4.41" height="6.95" fill="#a0a8f5"/><rect x="57.52" y="134.38" width="4.41" height="6.95" fill="#a0a8f5"/><rect x="61.33" y="134.38" width="4.41" height="6.95" fill="#f5f5fc"/><rect x="65.14" y="134.38" width="4.41" height="6.95" fill="#f7dad7"/><rect x="68.95" y="134.38" width="4.41" height="6.95" fill="#f7dad7"/><rect x="72.76" y="134.38" width="4.41" height="6.95" fill="#f7dad7"/><rect x="76.58" y="134.38" width="4.41" height="6.95" fill="#f5f5fc"/><rect x="80.39" y="134.38" width="4.41" height="6.95" fill="#e27072"/><rect x="84.20" y="134.38" width="4.41" height="6.95" fill="#f7dad7"/><rect x="88.01" y="134.38" width="4.41" height="6.95" fill="#f5f5fc"/><rect x="91.82" y="134.38" width="4.41" height="6.95" fill="#eeacac"/><rect x="95.63" y="134.38" width="4.41" height="6.95" fill="#eeacac"/><rect x="99.44" y="134.38" width="4.41" height="6.95" fill="#f7dad7"/><rect x="103.25" y="134.38" width="4.41" height="6.95" fill="#6a76f1"/><rect x="107.06" y="134.38" width="4.41" height="6.95" fill="#d2d6fa"/><rect x="110.87" y="134.38" width="4.41" height="6.95" fill="#d2d6fa"/><rect x="114.68" y="134.38" width="4.41" height="6.95" fill="#d2d6fa"/><rect x="118.49" y="134.38" width="4.41" height="6.95" fill="#f7dad7"/><rect x="122.30" y="134.38" width="4.41" height="6.95" fill="#eeacac"/><rect x="126.11" y="134.38" width="4.41" height="6.95" fill="#f7dad7"/><rect x="129.93" y="134.38" width="4.41" height="6.95" fill="#f7dad7"/><rect x="133.74" y="134.38" width="4.41" height="6.95" fill="#f5f5fc"/><rect x="137.55" y="134.38" width="4.41" height="6.95" fill="#eeacac"/><rect x="141.36" y="134.38" width="4.41" height="6.95" fill="#d2d6fa"/><rect x="145.17" y="134.38" width="4.41" height="6.95" fill="#a0a8f5"/><rect x="148.98" y="134.38" width="4.41" height="6.95" fill="#d2d6fa"/><rect x="152.79" y="134.38" width="4.41" height="6.95" fill="#d2d6fa"/><rect x="156.60" y="134.38" width="4.41" height="6.95" fill="#d2d6fa"/><rect x="160.41" y="134.38" width="4.41" height="6.95" fill="#d2d6fa"/><rect x="164.22" y="134.38" width="4.41" height="6.95" fill="#f5f5fc"/><rect x="168.03" y="134.38" width="4.41" height="6.95" fill="#f7dad7"/><rect x="171.84" y="134.38" width="4.41" height="6.95" fill="#f7dad7"/><rect x="175.65" y="134.38" width="4.41" height="6.95" fill="#d2d6fa"/><rect x="179.46" y="134.38" width="4.41" height="6.95" fill="#a0a8f5"/><rect x="183.28" y="134.38" width="4.41" height="6.95" fill="#a0a8f5"/><rect x="187.09" y="134.38" width="4.41" height="6.95" fill="#d2d6fa"/><rect x="190.90" y="134.38" width="4.41" height="6.95" fill="#6a76f1"/><rect x="194.71" y="134.38" width="4.41" height="6.95" fill="#d2d6fa"/><rect x="198.52" y="134.38" width="4.41" height="6.95" fill="#d2d6fa"/><rect x="202.33" y="134.38" width="4.41" height="6.95" fill="#f7dad7"/><rect x="206.14" y="134.38" width="4.41" height="6.95" fill="#f5f5fc"/><rect x="209.95" y="134.38" width="4.41" height="6.95" fill="#f5f5fc"/><rect x="213.76" y="134.38" width="4.41" height="6.95" fill="#d2d6fa"/><rect x="217.57" y="134.38" width="4.41" height="6.95" fill="#f7dad7"/><rect x="221.38" y="134.38" width="4.41" height="6.95" fill="#f7dad7"/><rect x="225.19" y="134.38" width="4.41" height="6.95" fill="#a0a8f5"/><rect x="229.00" y="134.38" width="4.41" height="6.95" fill="#f5f5fc"/><rect x="232.81" y="134.38" width="4.41" height="6.95" fill="#f5f5fc"/><rect x="236.63" y="134.38" width="4.41" height="6.95" fill="#6a76f1"/><rect x="240.44" y="134.38" width="4.41" height="6.95" fill="#f5f5fc"/><rect x="244.25" y="134.38" width="4.41" height="6.95" fill="#f7dad7"/><rect x="248.06" y="134.38" width="4.41" height="6.95" fill="#f5f5fc"/><rect x="251.87" y="134.38" width="4.41" height="6.95" fill="#d2d6fa"/><rect x="255.68" y="134.38" width="4.41" height="6.95" fill="#f5f5fc"/><rect x="259.49" y="134.38" width="4.41" height="6.95" fill="#f5f5fc"/><rect x="263.30" y="134.38" width="4.41" height="6.95" fill="#f5f5fc"/><rect x="267.11" y="134.38" width="4.41" height="6.95" fill="#f5f5fc"/><rect x="270.92" y="134.38" width="4.41" height="6.95" fill="#f7dad7"/><rect x="274.73" y="134.38" width="4.41" height="6.95" fill="#f7dad7"/><rect x="278.54" y="134.38" width="4.41" height="6.95" fill="#a0a8f5"/><rect x="282.35" y="134.38" width="4.41" height="6.95" fill="#eeacac"/><rect x="286.16" y="134.38" width="4.41" height="6.95" fill="#d2d6fa"/><rect x="289.98" y="134.38" width="4.41" height="6.95" fill="#f7dad7"/><rect x="293.79" y="134.38" width="4.41" height="6.95" fill="#d2d6fa"/><rect x="297.60" y="134.38" width="4.41" height="6.95" fill="#d2d6fa"/><rect x="301.41" y="134.38" width="4.41" height="6.95" fill="#f7dad7"/><rect x="305.22" y="134.38" width="4.41" height="6.95" fill="#f7dad7"/><rect x="309.03" y="134.38" width="4.41" height="6.95" fill="#f7dad7"/><rect x="312.84" y="134.38" width="4.41" height="6.95" fill="#f5f5fc"/><rect x="316.65" y="134.38" width="4.41" height="6.95" fill="#f7dad7"/><rect x="320.46" y="134.38" width="4.41" height="6.95" fill="#f7dad7"/><rect x="324.27" y="134.38" width="4.41" height="6.95" fill="#f7dad7"/><rect x="328.08" y="134.38" width="4.41" height="6.95" fill="#d2d6fa"/><rect x="331.89" y="134.38" width="4.41" height="6.95" fill="#a0a8f5"/><rect x="335.70" y="134.38" width="4.41" height="6.95" fill="#f5f5fc"/><rect x="339.51" y="134.38" width="4.41" height="6.95" fill="#f5f5fc"/><rect x="343.32" y="134.38" width="4.41" height="6.95" fill="#f7dad7"/><rect x="347.14" y="134.38" width="4.41" height="6.95" fill="#d2d6fa"/><rect x="350.95" y="134.38" width="4.41" height="6.95" fill="#a0a8f5"/><rect x="354.76" y="134.38" width="4.41" height="6.95" fill="#d2d6fa"/><rect x="358.57" y="134.38" width="4.41" height="6.95" fill="#6a76f1"/><rect x="362.38" y="134.38" width="4.41" height="6.95" fill="#d2d6fa"/><rect x="366.19" y="134.38" width="3.81" height="6.95" fill="#d2d6fa"/><rect x="49.90" y="140.73" width="4.41" height="6.95" fill="#e27072"/><rect x="53.71" y="140.73" width="4.41" height="6.95" fill="#eeacac"/><rect x="57.52" y="140.73" width="4.41" height="6.95" fill="#eeacac"/><rect x="61.33" y="140.73" width="4.41" height="6.95" fill="#e27072"/><rect x="65.14" y="140.73" width="4.41" height="6.95" fill="#d2d6fa"/><rect x="68.95" y="140.73" width="4.41" height="6.95" fill="#f5f5fc"/><rect x="72.76" y="140.73" width="4.41" height="6.95" fill="#f7dad7"/><rect x="76.58" y="140.73" width="4.41" height="6.95" fill="#f5f5fc"/><rect x="80.39" y="140.73" width="4.41" height="6.95" fill="#a0a8f5"/><rect x="84.20" y="140.73" width="4.41" height="6.95" fill="#a0a8f5"/><rect x="88.01" y="140.73" width="4.41" height="6.95" fill="#f7dad7"/><rect x="91.82" y="140.73" width="4.41" height="6.95" fill="#f5f5fc"/><rect x="95.63" y="140.73" width="4.41" height="6.95" fill="#f7dad7"/><rect x="99.44" y="140.73" width="4.41" height="6.95" fill="#f5f5fc"/><rect x="103.25" y="140.73" width="4.41" height="6.95" fill="#6a76f1"/><rect x="107.06" y="140.73" width="4.41" height="6.95" fill="#6a76f1"/><rect x="110.87" y="140.73" width="4.41" height="6.95" fill="#a0a8f5"/><rect x="114.68" y="140.73" width="4.41" height="6.95" fill="#6a76f1"/><rect x="118.49" y="140.73" width="4.41" height="6.95" fill="#d2d6fa"/><rect x="122.30" y="140.73" width="4.41" height="6.95" fill="#f7dad7"/><rect x="126.11" y="140.73" width="4.41" height="6.95" fill="#f7dad7"/><rect x="129.93" y="140.73" width="4.41" height="6.95" fill="#eeacac"/><rect x="133.74" y="140.73" width="4.41" height="6.95" fill="#f7dad7"/><rect x="137.55" y="140.73" width="4.41" height="6.95" fill="#e27072"/><rect x="141.36" y="140.73" width="4.41" height="6.95" fill="#d2d6fa"/><rect x="145.17" y="140.73" width="4.41" height="6.95" fill="#a0a8f5"/><rect x="148.98" y="140.73" width="4.41" height="6.95" fill="#f5f5fc"/><rect x="152.79" y="140.73" width="4.41" height="6.95" fill="#a0a8f5"/><rect x="156.60" y="140.73" width="4.41" height="6.95" fill="#f5f5fc"/><rect x="160.41" y="140.73" width="4.41" height="6.95" fill="#f7dad7"/><rect x="164.22" y="140.73" width="4.41" height="6.95" fill="#e27072"/><rect x="168.03" y="140.73" width="4.41" height="6.95" fill="#eeacac"/><rect x="171.84" y="140.73" width="4.41" height="6.95" fill="#eeacac"/><rect x="175.65" y="140.73" width="4.41" height="6.95" fill="#eeacac"/><rect x="179.46" y="140.73" width="4.41" height="6.95" fill="#f7dad7"/><rect x="183.28" y="140.73" width="4.41" height="6.95" fill="#d2d6fa"/><rect x="187.09" y="140.73" width="4.41" height="6.95" fill="#f7dad7"/><rect x="190.90" y="140.73" width="4.41" height="6.95" fill="#f7dad7"/><rect x="194.71" y="140.73" width="4.41" height="6.95" fill="#f7dad7"/><rect x="198.52" y="140.73" width="4.41" height="6.95" fill="#d2d6fa"/><rect x="202.33" y="140.73" width="4.41" height="6.95" fill="#d2d6fa"/><rect x="206.14" y="140.73" width="4.41" height="6.95" fill="#eeacac"/><rect x="209.95" y="140.73" width="4.41" height="6.95" fill="#eeacac"/><rect x="213.76" y="140.73" width="4.41" height="6.95" fill="#eeacac"/><rect x="217.57" y="140.73" width="4.41" height="6.95" fill="#eeacac"/><rect x="221.38" y="140.73" width="4.41" height="6.95" fill="#eeacac"/><rect x="225.19" y="140.73" width="4.41" height="6.95" fill="#f5f5fc"/><rect x="229.00" y="140.73" width="4.41" height="6.95" fill="#f5f5fc"/><rect x="232.81" y="140.73" width="4.41" height="6.95" fill="#d2d6fa"/><rect x="236.63" y="140.73" width="4.41" height="6.95" fill="#e27072"/><rect x="240.44" y="140.73" width="4.41" height="6.95" fill="#a0a8f5"/><rect x="244.25" y="140.73" width="4.41" height="6.95" fill="#f5f5fc"/><rect x="248.06" y="140.73" width="4.41" height="6.95" fill="#f7dad7"/><rect x="251.87" y="140.73" width="4.41" height="6.95" fill="#f5f5fc"/><rect x="255.68" y="140.73" width="4.41" height="6.95" fill="#eeacac"/><rect x="259.49" y="140.73" width="4.41" height="6.95" fill="#eeacac"/><rect x="263.30" y="140.73" width="4.41" height="6.95" fill="#f5f5fc"/><rect x="267.11" y="140.73" width="4.41" height="6.95" fill="#d2d6fa"/><rect x="270.92" y="140.73" width="4.41" height="6.95" fill="#f7dad7"/><rect x="274.73" y="140.73" width="4.41" height="6.95" fill="#eeacac"/><rect x="278.54" y="140.73" width="4.41" height="6.95" fill="#eeacac"/><rect x="282.35" y="140.73" width="4.41" height="6.95" fill="#eeacac"/><rect x="286.16" y="140.73" width="4.41" height="6.95" fill="#eeacac"/><rect x="289.98" y="140.73" width="4.41" height="6.95" fill="#eeacac"/><rect x="293.79" y="140.73" width="4.41" height="6.95" fill="#eeacac"/><rect x="297.60" y="140.73" width="4.41" height="6.95" fill="#f7dad7"/><rect x="301.41" y="140.73" width="4.41" height="6.95" fill="#f7dad7"/><rect x="305.22" y="140.73" width="4.41" height="6.95" fill="#eeacac"/><rect x="309.03" y="140.73" width="4.41" height="6.95" fill="#f5f5fc"/><rect x="312.84" y="140.73" width="4.41" height="6.95" fill="#d2d6fa"/><rect x="316.65" y="140.73" width="4.41" height="6.95" fill="#f7dad7"/><rect x="320.46" y="140.73" width="4.41" height="6.95" fill="#a0a8f5"/><rect x="324.27" y="140.73" width="4.41" height="6.95" fill="#d2d6fa"/><rect x="328.08" y="140.73" width="4.41" height="6.95" fill="#f5f5fc"/><rect x="331.89" y="140.73" width="4.41" height="6.95" fill="#d2d6fa"/><rect x="335.70" y="140.73" width="4.41" height="6.95" fill="#6a76f1"/><rect x="339.51" y="140.73" width="4.41" height="6.95" fill="#f5f5fc"/><rect x="343.32" y="140.73" width="4.41" height="6.95" fill="#d2d6fa"/><rect x="347.14" y="140.73" width="4.41" height="6.95" fill="#f5f5fc"/><rect x="350.95" y="140.73" width="4.41" height="6.95" fill="#eeacac"/><rect x="354.76" y="140.73" width="4.41" height="6.95" fill="#d2d6fa"/><rect x="358.57" y="140.73" width="4.41" height="6.95" fill="#f7dad7"/><rect x="362.38" y="140.73" width="4.41" height="6.95" fill="#a0a8f5"/><rect x="366.19" y="140.73" width="3.81" height="6.95" fill="#6a76f1"/><rect x="49.90" y="147.08" width="4.41" height="6.95" fill="#d2d6fa"/><rect x="53.71" y="147.08" width="4.41" height="6.95" fill="#f5f5fc"/><rect x="57.52" y="147.08" width="4.41" height="6.95" fill="#d2d6fa"/><rect x="61.33" y="147.08" width="4.41" height="6.95" fill="#f5f5fc"/><rect x="65.14" y="147.08" width="4.41" height="6.95" fill="#f7dad7"/><rect x="68.95" y="147.08" width="4.41" height="6.95" fill="#eeacac"/><rect x="72.76" y="147.08" width="4.41" height="6.95" fill="#f7dad7"/><rect x="76.58" y="147.08" width="4.41" height="6.95" fill="#a0a8f5"/><rect x="80.39" y="147.08" width="4.41" height="6.95" fill="#f5f5fc"/><rect x="84.20" y="147.08" width="4.41" height="6.95" fill="#eeacac"/><rect x="88.01" y="147.08" width="4.41" height="6.95" fill="#f5f5fc"/><rect x="91.82" y="147.08" width="4.41" height="6.95" fill="#f7dad7"/><rect x="95.63" y="147.08" width="4.41" height="6.95" fill="#f5f5fc"/><rect x="99.44" y="147.08" width="4.41" height="6.95" fill="#d2d6fa"/><rect x="103.25" y="147.08" width="4.41" height="6.95" fill="#d2d6fa"/><rect x="107.06" y="147.08" width="4.41" height="6.95" fill="#d2d6fa"/><rect x="110.87" y="147.08" width="4.41" height="6.95" fill="#a0a8f5"/><rect x="114.68" y="147.08" width="4.41" height="6.95" fill="#f5f5fc"/><rect x="118.49" y="147.08" width="4.41" height="6.95" fill="#f5f5fc"/><rect x="122.30" y="147.08" width="4.41" height="6.95" fill="#f7dad7"/><rect x="126.11" y="147.08" width="4.41" height="6.95" fill="#eeacac"/><rect x="129.93" y="147.08" width="4.41" height="6.95" fill="#eeacac"/><rect x="133.74" y="147.08" width="4.41" height="6.95" fill="#eeacac"/><rect x="137.55" y="147.08" width="4.41" height="6.95" fill="#f5f5fc"/><rect x="141.36" y="147.08" width="4.41" height="6.95" fill="#f7dad7"/><rect x="145.17" y="147.08" width="4.41" height="6.95" fill="#f5f5fc"/><rect x="148.98" y="147.08" width="4.41" height="6.95" fill="#d2d6fa"/><rect x="152.79" y="147.08" width="4.41" height="6.95" fill="#f5f5fc"/><rect x="156.60" y="147.08" width="4.41" height="6.95" fill="#f7dad7"/><rect x="160.41" y="147.08" width="4.41" height="6.95" fill="#eeacac"/><rect x="164.22" y="147.08" width="4.41" height="6.95" fill="#f7dad7"/><rect x="168.03" y="147.08" width="4.41" height="6.95" fill="#f7dad7"/><rect x="171.84" y="147.08" width="4.41" height="6.95" fill="#eeacac"/><rect x="175.65" y="147.08" width="4.41" height="6.95" fill="#f5f5fc"/><rect x="179.46" y="147.08" width="4.41" height="6.95" fill="#f7dad7"/><rect x="183.28" y="147.08" width="4.41" height="6.95" fill="#f7dad7"/><rect x="187.09" y="147.08" width="4.41" height="6.95" fill="#f5f5fc"/><rect x="190.90" y="147.08" width="4.41" height="6.95" fill="#d2d6fa"/><rect x="194.71" y="147.08" width="4.41" height="6.95" fill="#d2d6fa"/><rect x="198.52" y="147.08" width="4.41" height="6.95" fill="#eeacac"/><rect x="202.33" y="147.08" width="4.41" height="6.95" fill="#eeacac"/><rect x="206.14" y="147.08" width="4.41" height="6.95" fill="#a0a8f5"/><rect x="209.95" y="147.08" width="4.41" height="6.95" fill="#f7dad7"/><rect x="213.76" y="147.08" width="4.41" height="6.95" fill="#f7dad7"/><rect x="217.57" y="147.08" width="4.41" height="6.95" fill="#f5f5fc"/><rect x="221.38" y="147.08" width="4.41" height="6.95" fill="#f7dad7"/><rect x="225.19" y="147.08" width="4.41" height="6.95" fill="#f5f5fc"/><rect x="229.00" y="147.08" width="4.41" height="6.95" fill="#d2d6fa"/><rect x="232.81" y="147.08" width="4.41" height="6.95" fill="#f7dad7"/><rect x="236.63" y="147.08" width="4.41" height="6.95" fill="#f7dad7"/><rect x="240.44" y="147.08" width="4.41" height="6.95" fill="#f7dad7"/><rect x="244.25" y="147.08" width="4.41" height="6.95" fill="#d2d6fa"/><rect x="248.06" y="147.08" width="4.41" height="6.95" fill="#d2d6fa"/><rect x="251.87" y="147.08" width="4.41" height="6.95" fill="#d2d6fa"/><rect x="255.68" y="147.08" width="4.41" height="6.95" fill="#d2d6fa"/><rect x="259.49" y="147.08" width="4.41" height="6.95" fill="#a0a8f5"/><rect x="263.30" y="147.08" width="4.41" height="6.95" fill="#f7dad7"/><rect x="267.11" y="147.08" width="4.41" height="6.95" fill="#d2d6fa"/><rect x="270.92" y="147.08" width="4.41" height="6.95" fill="#f7dad7"/><rect x="274.73" y="147.08" width="4.41" height="6.95" fill="#eeacac"/><rect x="278.54" y="147.08" width="4.41" height="6.95" fill="#f5f5fc"/><rect x="282.35" y="147.08" width="4.41" height="6.95" fill="#eeacac"/><rect x="286.16" y="147.08" width="4.41" height="6.95" fill="#d2d6fa"/><rect x="289.98" y="147.08" width="4.41" height="6.95" fill="#d2d6fa"/><rect x="293.79" y="147.08" width="4.41" height="6.95" fill="#d2d6fa"/><rect x="297.60" y="147.08" width="4.41" height="6.95" fill="#f7dad7"/><rect x="301.41" y="147.08" width="4.41" height="6.95" fill="#f7dad7"/><rect x="305.22" y="147.08" width="4.41" height="6.95" fill="#f5f5fc"/><rect x="309.03" y="147.08" width="4.41" height="6.95" fill="#a0a8f5"/><rect x="312.84" y="147.08" width="4.41" height="6.95" fill="#a0a8f5"/><rect x="316.65" y="147.08" width="4.41" height="6.95" fill="#6a76f1"/><rect x="320.46" y="147.08" width="4.41" height="6.95" fill="#6a76f1"/><rect x="324.27" y="147.08" width="4.41" height="6.95" fill="#d2d6fa"/><rect x="328.08" y="147.08" width="4.41" height="6.95" fill="#a0a8f5"/><rect x="331.89" y="147.08" width="4.41" height="6.95" fill="#f7dad7"/><rect x="335.70" y="147.08" width="4.41" height="6.95" fill="#f5f5fc"/><rect x="339.51" y="147.08" width="4.41" height="6.95" fill="#eeacac"/><rect x="343.32" y="147.08" width="4.41" height="6.95" fill="#eeacac"/><rect x="347.14" y="147.08" width="4.41" height="6.95" fill="#f5f5fc"/><rect x="350.95" y="147.08" width="4.41" height="6.95" fill="#eeacac"/><rect x="354.76" y="147.08" width="4.41" height="6.95" fill="#e27072"/><rect x="358.57" y="147.08" width="4.41" height="6.95" fill="#d2d6fa"/><rect x="362.38" y="147.08" width="4.41" height="6.95" fill="#a0a8f5"/><rect x="366.19" y="147.08" width="3.81" height="6.95" fill="#f7dad7"/><rect x="49.90" y="153.43" width="4.41" height="6.95" fill="#d2d6fa"/><rect x="53.71" y="153.43" width="4.41" height="6.95" fill="#a0a8f5"/><rect x="57.52" y="153.43" width="4.41" height="6.95" fill="#d2d6fa"/><rect x="61.33" y="153.43" width="4.41" height="6.95" fill="#f5f5fc"/><rect x="65.14" y="153.43" width="4.41" height="6.95" fill="#f7dad7"/><rect x="68.95" y="153.43" width="4.41" height="6.95" fill="#f5f5fc"/><rect x="72.76" y="153.43" width="4.41" height="6.95" fill="#d2d6fa"/><rect x="76.58" y="153.43" width="4.41" height="6.95" fill="#f7dad7"/><rect x="80.39" y="153.43" width="4.41" height="6.95" fill="#eeacac"/><rect x="84.20" y="153.43" width="4.41" height="6.95" fill="#f7dad7"/><rect x="88.01" y="153.43" width="4.41" height="6.95" fill="#a0a8f5"/><rect x="91.82" y="153.43" width="4.41" height="6.95" fill="#f5f5fc"/><rect x="95.63" y="153.43" width="4.41" height="6.95" fill="#f5f5fc"/><rect x="99.44" y="153.43" width="4.41" height="6.95" fill="#f5f5fc"/><rect x="103.25" y="153.43" width="4.41" height="6.95" fill="#f7dad7"/><rect x="107.06" y="153.43" width="4.41" height="6.95" fill="#f7dad7"/><rect x="110.87" y="153.43" width="4.41" height="6.95" fill="#f5f5fc"/><rect x="114.68" y="153.43" width="4.41" height="6.95" fill="#d2d6fa"/><rect x="118.49" y="153.43" width="4.41" height="6.95" fill="#d2d6fa"/><rect x="122.30" y="153.43" width="4.41" height="6.95" fill="#f7dad7"/><rect x="126.11" y="153.43" width="4.41" height="6.95" fill="#eeacac"/><rect x="129.93" y="153.43" width="4.41" height="6.95" fill="#f7dad7"/><rect x="133.74" y="153.43" width="4.41" height="6.95" fill="#f7dad7"/><rect x="137.55" y="153.43" width="4.41" height="6.95" fill="#eeacac"/><rect x="141.36" y="153.43" width="4.41" height="6.95" fill="#f7dad7"/><rect x="145.17" y="153.43" width="4.41" height="6.95" fill="#f5f5fc"/><rect x="148.98" y="153.43" width="4.41" height="6.95" fill="#f7dad7"/><rect x="152.79" y="153.43" width="4.41" height="6.95" fill="#f7dad7"/><rect x="156.60" y="153.43" width="4.41" height="6.95" fill="#da303a"/><rect x="160.41" y="153.43" width="4.41" height="6.95" fill="#eeacac"/><rect x="164.22" y="153.43" width="4.41" height="6.95" fill="#e27072"/><rect x="168.03" y="153.43" width="4.41" height="6.95" fill="#e27072"/><rect x="171.84" y="153.43" width="4.41" height="6.95" fill="#e27072"/><rect x="175.65" y="153.43" width="4.41" height="6.95" fill="#f7dad7"/><rect x="179.46" y="153.43" width="4.41" height="6.95" fill="#eeacac"/><rect x="183.28" y="153.43" width="4.41" height="6.95" fill="#eeacac"/><rect x="187.09" y="153.43" width="4.41" height="6.95" fill="#f7dad7"/><rect x="190.90" y="153.43" width="4.41" height="6.95" fill="#da303a"/><rect x="194.71" y="153.43" width="4.41" height="6.95" fill="#f5f5fc"/><rect x="198.52" y="153.43" width="4.41" height="6.95" fill="#eeacac"/><rect x="202.33" y="153.43" width="4.41" height="6.95" fill="#e27072"/><rect x="206.14" y="153.43" width="4.41" height="6.95" fill="#f7dad7"/><rect x="209.95" y="153.43" width="4.41" height="6.95" fill="#eeacac"/><rect x="213.76" y="153.43" width="4.41" height="6.95" fill="#f7dad7"/><rect x="217.57" y="153.43" width="4.41" height="6.95" fill="#eeacac"/><rect x="221.38" y="153.43" width="4.41" height="6.95" fill="#eeacac"/><rect x="225.19" y="153.43" width="4.41" height="6.95" fill="#f5f5fc"/><rect x="229.00" y="153.43" width="4.41" height="6.95" fill="#d2d6fa"/><rect x="232.81" y="153.43" width="4.41" height="6.95" fill="#f5f5fc"/><rect x="236.63" y="153.43" width="4.41" height="6.95" fill="#f7dad7"/><rect x="240.44" y="153.43" width="4.41" height="6.95" fill="#eeacac"/><rect x="244.25" y="153.43" width="4.41" height="6.95" fill="#eeacac"/><rect x="248.06" y="153.43" width="4.41" height="6.95" fill="#d2d6fa"/><rect x="251.87" y="153.43" width="4.41" height="6.95" fill="#d2d6fa"/><rect x="255.68" y="153.43" width="4.41" height="6.95" fill="#f7dad7"/><rect x="259.49" y="153.43" width="4.41" height="6.95" fill="#d2d6fa"/><rect x="263.30" y="153.43" width="4.41" height="6.95" fill="#d2d6fa"/><rect x="267.11" y="153.43" width="4.41" height="6.95" fill="#a0a8f5"/><rect x="270.92" y="153.43" width="4.41" height="6.95" fill="#a0a8f5"/><rect x="274.73" y="153.43" width="4.41" height="6.95" fill="#f5f5fc"/><rect x="278.54" y="153.43" width="4.41" height="6.95" fill="#f5f5fc"/><rect x="282.35" y="153.43" width="4.41" height="6.95" fill="#f7dad7"/><rect x="286.16" y="153.43" width="4.41" height="6.95" fill="#f7dad7"/><rect x="289.98" y="153.43" width="4.41" height="6.95" fill="#f5f5fc"/><rect x="293.79" y="153.43" width="4.41" height="6.95" fill="#f7dad7"/><rect x="297.60" y="153.43" width="4.41" height="6.95" fill="#f7dad7"/><rect x="301.41" y="153.43" width="4.41" height="6.95" fill="#f7dad7"/><rect x="305.22" y="153.43" width="4.41" height="6.95" fill="#eeacac"/><rect x="309.03" y="153.43" width="4.41" height="6.95" fill="#a0a8f5"/><rect x="312.84" y="153.43" width="4.41" height="6.95" fill="#f7dad7"/><rect x="316.65" y="153.43" width="4.41" height="6.95" fill="#f7dad7"/><rect x="320.46" y="153.43" width="4.41" height="6.95" fill="#f7dad7"/><rect x="324.27" y="153.43" width="4.41" height="6.95" fill="#eeacac"/><rect x="328.08" y="153.43" width="4.41" height="6.95" fill="#eeacac"/><rect x="331.89" y="153.43" width="4.41" height="6.95" fill="#f7dad7"/><rect x="335.70" y="153.43" width="4.41" height="6.95" fill="#d2d6fa"/><rect x="339.51" y="153.43" width="4.41" height="6.95" fill="#f7dad7"/><rect x="343.32" y="153.43" width="4.41" height="6.95" fill="#f5f5fc"/><rect x="347.14" y="153.43" width="4.41" height="6.95" fill="#f7dad7"/><rect x="350.95" y="153.43" width="4.41" height="6.95" fill="#e27072"/><rect x="354.76" y="153.43" width="4.41" height="6.95" fill="#e27072"/><rect x="358.57" y="153.43" width="4.41" height="6.95" fill="#da303a"/><rect x="362.38" y="153.43" width="4.41" height="6.95" fill="#de0c18"/><rect x="366.19" y="153.43" width="3.81" height="6.95" fill="#de0c18"/><rect x="49.90" y="159.79" width="4.41" height="6.95" fill="#eeacac"/><rect x="53.71" y="159.79" width="4.41" height="6.95" fill="#f7dad7"/><rect x="57.52" y="159.79" width="4.41" height="6.95" fill="#f7dad7"/><rect x="61.33" y="159.79" width="4.41" height="6.95" fill="#f7dad7"/><rect x="65.14" y="159.79" width="4.41" height="6.95" fill="#f5f5fc"/><rect x="68.95" y="159.79" width="4.41" height="6.95" fill="#eeacac"/><rect x="72.76" y="159.79" width="4.41" height="6.95" fill="#eeacac"/><rect x="76.58" y="159.79" width="4.41" height="6.95" fill="#e27072"/><rect x="80.39" y="159.79" width="4.41" height="6.95" fill="#eeacac"/><rect x="84.20" y="159.79" width="4.41" height="6.95" fill="#f5f5fc"/><rect x="88.01" y="159.79" width="4.41" height="6.95" fill="#f7dad7"/><rect x="91.82" y="159.79" width="4.41" height="6.95" fill="#f7dad7"/><rect x="95.63" y="159.79" width="4.41" height="6.95" fill="#f7dad7"/><rect x="99.44" y="159.79" width="4.41" height="6.95" fill="#f7dad7"/><rect x="103.25" y="159.79" width="4.41" height="6.95" fill="#f7dad7"/><rect x="107.06" y="159.79" width="4.41" height="6.95" fill="#d2d6fa"/><rect x="110.87" y="159.79" width="4.41" height="6.95" fill="#eeacac"/><rect x="114.68" y="159.79" width="4.41" height="6.95" fill="#f5f5fc"/><rect x="118.49" y="159.79" width="4.41" height="6.95" fill="#f7dad7"/><rect x="122.30" y="159.79" width="4.41" height="6.95" fill="#d2d6fa"/><rect x="126.11" y="159.79" width="4.41" height="6.95" fill="#6a76f1"/><rect x="129.93" y="159.79" width="4.41" height="6.95" fill="#f7dad7"/><rect x="133.74" y="159.79" width="4.41" height="6.95" fill="#d2d6fa"/><rect x="137.55" y="159.79" width="4.41" height="6.95" fill="#d2d6fa"/><rect x="141.36" y="159.79" width="4.41" height="6.95" fill="#f7dad7"/><rect x="145.17" y="159.79" width="4.41" height="6.95" fill="#f5f5fc"/><rect x="148.98" y="159.79" width="4.41" height="6.95" fill="#f7dad7"/><rect x="152.79" y="159.79" width="4.41" height="6.95" fill="#eeacac"/><rect x="156.60" y="159.79" width="4.41" height="6.95" fill="#f7dad7"/><rect x="160.41" y="159.79" width="4.41" height="6.95" fill="#f7dad7"/><rect x="164.22" y="159.79" width="4.41" height="6.95" fill="#a0a8f5"/><rect x="168.03" y="159.79" width="4.41" height="6.95" fill="#eeacac"/><rect x="171.84" y="159.79" width="4.41" height="6.95" fill="#f5f5fc"/><rect x="175.65" y="159.79" width="4.41" height="6.95" fill="#f7dad7"/><rect x="179.46" y="159.79" width="4.41" height="6.95" fill="#f7dad7"/><rect x="183.28" y="159.79" width="4.41" height="6.95" fill="#a0a8f5"/><rect x="187.09" y="159.79" width="4.41" height="6.95" fill="#f7dad7"/><rect x="190.90" y="159.79" width="4.41" height="6.95" fill="#f5f5fc"/><rect x="194.71" y="159.79" width="4.41" height="6.95" fill="#f7dad7"/><rect x="198.52" y="159.79" width="4.41" height="6.95" fill="#f7dad7"/><rect x="202.33" y="159.79" width="4.41" height="6.95" fill="#a0a8f5"/><rect x="206.14" y="159.79" width="4.41" height="6.95" fill="#f7dad7"/><rect x="209.95" y="159.79" width="4.41" height="6.95" fill="#f7dad7"/><rect x="213.76" y="159.79" width="4.41" height="6.95" fill="#f5f5fc"/><rect x="217.57" y="159.79" width="4.41" height="6.95" fill="#f7dad7"/><rect x="221.38" y="159.79" width="4.41" height="6.95" fill="#f5f5fc"/><rect x="225.19" y="159.79" width="4.41" height="6.95" fill="#eeacac"/><rect x="229.00" y="159.79" width="4.41" height="6.95" fill="#f7dad7"/><rect x="232.81" y="159.79" width="4.41" height="6.95" fill="#f5f5fc"/><rect x="236.63" y="159.79" width="4.41" height="6.95" fill="#eeacac"/><rect x="240.44" y="159.79" width="4.41" height="6.95" fill="#f5f5fc"/><rect x="244.25" y="159.79" width="4.41" height="6.95" fill="#f5f5fc"/><rect x="248.06" y="159.79" width="4.41" height="6.95" fill="#eeacac"/><rect x="251.87" y="159.79" width="4.41" height="6.95" fill="#eeacac"/><rect x="255.68" y="159.79" width="4.41" height="6.95" fill="#f5f5fc"/><rect x="259.49" y="159.79" width="4.41" height="6.95" fill="#f7dad7"/><rect x="263.30" y="159.79" width="4.41" height="6.95" fill="#f7dad7"/><rect x="267.11" y="159.79" width="4.41" height="6.95" fill="#f7dad7"/><rect x="270.92" y="159.79" width="4.41" height="6.95" fill="#f5f5fc"/><rect x="274.73" y="159.79" width="4.41" height="6.95" fill="#f7dad7"/><rect x="278.54" y="159.79" width="4.41" height="6.95" fill="#f5f5fc"/><rect x="282.35" y="159.79" width="4.41" height="6.95" fill="#f7dad7"/><rect x="286.16" y="159.79" width="4.41" height="6.95" fill="#eeacac"/><rect x="289.98" y="159.79" width="4.41" height="6.95" fill="#eeacac"/><rect x="293.79" y="159.79" width="4.41" height="6.95" fill="#eeacac"/><rect x="297.60" y="159.79" width="4.41" height="6.95" fill="#eeacac"/><rect x="301.41" y="159.79" width="4.41" height="6.95" fill="#eeacac"/><rect x="305.22" y="159.79" width="4.41" height="6.95" fill="#f7dad7"/><rect x="309.03" y="159.79" width="4.41" height="6.95" fill="#f7dad7"/><rect x="312.84" y="159.79" width="4.41" height="6.95" fill="#f7dad7"/><rect x="316.65" y="159.79" width="4.41" height="6.95" fill="#a0a8f5"/><rect x="320.46" y="159.79" width="4.41" height="6.95" fill="#f7dad7"/><rect x="324.27" y="159.79" width="4.41" height="6.95" fill="#f5f5fc"/><rect x="328.08" y="159.79" width="4.41" height="6.95" fill="#eeacac"/><rect x="331.89" y="159.79" width="4.41" height="6.95" fill="#f7dad7"/><rect x="335.70" y="159.79" width="4.41" height="6.95" fill="#f7dad7"/><rect x="339.51" y="159.79" width="4.41" height="6.95" fill="#f7dad7"/><rect x="343.32" y="159.79" width="4.41" height="6.95" fill="#f5f5fc"/><rect x="347.14" y="159.79" width="4.41" height="6.95" fill="#f7dad7"/><rect x="350.95" y="159.79" width="4.41" height="6.95" fill="#d2d6fa"/><rect x="354.76" y="159.79" width="4.41" height="6.95" fill="#d2d6fa"/><rect x="358.57" y="159.79" width="4.41" height="6.95" fill="#f5f5fc"/><rect x="362.38" y="159.79" width="4.41" height="6.95" fill="#d2d6fa"/><rect x="366.19" y="159.79" width="3.81" height="6.95" fill="#d2d6fa"/><rect x="49.90" y="166.14" width="4.41" height="6.95" fill="#eeacac"/><rect x="53.71" y="166.14" width="4.41" height="6.95" fill="#f5f5fc"/><rect x="57.52" y="166.14" width="4.41" height="6.95" fill="#eeacac"/><rect x="61.33" y="166.14" width="4.41" height="6.95" fill="#eeacac"/><rect x="65.14" y="166.14" width="4.41" height="6.95" fill="#eeacac"/><rect x="68.95" y="166.14" width="4.41" height="6.95" fill="#eeacac"/><rect x="72.76" y="166.14" width="4.41" height="6.95" fill="#eeacac"/><rect x="76.58" y="166.14" width="4.41" height="6.95" fill="#f5f5fc"/><rect x="80.39" y="166.14" width="4.41" height="6.95" fill="#f7dad7"/><rect x="84.20" y="166.14" width="4.41" height="6.95" fill="#f7dad7"/><rect x="88.01" y="166.14" width="4.41" height="6.95" fill="#da303a"/><rect x="91.82" y="166.14" width="4.41" height="6.95" fill="#f7dad7"/><rect x="95.63" y="166.14" width="4.41" height="6.95" fill="#f7dad7"/><rect x="99.44" y="166.14" width="4.41" height="6.95" fill="#f7dad7"/><rect x="103.25" y="166.14" width="4.41" height="6.95" fill="#eeacac"/><rect x="107.06" y="166.14" width="4.41" height="6.95" fill="#f5f5fc"/><rect x="110.87" y="166.14" width="4.41" height="6.95" fill="#f7dad7"/><rect x="114.68" y="166.14" width="4.41" height="6.95" fill="#da303a"/><rect x="118.49" y="166.14" width="4.41" height="6.95" fill="#eeacac"/><rect x="122.30" y="166.14" width="4.41" height="6.95" fill="#f7dad7"/><rect x="126.11" y="166.14" width="4.41" height="6.95" fill="#f7dad7"/><rect x="129.93" y="166.14" width="4.41" height="6.95" fill="#eeacac"/><rect x="133.74" y="166.14" width="4.41" height="6.95" fill="#f7dad7"/><rect x="137.55" y="166.14" width="4.41" height="6.95" fill="#f7dad7"/><rect x="141.36" y="166.14" width="4.41" height="6.95" fill="#f5f5fc"/><rect x="145.17" y="166.14" width="4.41" height="6.95" fill="#f5f5fc"/><rect x="148.98" y="166.14" width="4.41" height="6.95" fill="#eeacac"/><rect x="152.79" y="166.14" width="4.41" height="6.95" fill="#eeacac"/><rect x="156.60" y="166.14" width="4.41" height="6.95" fill="#f7dad7"/><rect x="160.41" y="166.14" width="4.41" height="6.95" fill="#f7dad7"/><rect x="164.22" y="166.14" width="4.41" height="6.95" fill="#f7dad7"/><rect x="168.03" y="166.14" width="4.41" height="6.95" fill="#f5f5fc"/><rect x="171.84" y="166.14" width="4.41" height="6.95" fill="#a0a8f5"/><rect x="175.65" y="166.14" width="4.41" height="6.95" fill="#f7dad7"/><rect x="179.46" y="166.14" width="4.41" height="6.95" fill="#d2d6fa"/><rect x="183.28" y="166.14" width="4.41" height="6.95" fill="#f7dad7"/><rect x="187.09" y="166.14" width="4.41" height="6.95" fill="#f7dad7"/><rect x="190.90" y="166.14" width="4.41" height="6.95" fill="#f5f5fc"/><rect x="194.71" y="166.14" width="4.41" height="6.95" fill="#eeacac"/><rect x="198.52" y="166.14" width="4.41" height="6.95" fill="#f5f5fc"/><rect x="202.33" y="166.14" width="4.41" height="6.95" fill="#f7dad7"/><rect x="206.14" y="166.14" width="4.41" height="6.95" fill="#e27072"/><rect x="209.95" y="166.14" width="4.41" height="6.95" fill="#f7dad7"/><rect x="213.76" y="166.14" width="4.41" height="6.95" fill="#f7dad7"/><rect x="217.57" y="166.14" width="4.41" height="6.95" fill="#f7dad7"/><rect x="221.38" y="166.14" width="4.41" height="6.95" fill="#eeacac"/><rect x="225.19" y="166.14" width="4.41" height="6.95" fill="#f5f5fc"/><rect x="229.00" y="166.14" width="4.41" height="6.95" fill="#eeacac"/><rect x="232.81" y="166.14" width="4.41" height="6.95" fill="#eeacac"/><rect x="236.63" y="166.14" width="4.41" height="6.95" fill="#f7dad7"/><rect x="240.44" y="166.14" width="4.41" height="6.95" fill="#eeacac"/><rect x="244.25" y="166.14" width="4.41" height="6.95" fill="#d2d6fa"/><rect x="248.06" y="166.14" width="4.41" height="6.95" fill="#eeacac"/><rect x="251.87" y="166.14" width="4.41" height="6.95" fill="#eeacac"/><rect x="255.68" y="166.14" width="4.41" height="6.95" fill="#f5f5fc"/><rect x="259.49" y="166.14" width="4.41" height="6.95" fill="#f5f5fc"/><rect x="263.30" y="166.14" width="4.41" height="6.95" fill="#f7dad7"/><rect x="267.11" y="166.14" width="4.41" height="6.95" fill="#f7dad7"/><rect x="270.92" y="166.14" width="4.41" height="6.95" fill="#eeacac"/><rect x="274.73" y="166.14" width="4.41" height="6.95" fill="#f7dad7"/><rect x="278.54" y="166.14" width="4.41" height="6.95" fill="#eeacac"/><rect x="282.35" y="166.14" width="4.41" height="6.95" fill="#f7dad7"/><rect x="286.16" y="166.14" width="4.41" height="6.95" fill="#f7dad7"/><rect x="289.98" y="166.14" width="4.41" height="6.95" fill="#f7dad7"/><rect x="293.79" y="166.14" width="4.41" height="6.95" fill="#a0a8f5"/><rect x="297.60" y="166.14" width="4.41" height="6.95" fill="#f5f5fc"/><rect x="301.41" y="166.14" width="4.41" height="6.95" fill="#f5f5fc"/><rect x="305.22" y="166.14" width="4.41" height="6.95" fill="#d2d6fa"/><rect x="309.03" y="166.14" width="4.41" height="6.95" fill="#f7dad7"/><rect x="312.84" y="166.14" width="4.41" height="6.95" fill="#f7dad7"/><rect x="316.65" y="166.14" width="4.41" height="6.95" fill="#d2d6fa"/><rect x="320.46" y="166.14" width="4.41" height="6.95" fill="#f5f5fc"/><rect x="324.27" y="166.14" width="4.41" height="6.95" fill="#f7dad7"/><rect x="328.08" y="166.14" width="4.41" height="6.95" fill="#f5f5fc"/><rect x="331.89" y="166.14" width="4.41" height="6.95" fill="#d2d6fa"/><rect x="335.70" y="166.14" width="4.41" height="6.95" fill="#f7dad7"/><rect x="339.51" y="166.14" width="4.41" height="6.95" fill="#f7dad7"/><rect x="343.32" y="166.14" width="4.41" height="6.95" fill="#f7dad7"/><rect x="347.14" y="166.14" width="4.41" height="6.95" fill="#f7dad7"/><rect x="350.95" y="166.14" width="4.41" height="6.95" fill="#f7dad7"/><rect x="354.76" y="166.14" width="4.41" height="6.95" fill="#f7dad7"/><rect x="358.57" y="166.14" width="4.41" height="6.95" fill="#f7dad7"/><rect x="362.38" y="166.14" width="4.41" height="6.95" fill="#f5f5fc"/><rect x="366.19" y="166.14" width="3.81" height="6.95" fill="#eeacac"/><rect x="49.90" y="172.49" width="4.41" height="6.95" fill="#e27072"/><rect x="53.71" y="172.49" width="4.41" height="6.95" fill="#e27072"/><rect x="57.52" y="172.49" width="4.41" height="6.95" fill="#eeacac"/><rect x="61.33" y="172.49" width="4.41" height="6.95" fill="#eeacac"/><rect x="65.14" y="172.49" width="4.41" height="6.95" fill="#f5f5fc"/><rect x="68.95" y="172.49" width="4.41" height="6.95" fill="#eeacac"/><rect x="72.76" y="172.49" width="4.41" height="6.95" fill="#f7dad7"/><rect x="76.58" y="172.49" width="4.41" height="6.95" fill="#e27072"/><rect x="80.39" y="172.49" width="4.41" height="6.95" fill="#e27072"/><rect x="84.20" y="172.49" width="4.41" height="6.95" fill="#e27072"/><rect x="88.01" y="172.49" width="4.41" height="6.95" fill="#eeacac"/><rect x="91.82" y="172.49" width="4.41" height="6.95" fill="#eeacac"/><rect x="95.63" y="172.49" width="4.41" height="6.95" fill="#e27072"/><rect x="99.44" y="172.49" width="4.41" height="6.95" fill="#e27072"/><rect x="103.25" y="172.49" width="4.41" height="6.95" fill="#f7dad7"/><rect x="107.06" y="172.49" width="4.41" height="6.95" fill="#eeacac"/><rect x="110.87" y="172.49" width="4.41" height="6.95" fill="#f5f5fc"/><rect x="114.68" y="172.49" width="4.41" height="6.95" fill="#eeacac"/><rect x="118.49" y="172.49" width="4.41" height="6.95" fill="#eeacac"/><rect x="122.30" y="172.49" width="4.41" height="6.95" fill="#f5f5fc"/><rect x="126.11" y="172.49" width="4.41" height="6.95" fill="#f7dad7"/><rect x="129.93" y="172.49" width="4.41" height="6.95" fill="#eeacac"/><rect x="133.74" y="172.49" width="4.41" height="6.95" fill="#eeacac"/><rect x="137.55" y="172.49" width="4.41" height="6.95" fill="#eeacac"/><rect x="141.36" y="172.49" width="4.41" height="6.95" fill="#da303a"/><rect x="145.17" y="172.49" width="4.41" height="6.95" fill="#e27072"/><rect x="148.98" y="172.49" width="4.41" height="6.95" fill="#da303a"/><rect x="152.79" y="172.49" width="4.41" height="6.95" fill="#eeacac"/><rect x="156.60" y="172.49" width="4.41" height="6.95" fill="#f5f5fc"/><rect x="160.41" y="172.49" width="4.41" height="6.95" fill="#eeacac"/><rect x="164.22" y="172.49" width="4.41" height="6.95" fill="#e27072"/><rect x="168.03" y="172.49" width="4.41" height="6.95" fill="#e27072"/><rect x="171.84" y="172.49" width="4.41" height="6.95" fill="#eeacac"/><rect x="175.65" y="172.49" width="4.41" height="6.95" fill="#eeacac"/><rect x="179.46" y="172.49" width="4.41" height="6.95" fill="#e27072"/><rect x="183.28" y="172.49" width="4.41" height="6.95" fill="#f5f5fc"/><rect x="187.09" y="172.49" width="4.41" height="6.95" fill="#f5f5fc"/><rect x="190.90" y="172.49" width="4.41" height="6.95" fill="#f5f5fc"/><rect x="194.71" y="172.49" width="4.41" height="6.95" fill="#f5f5fc"/><rect x="198.52" y="172.49" width="4.41" height="6.95" fill="#f7dad7"/><rect x="202.33" y="172.49" width="4.41" height="6.95" fill="#f7dad7"/><rect x="206.14" y="172.49" width="4.41" height="6.95" fill="#f5f5fc"/><rect x="209.95" y="172.49" width="4.41" height="6.95" fill="#eeacac"/><rect x="213.76" y="172.49" width="4.41" height="6.95" fill="#f7dad7"/><rect x="217.57" y="172.49" width="4.41" height="6.95" fill="#f7dad7"/><rect x="221.38" y="172.49" width="4.41" height="6.95" fill="#f7dad7"/><rect x="225.19" y="172.49" width="4.41" height="6.95" fill="#da303a"/><rect x="229.00" y="172.49" width="4.41" height="6.95" fill="#eeacac"/><rect x="232.81" y="172.49" width="4.41" height="6.95" fill="#e27072"/><rect x="236.63" y="172.49" width="4.41" height="6.95" fill="#eeacac"/><rect x="240.44" y="172.49" width="4.41" height="6.95" fill="#f7dad7"/><rect x="244.25" y="172.49" width="4.41" height="6.95" fill="#eeacac"/><rect x="248.06" y="172.49" width="4.41" height="6.95" fill="#eeacac"/><rect x="251.87" y="172.49" width="4.41" height="6.95" fill="#eeacac"/><rect x="255.68" y="172.49" width="4.41" height="6.95" fill="#eeacac"/><rect x="259.49" y="172.49" width="4.41" height="6.95" fill="#e27072"/><rect x="263.30" y="172.49" width="4.41" height="6.95" fill="#e27072"/><rect x="267.11" y="172.49" width="4.41" height="6.95" fill="#e27072"/><rect x="270.92" y="172.49" width="4.41" height="6.95" fill="#eeacac"/><rect x="274.73" y="172.49" width="4.41" height="6.95" fill="#eeacac"/><rect x="278.54" y="172.49" width="4.41" height="6.95" fill="#eeacac"/><rect x="282.35" y="172.49" width="4.41" height="6.95" fill="#f5f5fc"/><rect x="286.16" y="172.49" width="4.41" height="6.95" fill="#a0a8f5"/><rect x="289.98" y="172.49" width="4.41" height="6.95" fill="#f7dad7"/><rect x="293.79" y="172.49" width="4.41" height="6.95" fill="#eeacac"/><rect x="297.60" y="172.49" width="4.41" height="6.95" fill="#f7dad7"/><rect x="301.41" y="172.49" width="4.41" height="6.95" fill="#eeacac"/><rect x="305.22" y="172.49" width="4.41" height="6.95" fill="#eeacac"/><rect x="309.03" y="172.49" width="4.41" height="6.95" fill="#f7dad7"/><rect x="312.84" y="172.49" width="4.41" height="6.95" fill="#f5f5fc"/><rect x="316.65" y="172.49" width="4.41" height="6.95" fill="#eeacac"/><rect x="320.46" y="172.49" width="4.41" height="6.95" fill="#f7dad7"/><rect x="324.27" y="172.49" width="4.41" height="6.95" fill="#e27072"/><rect x="328.08" y="172.49" width="4.41" height="6.95" fill="#eeacac"/><rect x="331.89" y="172.49" width="4.41" height="6.95" fill="#e27072"/><rect x="335.70" y="172.49" width="4.41" height="6.95" fill="#eeacac"/><rect x="339.51" y="172.49" width="4.41" height="6.95" fill="#eeacac"/><rect x="343.32" y="172.49" width="4.41" height="6.95" fill="#eeacac"/><rect x="347.14" y="172.49" width="4.41" height="6.95" fill="#eeacac"/><rect x="350.95" y="172.49" width="4.41" height="6.95" fill="#f5f5fc"/><rect x="354.76" y="172.49" width="4.41" height="6.95" fill="#e27072"/><rect x="358.57" y="172.49" width="4.41" height="6.95" fill="#eeacac"/><rect x="362.38" y="172.49" width="4.41" height="6.95" fill="#eeacac"/><rect x="366.19" y="172.49" width="3.81" height="6.95" fill="#f7dad7"/><rect x="49.90" y="178.84" width="4.41" height="6.95" fill="#eeacac"/><rect x="53.71" y="178.84" width="4.41" height="6.95" fill="#da303a"/><rect x="57.52" y="178.84" width="4.41" height="6.95" fill="#da303a"/><rect x="61.33" y="178.84" width="4.41" height="6.95" fill="#eeacac"/><rect x="65.14" y="178.84" width="4.41" height="6.95" fill="#e27072"/><rect x="68.95" y="178.84" width="4.41" height="6.95" fill="#e27072"/><rect x="72.76" y="178.84" width="4.41" height="6.95" fill="#eeacac"/><rect x="76.58" y="178.84" width="4.41" height="6.95" fill="#e27072"/><rect x="80.39" y="178.84" width="4.41" height="6.95" fill="#f5f5fc"/><rect x="84.20" y="178.84" width="4.41" height="6.95" fill="#e27072"/><rect x="88.01" y="178.84" width="4.41" height="6.95" fill="#f7dad7"/><rect x="91.82" y="178.84" width="4.41" height="6.95" fill="#e27072"/><rect x="95.63" y="178.84" width="4.41" height="6.95" fill="#eeacac"/><rect x="99.44" y="178.84" width="4.41" height="6.95" fill="#e27072"/><rect x="103.25" y="178.84" width="4.41" height="6.95" fill="#f7dad7"/><rect x="107.06" y="178.84" width="4.41" height="6.95" fill="#eeacac"/><rect x="110.87" y="178.84" width="4.41" height="6.95" fill="#f5f5fc"/><rect x="114.68" y="178.84" width="4.41" height="6.95" fill="#eeacac"/><rect x="118.49" y="178.84" width="4.41" height="6.95" fill="#eeacac"/><rect x="122.30" y="178.84" width="4.41" height="6.95" fill="#e27072"/><rect x="126.11" y="178.84" width="4.41" height="6.95" fill="#e27072"/><rect x="129.93" y="178.84" width="4.41" height="6.95" fill="#eeacac"/><rect x="133.74" y="178.84" width="4.41" height="6.95" fill="#f7dad7"/><rect x="137.55" y="178.84" width="4.41" height="6.95" fill="#eeacac"/><rect x="141.36" y="178.84" width="4.41" height="6.95" fill="#eeacac"/><rect x="145.17" y="178.84" width="4.41" height="6.95" fill="#e27072"/><rect x="148.98" y="178.84" width="4.41" height="6.95" fill="#f7dad7"/><rect x="152.79" y="178.84" width="4.41" height="6.95" fill="#eeacac"/><rect x="156.60" y="178.84" width="4.41" height="6.95" fill="#e27072"/><rect x="160.41" y="178.84" width="4.41" height="6.95" fill="#f7dad7"/><rect x="164.22" y="178.84" width="4.41" height="6.95" fill="#eeacac"/><rect x="168.03" y="178.84" width="4.41" height="6.95" fill="#f7dad7"/><rect x="171.84" y="178.84" width="4.41" height="6.95" fill="#e27072"/><rect x="175.65" y="178.84" width="4.41" height="6.95" fill="#eeacac"/><rect x="179.46" y="178.84" width="4.41" height="6.95" fill="#f7dad7"/><rect x="183.28" y="178.84" width="4.41" height="6.95" fill="#da303a"/><rect x="187.09" y="178.84" width="4.41" height="6.95" fill="#da303a"/><rect x="190.90" y="178.84" width="4.41" height="6.95" fill="#f7dad7"/><rect x="194.71" y="178.84" width="4.41" height="6.95" fill="#eeacac"/><rect x="198.52" y="178.84" width="4.41" height="6.95" fill="#da303a"/><rect x="202.33" y="178.84" width="4.41" height="6.95" fill="#da303a"/><rect x="206.14" y="178.84" width="4.41" height="6.95" fill="#eeacac"/><rect x="209.95" y="178.84" width="4.41" height="6.95" fill="#f7dad7"/><rect x="213.76" y="178.84" width="4.41" height="6.95" fill="#eeacac"/><rect x="217.57" y="178.84" width="4.41" height="6.95" fill="#eeacac"/><rect x="221.38" y="178.84" width="4.41" height="6.95" fill="#eeacac"/><rect x="225.19" y="178.84" width="4.41" height="6.95" fill="#eeacac"/><rect x="229.00" y="178.84" width="4.41" height="6.95" fill="#e27072"/><rect x="232.81" y="178.84" width="4.41" height="6.95" fill="#f7dad7"/><rect x="236.63" y="178.84" width="4.41" height="6.95" fill="#f7dad7"/><rect x="240.44" y="178.84" width="4.41" height="6.95" fill="#f5f5fc"/><rect x="244.25" y="178.84" width="4.41" height="6.95" fill="#eeacac"/><rect x="248.06" y="178.84" width="4.41" height="6.95" fill="#e27072"/><rect x="251.87" y="178.84" width="4.41" height="6.95" fill="#da303a"/><rect x="255.68" y="178.84" width="4.41" height="6.95" fill="#da303a"/><rect x="259.49" y="178.84" width="4.41" height="6.95" fill="#eeacac"/><rect x="263.30" y="178.84" width="4.41" height="6.95" fill="#da303a"/><rect x="267.11" y="178.84" width="4.41" height="6.95" fill="#e27072"/><rect x="270.92" y="178.84" width="4.41" height="6.95" fill="#eeacac"/><rect x="274.73" y="178.84" width="4.41" height="6.95" fill="#e27072"/><rect x="278.54" y="178.84" width="4.41" height="6.95" fill="#eeacac"/><rect x="282.35" y="178.84" width="4.41" height="6.95" fill="#e27072"/><rect x="286.16" y="178.84" width="4.41" height="6.95" fill="#e27072"/><rect x="289.98" y="178.84" width="4.41" height="6.95" fill="#e27072"/><rect x="293.79" y="178.84" width="4.41" height="6.95" fill="#e27072"/><rect x="297.60" y="178.84" width="4.41" height="6.95" fill="#eeacac"/><rect x="301.41" y="178.84" width="4.41" height="6.95" fill="#f7dad7"/><rect x="305.22" y="178.84" width="4.41" height="6.95" fill="#e27072"/><rect x="309.03" y="178.84" width="4.41" height="6.95" fill="#eeacac"/><rect x="312.84" y="178.84" width="4.41" height="6.95" fill="#e27072"/><rect x="316.65" y="178.84" width="4.41" height="6.95" fill="#e27072"/><rect x="320.46" y="178.84" width="4.41" height="6.95" fill="#eeacac"/><rect x="324.27" y="178.84" width="4.41" height="6.95" fill="#eeacac"/><rect x="328.08" y="178.84" width="4.41" height="6.95" fill="#eeacac"/><rect x="331.89" y="178.84" width="4.41" height="6.95" fill="#f5f5fc"/><rect x="335.70" y="178.84" width="4.41" height="6.95" fill="#eeacac"/><rect x="339.51" y="178.84" width="4.41" height="6.95" fill="#e27072"/><rect x="343.32" y="178.84" width="4.41" height="6.95" fill="#e27072"/><rect x="347.14" y="178.84" width="4.41" height="6.95" fill="#eeacac"/><rect x="350.95" y="178.84" width="4.41" height="6.95" fill="#f7dad7"/><rect x="354.76" y="178.84" width="4.41" height="6.95" fill="#a0a8f5"/><rect x="358.57" y="178.84" width="4.41" height="6.95" fill="#eeacac"/><rect x="362.38" y="178.84" width="4.41" height="6.95" fill="#f7dad7"/><rect x="366.19" y="178.84" width="3.81" height="6.95" fill="#f7dad7"/><rect x="49.90" y="185.20" width="4.41" height="6.95" fill="#eeacac"/><rect x="53.71" y="185.20" width="4.41" height="6.95" fill="#eeacac"/><rect x="57.52" y="185.20" width="4.41" height="6.95" fill="#f7dad7"/><rect x="61.33" y="185.20" width="4.41" height="6.95" fill="#eeacac"/><rect x="65.14" y="185.20" width="4.41" height="6.95" fill="#eeacac"/><rect x="68.95" y="185.20" width="4.41" height="6.95" fill="#eeacac"/><rect x="72.76" y="185.20" width="4.41" height="6.95" fill="#e27072"/><rect x="76.58" y="185.20" width="4.41" height="6.95" fill="#eeacac"/><rect x="80.39" y="185.20" width="4.41" height="6.95" fill="#e27072"/><rect x="84.20" y="185.20" width="4.41" height="6.95" fill="#f7dad7"/><rect x="88.01" y="185.20" width="4.41" height="6.95" fill="#eeacac"/><rect x="91.82" y="185.20" width="4.41" height="6.95" fill="#eeacac"/><rect x="95.63" y="185.20" width="4.41" height="6.95" fill="#eeacac"/><rect x="99.44" y="185.20" width="4.41" height="6.95" fill="#f7dad7"/><rect x="103.25" y="185.20" width="4.41" height="6.95" fill="#eeacac"/><rect x="107.06" y="185.20" width="4.41" height="6.95" fill="#eeacac"/><rect x="110.87" y="185.20" width="4.41" height="6.95" fill="#eeacac"/><rect x="114.68" y="185.20" width="4.41" height="6.95" fill="#f7dad7"/><rect x="118.49" y="185.20" width="4.41" height="6.95" fill="#f7dad7"/><rect x="122.30" y="185.20" width="4.41" height="6.95" fill="#eeacac"/><rect x="126.11" y="185.20" width="4.41" height="6.95" fill="#f7dad7"/><rect x="129.93" y="185.20" width="4.41" height="6.95" fill="#eeacac"/><rect x="133.74" y="185.20" width="4.41" height="6.95" fill="#f7dad7"/><rect x="137.55" y="185.20" width="4.41" height="6.95" fill="#eeacac"/><rect x="141.36" y="185.20" width="4.41" height="6.95" fill="#f5f5fc"/><rect x="145.17" y="185.20" width="4.41" height="6.95" fill="#eeacac"/><rect x="148.98" y="185.20" width="4.41" height="6.95" fill="#f7dad7"/><rect x="152.79" y="185.20" width="4.41" height="6.95" fill="#eeacac"/><rect x="156.60" y="185.20" width="4.41" height="6.95" fill="#f7dad7"/><rect x="160.41" y="185.20" width="4.41" height="6.95" fill="#eeacac"/><rect x="164.22" y="185.20" width="4.41" height="6.95" fill="#eeacac"/><rect x="168.03" y="185.20" width="4.41" height="6.95" fill="#eeacac"/><rect x="171.84" y="185.20" width="4.41" height="6.95" fill="#eeacac"/><rect x="175.65" y="185.20" width="4.41" height="6.95" fill="#e27072"/><rect x="179.46" y="185.20" width="4.41" height="6.95" fill="#e27072"/><rect x="183.28" y="185.20" width="4.41" height="6.95" fill="#eeacac"/><rect x="187.09" y="185.20" width="4.41" height="6.95" fill="#eeacac"/><rect x="190.90" y="185.20" width="4.41" height="6.95" fill="#eeacac"/><rect x="194.71" y="185.20" width="4.41" height="6.95" fill="#eeacac"/><rect x="198.52" y="185.20" width="4.41" height="6.95" fill="#f7dad7"/><rect x="202.33" y="185.20" width="4.41" height="6.95" fill="#d2d6fa"/><rect x="206.14" y="185.20" width="4.41" height="6.95" fill="#f7dad7"/><rect x="209.95" y="185.20" width="4.41" height="6.95" fill="#eeacac"/><rect x="213.76" y="185.20" width="4.41" height="6.95" fill="#eeacac"/><rect x="217.57" y="185.20" width="4.41" height="6.95" fill="#eeacac"/><rect x="221.38" y="185.20" width="4.41" height="6.95" fill="#eeacac"/><rect x="225.19" y="185.20" width="4.41" height="6.95" fill="#f7dad7"/><rect x="229.00" y="185.20" width="4.41" height="6.95" fill="#f7dad7"/><rect x="232.81" y="185.20" width="4.41" height="6.95" fill="#f7dad7"/><rect x="236.63" y="185.20" width="4.41" height="6.95" fill="#eeacac"/><rect x="240.44" y="185.20" width="4.41" height="6.95" fill="#e27072"/><rect x="244.25" y="185.20" width="4.41" height="6.95" fill="#e27072"/><rect x="248.06" y="185.20" width="4.41" height="6.95" fill="#eeacac"/><rect x="251.87" y="185.20" width="4.41" height="6.95" fill="#f7dad7"/><rect x="255.68" y="185.20" width="4.41" height="6.95" fill="#f7dad7"/><rect x="259.49" y="185.20" width="4.41" height="6.95" fill="#eeacac"/><rect x="263.30" y="185.20" width="4.41" height="6.95" fill="#f7dad7"/><rect x="267.11" y="185.20" width="4.41" height="6.95" fill="#f7dad7"/><rect x="270.92" y="185.20" width="4.41" height="6.95" fill="#e27072"/><rect x="274.73" y="185.20" width="4.41" height="6.95" fill="#eeacac"/><rect x="278.54" y="185.20" width="4.41" height="6.95" fill="#eeacac"/><rect x="282.35" y="185.20" width="4.41" height="6.95" fill="#f7dad7"/><rect x="286.16" y="185.20" width="4.41" height="6.95" fill="#f7dad7"/><rect x="289.98" y="185.20" width="4.41" height="6.95" fill="#eeacac"/><rect x="293.79" y="185.20" width="4.41" height="6.95" fill="#f7dad7"/><rect x="297.60" y="185.20" width="4.41" height="6.95" fill="#f7dad7"/><rect x="301.41" y="185.20" width="4.41" height="6.95" fill="#eeacac"/><rect x="305.22" y="185.20" width="4.41" height="6.95" fill="#f7dad7"/><rect x="309.03" y="185.20" width="4.41" height="6.95" fill="#eeacac"/><rect x="312.84" y="185.20" width="4.41" height="6.95" fill="#f5f5fc"/><rect x="316.65" y="185.20" width="4.41" height="6.95" fill="#eeacac"/><rect x="320.46" y="185.20" width="4.41" height="6.95" fill="#f7dad7"/><rect x="324.27" y="185.20" width="4.41" height="6.95" fill="#eeacac"/><rect x="328.08" y="185.20" width="4.41" height="6.95" fill="#eeacac"/><rect x="331.89" y="185.20" width="4.41" height="6.95" fill="#e27072"/><rect x="335.70" y="185.20" width="4.41" height="6.95" fill="#f7dad7"/><rect x="339.51" y="185.20" width="4.41" height="6.95" fill="#f7dad7"/><rect x="343.32" y="185.20" width="4.41" height="6.95" fill="#f7dad7"/><rect x="347.14" y="185.20" width="4.41" height="6.95" fill="#eeacac"/><rect x="350.95" y="185.20" width="4.41" height="6.95" fill="#eeacac"/><rect x="354.76" y="185.20" width="4.41" height="6.95" fill="#f7dad7"/><rect x="358.57" y="185.20" width="4.41" height="6.95" fill="#f5f5fc"/><rect x="362.38" y="185.20" width="4.41" height="6.95" fill="#f5f5fc"/><rect x="366.19" y="185.20" width="3.81" height="6.95" fill="#f5f5fc"/><rect x="49.90" y="191.55" width="4.41" height="6.35" fill="#eeacac"/><rect x="53.71" y="191.55" width="4.41" height="6.35" fill="#eeacac"/><rect x="57.52" y="191.55" width="4.41" height="6.35" fill="#e27072"/><rect x="61.33" y="191.55" width="4.41" height="6.35" fill="#f7dad7"/><rect x="65.14" y="191.55" width="4.41" height="6.35" fill="#e27072"/><rect x="68.95" y="191.55" width="4.41" height="6.35" fill="#e27072"/><rect x="72.76" y="191.55" width="4.41" height="6.35" fill="#e27072"/><rect x="76.58" y="191.55" width="4.41" height="6.35" fill="#eeacac"/><rect x="80.39" y="191.55" width="4.41" height="6.35" fill="#eeacac"/><rect x="84.20" y="191.55" width="4.41" height="6.35" fill="#eeacac"/><rect x="88.01" y="191.55" width="4.41" height="6.35" fill="#f5f5fc"/><rect x="91.82" y="191.55" width="4.41" height="6.35" fill="#e27072"/><rect x="95.63" y="191.55" width="4.41" height="6.35" fill="#e27072"/><rect x="99.44" y="191.55" width="4.41" height="6.35" fill="#e27072"/><rect x="103.25" y="191.55" width="4.41" height="6.35" fill="#eeacac"/><rect x="107.06" y="191.55" width="4.41" height="6.35" fill="#eeacac"/><rect x="110.87" y="191.55" width="4.41" height="6.35" fill="#da303a"/><rect x="114.68" y="191.55" width="4.41" height="6.35" fill="#eeacac"/><rect x="118.49" y="191.55" width="4.41" height="6.35" fill="#eeacac"/><rect x="122.30" y="191.55" width="4.41" height="6.35" fill="#eeacac"/><rect x="126.11" y="191.55" width="4.41" height="6.35" fill="#f7dad7"/><rect x="129.93" y="191.55" width="4.41" height="6.35" fill="#f7dad7"/><rect x="133.74" y="191.55" width="4.41" height="6.35" fill="#da303a"/><rect x="137.55" y="191.55" width="4.41" height="6.35" fill="#f7dad7"/><rect x="141.36" y="191.55" width="4.41" height="6.35" fill="#f7dad7"/><rect x="145.17" y="191.55" width="4.41" height="6.35" fill="#eeacac"/><rect x="148.98" y="191.55" width="4.41" height="6.35" fill="#eeacac"/><rect x="152.79" y="191.55" width="4.41" height="6.35" fill="#f7dad7"/><rect x="156.60" y="191.55" width="4.41" height="6.35" fill="#f5f5fc"/><rect x="160.41" y="191.55" width="4.41" height="6.35" fill="#e27072"/><rect x="164.22" y="191.55" width="4.41" height="6.35" fill="#f7dad7"/><rect x="168.03" y="191.55" width="4.41" height="6.35" fill="#f7dad7"/><rect x="171.84" y="191.55" width="4.41" height="6.35" fill="#f7dad7"/><rect x="175.65" y="191.55" width="4.41" height="6.35" fill="#eeacac"/><rect x="179.46" y="191.55" width="4.41" height="6.35" fill="#f7dad7"/><rect x="183.28" y="191.55" width="4.41" height="6.35" fill="#eeacac"/><rect x="187.09" y="191.55" width="4.41" height="6.35" fill="#f7dad7"/><rect x="190.90" y="191.55" width="4.41" height="6.35" fill="#eeacac"/><rect x="194.71" y="191.55" width="4.41" height="6.35" fill="#eeacac"/><rect x="198.52" y="191.55" width="4.41" height="6.35" fill="#eeacac"/><rect x="202.33" y="191.55" width="4.41" height="6.35" fill="#f7dad7"/><rect x="206.14" y="191.55" width="4.41" height="6.35" fill="#eeacac"/><rect x="209.95" y="191.55" width="4.41" height="6.35" fill="#f7dad7"/><rect x="213.76" y="191.55" width="4.41" height="6.35" fill="#eeacac"/><rect x="217.57" y="191.55" width="4.41" height="6.35" fill="#f7dad7"/><rect x="221.38" y="191.55" width="4.41" height="6.35" fill="#f5f5fc"/><rect x="225.19" y="191.55" width="4.41" height="6.35" fill="#eeacac"/><rect x="229.00" y="191.55" width="4.41" height="6.35" fill="#e27072"/><rect x="232.81" y="191.55" width="4.41" height="6.35" fill="#e27072"/><rect x="236.63" y="191.55" width="4.41" height="6.35" fill="#eeacac"/><rect x="240.44" y="191.55" width="4.41" height="6.35" fill="#f5f5fc"/><rect x="244.25" y="191.55" width="4.41" height="6.35" fill="#a0a8f5"/><rect x="248.06" y="191.55" width="4.41" height="6.35" fill="#f7dad7"/><rect x="251.87" y="191.55" width="4.41" height="6.35" fill="#f7dad7"/><rect x="255.68" y="191.55" width="4.41" height="6.35" fill="#eeacac"/><rect x="259.49" y="191.55" width="4.41" height="6.35" fill="#eeacac"/><rect x="263.30" y="191.55" width="4.41" height="6.35" fill="#eeacac"/><rect x="267.11" y="191.55" width="4.41" height="6.35" fill="#e27072"/><rect x="270.92" y="191.55" width="4.41" height="6.35" fill="#f7dad7"/><rect x="274.73" y="191.55" width="4.41" height="6.35" fill="#f7dad7"/><rect x="278.54" y="191.55" width="4.41" height="6.35" fill="#f7dad7"/><rect x="282.35" y="191.55" width="4.41" height="6.35" fill="#eeacac"/><rect x="286.16" y="191.55" width="4.41" height="6.35" fill="#eeacac"/><rect x="289.98" y="191.55" width="4.41" height="6.35" fill="#eeacac"/><rect x="293.79" y="191.55" width="4.41" height="6.35" fill="#f7dad7"/><rect x="297.60" y="191.55" width="4.41" height="6.35" fill="#f7dad7"/><rect x="301.41" y="191.55" width="4.41" height="6.35" fill="#f7dad7"/><rect x="305.22" y="191.55" width="4.41" height="6.35" fill="#f7dad7"/><rect x="309.03" y="191.55" width="4.41" height="6.35" fill="#da303a"/><rect x="312.84" y="191.55" width="4.41" height="6.35" fill="#e27072"/><rect x="316.65" y="191.55" width="4.41" height="6.35" fill="#f7dad7"/><rect x="320.46" y="191.55" width="4.41" height="6.35" fill="#eeacac"/><rect x="324.27" y="191.55" width="4.41" height="6.35" fill="#f7dad7"/><rect x="328.08" y="191.55" width="4.41" height="6.35" fill="#eeacac"/><rect x="331.89" y="191.55" width="4.41" height="6.35" fill="#eeacac"/><rect x="335.70" y="191.55" width="4.41" height="6.35" fill="#e27072"/><rect x="339.51" y="191.55" width="4.41" height="6.35" fill="#f7dad7"/><rect x="343.32" y="191.55" width="4.41" height="6.35" fill="#f7dad7"/><rect x="347.14" y="191.55" width="4.41" height="6.35" fill="#f5f5fc"/><rect x="350.95" y="191.55" width="4.41" height="6.35" fill="#f7dad7"/><rect x="354.76" y="191.55" width="4.41" height="6.35" fill="#f7dad7"/><rect x="358.57" y="191.55" width="4.41" height="6.35" fill="#eeacac"/><rect x="362.38" y="191.55" width="4.41" height="6.35" fill="#eeacac"/><rect x="366.19" y="191.55" width="3.81" height="6.35" fill="#eeacac"/></g>
<path d="M51.81,50.80V35.20H55.62V50.80 M59.43,50.80V32.30H63.24V50.80 M53.71,35.20V31.10H61.33V32.30 M70.86,50.80V28.10H74.67V50.80 M67.05,50.80V25.50H72.76V28.10 M57.52,31.10V22.20H69.91V25.50 M78.48,50.80V27.00H82.29V50.80 M93.72,50.80V38.60H97.53V50.80 M95.63,38.60V33.40H101.34V50.80 M89.91,50.80V28.10H98.49V33.40 M86.10,50.80V24.50H94.20V28.10 M80.39,27.00V22.40H90.15V24.50 M63.71,22.20V17.90H85.27V22.40 M105.16,50.80V26.20H108.97V50.80 M107.06,26.20V21.30H112.78V50.80 M116.59,50.80V27.20H120.40V50.80 M109.92,21.30V15.60H118.49V27.20 M74.49,17.90V11.10H114.21V15.60 M124.21,50.80V35.70H128.02V50.80 M126.11,35.70V29.40H131.83V50.80 M135.64,50.80V27.60H139.45V50.80 M143.26,50.80V31.40H147.07V50.80 M137.55,27.60V25.50H145.17V31.40 M128.97,29.40V22.30H141.36V25.50 M150.88,50.80V30.60H154.69V50.80 M158.51,50.80V28.80H162.32V50.80 M152.79,30.60V24.40H160.41V28.80 M166.13,50.80V31.80H169.94V50.80 M177.56,50.80V34.50H181.37V50.80 M173.75,50.80V31.80H179.46V34.50 M168.03,31.80V27.60H176.61V31.80 M156.60,24.40V23.50H172.32V27.60 M135.16,22.30V18.10H164.46V23.50 M185.18,50.80V29.40H188.99V50.80 M149.81,18.10V18.10H187.09V29.40 M192.80,50.80V26.50H196.61V50.80 M200.42,50.80V28.20H204.23V50.80 M202.33,28.20V23.50H208.04V50.80 M194.71,26.50V22.30H205.19V23.50 M215.67,50.80V36.20H219.48V50.80 M211.86,50.80V35.00H217.57V36.20 M214.71,35.00V30.60H223.29V50.80 M227.10,50.80V36.00H230.91V50.80 M234.72,50.80V30.00H238.53V50.80 M229.00,36.00V32.00H236.62V30.00 M219.00,30.60V25.90H232.81V32.00 M242.34,50.80V28.20H246.15V50.80 M225.91,25.90V21.70H244.25V28.20 M199.95,22.30V13.20H235.08V21.70 M168.45,18.10V12.30H217.51V13.20 M249.96,50.80V32.00H253.77V50.80 M251.87,32.00V29.00H257.58V50.80 M265.21,50.80V33.00H269.02V50.80 M261.39,50.80V28.50H267.11V33.00 M254.73,29.00V25.30H264.25V28.50 M272.83,50.80V33.60H276.64V50.80 M274.73,33.60V28.80H280.45V50.80 M284.26,50.80V31.40H288.07V50.80 M299.50,50.80V41.60H303.31V50.80 M301.41,41.60V34.70H307.12V50.80 M295.69,50.80V30.70H304.27V34.70 M291.88,50.80V27.80H299.98V30.70 M286.16,31.40V26.50H295.93V27.80 M277.59,28.80V24.50H291.05V26.50 M310.93,50.80V29.20H314.74V50.80 M312.84,29.20V24.80H318.56V50.80 M284.32,24.50V18.90H315.70V24.80 M259.49,25.30V17.60H300.01V18.90 M326.18,50.80V27.40H329.99V50.80 M322.37,50.80V22.90H328.08V27.40 M333.80,50.80V28.20H337.61V50.80 M341.42,50.80V36.20H345.23V50.80 M343.32,36.20V30.20H349.04V50.80 M335.70,28.20V22.90H346.18V30.20 M325.22,22.90V19.40H340.94V22.90 M279.75,17.60V16.00H333.08V19.40 M192.98,12.30V10.20H306.42V16.00 M94.35,11.10V8.00H249.70V10.20 M352.85,50.80V23.50H356.66V50.80 M364.28,50.80V32.40H368.09V50.80 M360.47,50.80V21.50H366.19V32.40 M354.76,23.50V19.40H363.33V21.50 M172.02,8.00V7.20H359.04V19.40" fill="none" stroke="#606060" stroke-width="1.0"/>
<path d="M370.80,54.98H388.20V61.33H370.80 M388.20,58.15H389.50V67.68H370.80 M389.50,62.92H393.30V74.03H370.80 M393.30,68.47H393.90V80.38H370.80 M370.80,86.74H391.30V93.09H370.80 M391.30,89.91H394.60V99.44H370.80 M393.90,74.43H395.90V94.68H394.60 M370.80,105.79H386.50V112.15H370.80 M386.50,108.97H389.10V118.50H370.80 M370.80,124.85H385.90V131.20H370.80 M385.90,128.03H387.20V137.55H370.80 M370.80,143.91H387.80V150.26H370.80 M387.20,132.79H390.40V147.08H387.80 M389.10,113.73H391.30V139.94H390.40 M370.80,162.96H386.00V169.32H370.80 M370.80,156.61H393.90V166.14H386.00 M391.30,126.84H397.50V161.38H393.90 M370.80,188.37H385.30V194.72H370.80 M370.80,182.02H388.00V191.55H385.30 M370.80,175.67H389.90V186.78H388.00 M397.50,144.11H408.60V181.23H389.90 M395.90,84.55H419.80V162.67H408.60" fill="none" stroke="#606060" stroke-width="1.0"/>
<text x="46.9" y="58.08" text-anchor="end" font-size="6.5" fill="#151515" textLength="26.9" lengthAdjust="spacingAndGlyphs">Non-LGE</text>
<text x="46.9" y="64.43" text-anchor="end" font-size="6.5" fill="#151515" textLength="26.9" lengthAdjust="spacingAndGlyphs">Non-LGE</text>
<text x="46.9" y="70.78" text-anchor="end" font-size="6.5" fill="#151515" textLength="26.9" lengthAdjust="spacingAndGlyphs">Non-LGE</text>
<text x="46.9" y="77.13" text-anchor="end" font-size="6.5" fill="#151515" textLength="26.9" lengthAdjust="spacingAndGlyphs">Non-LGE</text>
<text x="46.9" y="83.48" text-anchor="end" font-size="6.5" fill="#151515" textLength="26.9" lengthAdjust="spacingAndGlyphs">Non-LGE</text>
<text x="46.9" y="89.84" text-anchor="end" font-size="6.5" fill="#151515" textLength="26.9" lengthAdjust="spacingAndGlyphs">Non-LGE</text>
<text x="46.9" y="96.19" text-anchor="end" font-size="6.5" fill="#151515" textLength="26.9" lengthAdjust="spacingAndGlyphs">Non-LGE</text>
<text x="46.9" y="102.54" text-anchor="end" font-size="6.5" fill="#151515" textLength="26.9" lengthAdjust="spacingAndGlyphs">Non-LGE</text>
<text x="46.9" y="108.89" text-anchor="end" font-size="6.5" fill="#151515" textLength="26.9" lengthAdjust="spacingAndGlyphs">Non-LGE</text>
<text x="46.9" y="115.25" text-anchor="end" font-size="6.5" fill="#151515" textLength="26.9" lengthAdjust="spacingAndGlyphs">Non-LGE</text>
<text x="46.9" y="121.60" text-anchor="end" font-size="6.5" fill="#151515" textLength="26.9" lengthAdjust="spacingAndGlyphs">Non-LGE</text>
<text x="46.9" y="127.95" text-anchor="end" font-size="6.5" fill="#151515" textLength="26.9" lengthAdjust="spacingAndGlyphs">Non-LGE</text>
<text x="46.9" y="134.30" text-anchor="end" font-size="6.5" fill="#151515" textLength="26.9" lengthAdjust="spacingAndGlyphs">Non-LGE</text>
<text x="46.9" y="140.65" text-anchor="end" font-size="6.5" fill="#151515" textLength="26.9" lengthAdjust="spacingAndGlyphs">Non-LGE</text>
<text x="46.9" y="147.01" text-anchor="end" font-size="6.5" fill="#151515" textLength="26.9" lengthAdjust="spacingAndGlyphs">Non-LGE</text>
<text x="46.9" y="153.36" text-anchor="end" font-size="6.5" fill="#151515" textLength="26.9" lengthAdjust="spacingAndGlyphs">Non-LGE</text>
<text x="46.9" y="159.71" text-anchor="end" font-size="6.5" fill="#151515" textLength="11.8" lengthAdjust="spacingAndGlyphs">LGE</text>
<text x="46.9" y="166.06" text-anchor="end" font-size="6.5" fill="#151515" textLength="26.9" lengthAdjust="spacingAndGlyphs">Non-LGE</text>
<text x="46.9" y="172.42" text-anchor="end" font-size="6.5" fill="#151515" textLength="11.8" lengthAdjust="spacingAndGlyphs">LGE</text>
<text x="46.9" y="178.77" text-anchor="end" font-size="6.5" fill="#151515" textLength="11.8" lengthAdjust="spacingAndGlyphs">LGE</text>
<text x="46.9" y="185.12" text-anchor="end" font-size="6.5" fill="#151515" textLength="11.8" lengthAdjust="spacingAndGlyphs">LGE</text>
<text x="46.9" y="191.47" text-anchor="end" font-size="6.5" fill="#151515" textLength="11.8" lengthAdjust="spacingAndGlyphs">LGE</text>
<text x="46.9" y="197.82" text-anchor="end" font-size="6.5" fill="#151515" textLength="11.8" lengthAdjust="spacingAndGlyphs">LGE</text>
<text transform="translate(425.6,124.5) rotate(90)" text-anchor="middle" font-size="10.2" fill="#111" textLength="17.5" lengthAdjust="spacingAndGlyphs">LGE</text>
<g><text transform="translate(50.41,199.8) rotate(90)" font-size="4.4" fill="#4a4a4a">8V85RR</text><text transform="translate(54.22,199.8) rotate(90)" font-size="4.4" fill="#4a4a4a">8XGF6T</text><text transform="translate(58.03,199.8) rotate(90)" font-size="4.4" fill="#4a4a4a">106FDR</text><text transform="translate(61.84,199.8) rotate(90)" font-size="4.4" fill="#4a4a4a">ECV69</text><text transform="translate(65.65,199.8) rotate(90)" font-size="4.4" fill="#4a4a4a">0NR</text><text transform="translate(69.46,199.8) rotate(90)" font-size="4.4" fill="#4a4a4a">1F0A7TCB</text><text transform="translate(73.27,199.8) rotate(90)" font-size="4.4" fill="#4a4a4a">G9H</text><text transform="translate(77.08,199.8) rotate(90)" font-size="4.4" fill="#4a4a4a">A5RLRX7G</text><text transform="translate(80.89,199.8) rotate(90)" font-size="4.4" fill="#4a4a4a">H1KSA2</text><text transform="translate(84.70,199.8) rotate(90)" font-size="4.4" fill="#4a4a4a">R1IP</text><text transform="translate(88.51,199.8) rotate(90)" font-size="4.4" fill="#4a4a4a">7C3IL5</text><text transform="translate(92.32,199.8) rotate(90)" font-size="4.4" fill="#4a4a4a">TKAC</text><text transform="translate(96.13,199.8) rotate(90)" font-size="4.4" fill="#4a4a4a">5DND8KNC</text><text transform="translate(99.94,199.8) rotate(90)" font-size="4.4" fill="#4a4a4a">82A</text><text transform="translate(103.76,199.8) rotate(90)" font-size="4.4" fill="#4a4a4a">GBSN</text><text transform="translate(107.57,199.8) rotate(90)" font-size="4.4" fill="#4a4a4a">PCX1G</text><text transform="translate(111.38,199.8) rotate(90)" font-size="4.4" fill="#4a4a4a">LCKLA</text><text transform="translate(115.19,199.8) rotate(90)" font-size="4.4" fill="#4a4a4a">5DEH3</text><text transform="translate(119.00,199.8) rotate(90)" font-size="4.4" fill="#4a4a4a">ABR6</text><text transform="translate(122.81,199.8) rotate(90)" font-size="4.4" fill="#4a4a4a">F2VGRT</text><text transform="translate(126.62,199.8) rotate(90)" font-size="4.4" fill="#4a4a4a">45EP</text><text transform="translate(130.43,199.8) rotate(90)" font-size="4.4" fill="#4a4a4a">DNPGA</text><text transform="translate(134.24,199.8) rotate(90)" font-size="4.4" fill="#4a4a4a">86XK9</text><text transform="translate(138.05,199.8) rotate(90)" font-size="4.4" fill="#4a4a4a">GFN</text><text transform="translate(141.86,199.8) rotate(90)" font-size="4.4" fill="#4a4a4a">1XDBEGRI</text><text transform="translate(145.67,199.8) rotate(90)" font-size="4.4" fill="#4a4a4a">50L</text><text transform="translate(149.48,199.8) rotate(90)" font-size="4.4" fill="#4a4a4a">NCCCG</text><text transform="translate(153.29,199.8) rotate(90)" font-size="4.4" fill="#4a4a4a">1HA0MM0R</text><text transform="translate(157.11,199.8) rotate(90)" font-size="4.4" fill="#4a4a4a">XS7X</text><text transform="translate(160.92,199.8) rotate(90)" font-size="4.4" fill="#4a4a4a">8NF1</text><text transform="translate(164.73,199.8) rotate(90)" font-size="4.4" fill="#4a4a4a">KH70</text><text transform="translate(168.54,199.8) rotate(90)" font-size="4.4" fill="#4a4a4a">4GF4</text><text transform="translate(172.35,199.8) rotate(90)" font-size="4.4" fill="#4a4a4a">G2N9S0</text><text transform="translate(176.16,199.8) rotate(90)" font-size="4.4" fill="#4a4a4a">PBDD</text><text transform="translate(179.97,199.8) rotate(90)" font-size="4.4" fill="#4a4a4a">TIH</text><text transform="translate(183.78,199.8) rotate(90)" font-size="4.4" fill="#4a4a4a">IP790</text><text transform="translate(187.59,199.8) rotate(90)" font-size="4.4" fill="#4a4a4a">KTF4CE</text><text transform="translate(191.40,199.8) rotate(90)" font-size="4.4" fill="#4a4a4a">SV18</text><text transform="translate(195.21,199.8) rotate(90)" font-size="4.4" fill="#4a4a4a">0CIGG4AC</text><text transform="translate(199.02,199.8) rotate(90)" font-size="4.4" fill="#4a4a4a">PRHBB</text><text transform="translate(202.83,199.8) rotate(90)" font-size="4.4" fill="#4a4a4a">KMTX</text><text transform="translate(206.64,199.8) rotate(90)" font-size="4.4" fill="#4a4a4a">CME9</text><text transform="translate(210.46,199.8) rotate(90)" font-size="4.4" fill="#4a4a4a">L243TX</text><text transform="translate(214.27,199.8) rotate(90)" font-size="4.4" fill="#4a4a4a">XBAS</text><text transform="translate(218.08,199.8) rotate(90)" font-size="4.4" fill="#4a4a4a">3KBA0</text><text transform="translate(221.89,199.8) rotate(90)" font-size="4.4" fill="#4a4a4a">SC4K</text><text transform="translate(225.70,199.8) rotate(90)" font-size="4.4" fill="#4a4a4a">ECCRV</text><text transform="translate(229.51,199.8) rotate(90)" font-size="4.4" fill="#4a4a4a">4B944</text><text transform="translate(233.32,199.8) rotate(90)" font-size="4.4" fill="#4a4a4a">6LMC</text><text transform="translate(237.13,199.8) rotate(90)" font-size="4.4" fill="#4a4a4a">9C88P6</text><text transform="translate(240.94,199.8) rotate(90)" font-size="4.4" fill="#4a4a4a">8SX</text><text transform="translate(244.75,199.8) rotate(90)" font-size="4.4" fill="#4a4a4a">02N</text><text transform="translate(248.56,199.8) rotate(90)" font-size="4.4" fill="#4a4a4a">XA0CC</text><text transform="translate(252.37,199.8) rotate(90)" font-size="4.4" fill="#4a4a4a">1DI9</text><text transform="translate(256.18,199.8) rotate(90)" font-size="4.4" fill="#4a4a4a">4LN43</text><text transform="translate(259.99,199.8) rotate(90)" font-size="4.4" fill="#4a4a4a">RRR7VCT5</text><text transform="translate(263.81,199.8) rotate(90)" font-size="4.4" fill="#4a4a4a">AK0CSA</text><text transform="translate(267.62,199.8) rotate(90)" font-size="4.4" fill="#4a4a4a">3DS5</text><text transform="translate(271.43,199.8) rotate(90)" font-size="4.4" fill="#4a4a4a">2SI9AMKE</text><text transform="translate(275.24,199.8) rotate(90)" font-size="4.4" fill="#4a4a4a">GTF59L2R</text><text transform="translate(279.05,199.8) rotate(90)" font-size="4.4" fill="#4a4a4a">9HLN2I</text><text transform="translate(282.86,199.8) rotate(90)" font-size="4.4" fill="#4a4a4a">1P66</text><text transform="translate(286.67,199.8) rotate(90)" font-size="4.4" fill="#4a4a4a">9GNH</text><text transform="translate(290.48,199.8) rotate(90)" font-size="4.4" fill="#4a4a4a">LGEESM79</text><text transform="translate(294.29,199.8) rotate(90)" font-size="4.4" fill="#4a4a4a">3CI</text><text transform="translate(298.10,199.8) rotate(90)" font-size="4.4" fill="#4a4a4a">DRSI</text><text transform="translate(301.91,199.8) rotate(90)" font-size="4.4" fill="#4a4a4a">7PN1</text><text transform="translate(305.72,199.8) rotate(90)" font-size="4.4" fill="#4a4a4a">S2L377</text><text transform="translate(309.53,199.8) rotate(90)" font-size="4.4" fill="#4a4a4a">RLC7BI80</text><text transform="translate(313.34,199.8) rotate(90)" font-size="4.4" fill="#4a4a4a">23I</text><text transform="translate(317.16,199.8) rotate(90)" font-size="4.4" fill="#4a4a4a">MK16XA1E</text><text transform="translate(320.97,199.8) rotate(90)" font-size="4.4" fill="#4a4a4a">RGA57</text><text transform="translate(324.78,199.8) rotate(90)" font-size="4.4" fill="#4a4a4a">H5E6B</text><text transform="translate(328.59,199.8) rotate(90)" font-size="4.4" fill="#4a4a4a">RD1V</text><text transform="translate(332.40,199.8) rotate(90)" font-size="4.4" fill="#4a4a4a">C2GG7</text><text transform="translate(336.21,199.8) rotate(90)" font-size="4.4" fill="#4a4a4a">IF3A5S</text><text transform="translate(340.02,199.8) rotate(90)" font-size="4.4" fill="#4a4a4a">3BFHI5</text><text transform="translate(343.83,199.8) rotate(90)" font-size="4.4" fill="#4a4a4a">V3TT0</text><text transform="translate(347.64,199.8) rotate(90)" font-size="4.4" fill="#4a4a4a">N863</text><text transform="translate(351.45,199.8) rotate(90)" font-size="4.4" fill="#4a4a4a">CP94</text><text transform="translate(355.26,199.8) rotate(90)" font-size="4.4" fill="#4a4a4a">ERRG1</text><text transform="translate(359.07,199.8) rotate(90)" font-size="4.4" fill="#4a4a4a">NVX</text><text transform="translate(362.88,199.8) rotate(90)" font-size="4.4" fill="#4a4a4a">67LRL1</text><text transform="translate(366.69,199.8) rotate(90)" font-size="4.4" fill="#4a4a4a">D487</text></g>
<path d="M145.4,208.8V44.4H150.3V208.8" fill="none" stroke="#2a2a2a" stroke-width="0.9"/>
<path d="M148.3,221.6V215" stroke="#111" stroke-width="1.1"/>
<path d="M148.3,211.4L150.9,216.6L145.7,216.6Z" fill="#111"/>
<rect x="138.4" y="221.9" width="26.5" height="10.6" fill="#fff" stroke="#222" stroke-width="0.9"/>
<text x="151.6" y="230.3" text-anchor="middle" font-size="8.6" fill="#111" textLength="20" lengthAdjust="spacingAndGlyphs">IL-18</text>
<text x="7.2" y="17.7" font-size="12.8" font-weight="bold" fill="#000">A</text>
<text x="7.6" y="252.6" font-size="12" font-weight="bold" fill="#000">B</text>
<text x="185.6" y="252.7" font-size="12" font-weight="bold" fill="#000">C</text>
<text x="359.2" y="252.6" font-size="12" font-weight="bold" fill="#000">D</text>
<rect x="41.9" y="265.7" width="128.29999999999998" height="103.40000000000003" fill="none" stroke="#111" stroke-width="1.3"/>
<path d="M38.9,363.70H41.9" stroke="#111" stroke-width="1"/>
<text x="35.2" y="366.90" text-anchor="end" font-size="9.0" fill="#222" textLength="13.3" lengthAdjust="spacingAndGlyphs">400</text>
<path d="M38.9,347.10H41.9" stroke="#111" stroke-width="1"/>
<text x="35.2" y="350.30" text-anchor="end" font-size="9.0" fill="#222" textLength="13.3" lengthAdjust="spacingAndGlyphs">425</text>
<path d="M38.9,330.50H41.9" stroke="#111" stroke-width="1"/>
<text x="35.2" y="333.70" text-anchor="end" font-size="9.0" fill="#222" textLength="13.3" lengthAdjust="spacingAndGlyphs">450</text>
<path d="M38.9,313.90H41.9" stroke="#111" stroke-width="1"/>
<text x="35.2" y="317.10" text-anchor="end" font-size="9.0" fill="#222" textLength="13.3" lengthAdjust="spacingAndGlyphs">475</text>
<path d="M38.9,297.30H41.9" stroke="#111" stroke-width="1"/>
<text x="35.2" y="300.50" text-anchor="end" font-size="9.0" fill="#222" textLength="13.3" lengthAdjust="spacingAndGlyphs">500</text>
<path d="M38.9,280.70H41.9" stroke="#111" stroke-width="1"/>
<text x="35.2" y="283.90" text-anchor="end" font-size="9.0" fill="#222" textLength="13.3" lengthAdjust="spacingAndGlyphs">525</text>
<path d="M77.4,369.1V372.1" stroke="#111" stroke-width="1"/>
<path d="M135.0,369.1V372.1" stroke="#111" stroke-width="1"/>
<text x="77.3" y="381.6" text-anchor="middle" font-size="8.2" fill="#222" textLength="15.6" lengthAdjust="spacingAndGlyphs">Low</text>
<text x="135.2" y="381.6" text-anchor="middle" font-size="8.2" fill="#222" textLength="17.3" lengthAdjust="spacingAndGlyphs">High</text>
<text x="105.8" y="394.7" text-anchor="middle" font-size="8.9" font-style="italic" fill="#222" textLength="53.7" lengthAdjust="spacingAndGlyphs">IL18 expression</text>
<text transform="translate(16.2,316.5) rotate(-90)" text-anchor="middle" font-size="8.8" fill="#222" textLength="28" lengthAdjust="spacingAndGlyphs">QTc(ms)</text>
<path d="M77.3,314.6V330.8M77.3,348.8V359.9M73.7,314.6H80.9M73.7,359.9H80.9" stroke="#c0254a" stroke-width="1"/>
<rect x="70.0" y="330.8" width="14.3" height="18.0" fill="#d18a7e"/>
<path d="M70.0,343.7H84.3" stroke="#b81a3c" stroke-width="1.6"/>
<path d="M135.0,301.2V319.1M135.0,339.8V345.5M131.2,301.2H139.0M131.2,345.5H139.0" stroke="#5d70a6" stroke-width="1.1"/>
<rect x="128.1" y="319.1" width="13.9" height="20.7" fill="#9299c2"/>
<path d="M128.1,329.1H142.0" stroke="#2b4a86" stroke-width="1.6"/>
<circle cx="135.2" cy="279.3" r="1.4" fill="#6f7fb6"/>
<path d="M133.9,271.0H136.3L136.5,272.2L136.1,273.2H134.0L133.6,272.2Z" fill="#1a1a1a"/>
<rect x="220.8" y="257.6" width="122.5" height="111.39999999999998" fill="none" stroke="#111" stroke-width="1.3"/>
<path d="M217.0,343.10H220.8" stroke="#111" stroke-width="1"/>
<text x="214.8" y="346.30" text-anchor="end" font-size="9.0" fill="#222" textLength="13.6" lengthAdjust="spacingAndGlyphs">400</text>
<path d="M217.0,311.10H220.8" stroke="#111" stroke-width="1"/>
<text x="214.8" y="314.30" text-anchor="end" font-size="9.0" fill="#222" textLength="13.6" lengthAdjust="spacingAndGlyphs">450</text>
<path d="M217.0,279.10H220.8" stroke="#111" stroke-width="1"/>
<text x="214.8" y="282.30" text-anchor="end" font-size="9.0" fill="#222" textLength="13.6" lengthAdjust="spacingAndGlyphs">500</text>
<path d="M243.12,369.0V372.0" stroke="#111" stroke-width="1"/>
<text x="243.12" y="381.6" text-anchor="middle" font-size="9.0" fill="#222" textLength="13.2" lengthAdjust="spacingAndGlyphs">500</text>
<path d="M265.45,369.0V372.0" stroke="#111" stroke-width="1"/>
<text x="265.45" y="381.6" text-anchor="middle" font-size="9.0" fill="#222" textLength="17.6" lengthAdjust="spacingAndGlyphs">1000</text>
<path d="M287.78,369.0V372.0" stroke="#111" stroke-width="1"/>
<text x="287.78" y="381.6" text-anchor="middle" font-size="9.0" fill="#222" textLength="17.6" lengthAdjust="spacingAndGlyphs">1500</text>
<path d="M310.10,369.0V372.0" stroke="#111" stroke-width="1"/>
<text x="310.10" y="381.6" text-anchor="middle" font-size="9.0" fill="#222" textLength="17.6" lengthAdjust="spacingAndGlyphs">2000</text>
<path d="M332.43,369.0V372.0" stroke="#111" stroke-width="1"/>
<text x="332.43" y="381.6" text-anchor="middle" font-size="9.0" fill="#222" textLength="17.6" lengthAdjust="spacingAndGlyphs">2500</text>
<text x="282.0" y="395.3" text-anchor="middle" font-size="9.8" fill="#222" textLength="122.5" lengthAdjust="spacingAndGlyphs">Plasma IL-18 concentration (pg/ml)</text>
<text transform="translate(195.2,313.3) rotate(-90)" text-anchor="middle" font-size="10.2" fill="#222" textLength="65.8" lengthAdjust="spacingAndGlyphs">QTc interval (msec)</text>
<g fill="rgba(200,60,100,0.35)" stroke="#ba2c58" stroke-width="0.8"><circle cx="245.3" cy="261.7" r="1.15"/><circle cx="228.1" cy="285.0" r="1.15"/><circle cx="247.6" cy="283.1" r="1.15"/><circle cx="239.5" cy="288.1" r="1.15"/><circle cx="250.5" cy="288.1" r="1.15"/><circle cx="263.6" cy="288.1" r="1.15"/><circle cx="238.1" cy="291.0" r="1.15"/><circle cx="245.9" cy="290.0" r="1.15"/><circle cx="259.5" cy="296.5" r="1.15"/><circle cx="233.4" cy="298.1" r="1.15"/><circle cx="235.5" cy="298.2" r="1.15"/><circle cx="232.6" cy="300.1" r="1.15"/><circle cx="244.1" cy="298.4" r="1.15"/><circle cx="239.5" cy="300.3" r="1.15"/><circle cx="236.6" cy="302.2" r="1.15"/><circle cx="247.6" cy="302.9" r="1.15"/><circle cx="257.1" cy="303.6" r="1.15"/><circle cx="275.2" cy="300.5" r="1.15"/><circle cx="274.8" cy="301.9" r="1.15"/><circle cx="276.9" cy="305.1" r="1.15"/><circle cx="255.9" cy="307.2" r="1.15"/><circle cx="248.4" cy="307.7" r="1.15"/><circle cx="249.0" cy="309.1" r="1.15"/><circle cx="233.8" cy="308.1" r="1.15"/><circle cx="225.2" cy="311.3" r="1.15"/><circle cx="232.6" cy="311.5" r="1.15"/><circle cx="238.1" cy="310.3" r="1.15"/><circle cx="240.3" cy="313.2" r="1.15"/><circle cx="244.1" cy="312.2" r="1.15"/><circle cx="251.6" cy="311.2" r="1.15"/><circle cx="287.6" cy="307.2" r="1.15"/><circle cx="276.4" cy="313.2" r="1.15"/><circle cx="251.6" cy="313.8" r="1.15"/><circle cx="230.0" cy="317.2" r="1.15"/><circle cx="235.2" cy="318.1" r="1.15"/><circle cx="237.2" cy="319.3" r="1.15"/><circle cx="248.4" cy="318.1" r="1.15"/><circle cx="249.0" cy="319.0" r="1.15"/><circle cx="251.6" cy="318.4" r="1.15"/><circle cx="256.6" cy="317.8" r="1.15"/><circle cx="229.0" cy="321.6" r="1.15"/><circle cx="240.7" cy="321.0" r="1.15"/><circle cx="241.5" cy="320.3" r="1.15"/><circle cx="240.3" cy="322.1" r="1.15"/><circle cx="255.3" cy="321.6" r="1.15"/><circle cx="259.3" cy="321.0" r="1.15"/><circle cx="230.7" cy="323.3" r="1.15"/><circle cx="232.9" cy="324.7" r="1.15"/><circle cx="235.5" cy="325.0" r="1.15"/><circle cx="245.5" cy="325.9" r="1.15"/><circle cx="248.4" cy="325.9" r="1.15"/><circle cx="229.8" cy="327.6" r="1.15"/><circle cx="230.7" cy="327.2" r="1.15"/><circle cx="231.7" cy="328.4" r="1.15"/><circle cx="237.2" cy="327.2" r="1.15"/><circle cx="238.6" cy="328.1" r="1.15"/><circle cx="240.3" cy="328.4" r="1.15"/><circle cx="242.9" cy="328.1" r="1.15"/><circle cx="254.0" cy="326.7" r="1.15"/><circle cx="255.7" cy="327.1" r="1.15"/><circle cx="234.7" cy="332.2" r="1.15"/><circle cx="233.4" cy="337.1" r="1.15"/><circle cx="238.1" cy="338.3" r="1.15"/><circle cx="246.7" cy="337.1" r="1.15"/><circle cx="250.5" cy="335.3" r="1.15"/><circle cx="281.2" cy="339.7" r="1.15"/><circle cx="230.7" cy="365.2" r="1.15"/><circle cx="311.6" cy="273.2" r="1.15"/><circle cx="338.6" cy="299.1" r="1.15"/><circle cx="290.7" cy="311.5" r="1.15"/></g>
<path d="M220.8,319.7L343.3,290.8" stroke="#1a1a1a" stroke-width="1.1"/>
<rect x="391.4" y="258.7" width="120.89999999999998" height="110.5" fill="none" stroke="#111" stroke-width="1.3"/>
<path d="M387.7,364.70H391.4" stroke="#111" stroke-width="1"/>
<text x="385.4" y="367.90" text-anchor="end" font-size="9.0" fill="#222" textLength="11.8" lengthAdjust="spacingAndGlyphs">0.0</text>
<path d="M387.7,344.30H391.4" stroke="#111" stroke-width="1"/>
<text x="385.4" y="347.50" text-anchor="end" font-size="9.0" fill="#222" textLength="11.8" lengthAdjust="spacingAndGlyphs">0.2</text>
<path d="M387.7,323.90H391.4" stroke="#111" stroke-width="1"/>
<text x="385.4" y="327.10" text-anchor="end" font-size="9.0" fill="#222" textLength="11.8" lengthAdjust="spacingAndGlyphs">0.4</text>
<path d="M387.7,303.50H391.4" stroke="#111" stroke-width="1"/>
<text x="385.4" y="306.70" text-anchor="end" font-size="9.0" fill="#222" textLength="11.8" lengthAdjust="spacingAndGlyphs">0.6</text>
<path d="M387.7,283.10H391.4" stroke="#111" stroke-width="1"/>
<text x="385.4" y="286.30" text-anchor="end" font-size="9.0" fill="#222" textLength="11.8" lengthAdjust="spacingAndGlyphs">0.8</text>
<path d="M387.7,262.70H391.4" stroke="#111" stroke-width="1"/>
<text x="385.4" y="265.90" text-anchor="end" font-size="9.0" fill="#222" textLength="11.8" lengthAdjust="spacingAndGlyphs">1.0</text>
<path d="M395.50,369.2V372.2" stroke="#111" stroke-width="1"/>
<text x="395.80" y="381.7" text-anchor="middle" font-size="9.0" fill="#222" textLength="4.6" lengthAdjust="spacingAndGlyphs">0</text>
<path d="M418.00,369.2V372.2" stroke="#111" stroke-width="1"/>
<text x="418.30" y="381.7" text-anchor="middle" font-size="9.0" fill="#222" textLength="9.4" lengthAdjust="spacingAndGlyphs">10</text>
<path d="M440.50,369.2V372.2" stroke="#111" stroke-width="1"/>
<text x="440.80" y="381.7" text-anchor="middle" font-size="9.0" fill="#222" textLength="9.4" lengthAdjust="spacingAndGlyphs">20</text>
<path d="M463.00,369.2V372.2" stroke="#111" stroke-width="1"/>
<text x="463.30" y="381.7" text-anchor="middle" font-size="9.0" fill="#222" textLength="9.4" lengthAdjust="spacingAndGlyphs">30</text>
<path d="M485.50,369.2V372.2" stroke="#111" stroke-width="1"/>
<text x="485.80" y="381.7" text-anchor="middle" font-size="9.0" fill="#222" textLength="9.4" lengthAdjust="spacingAndGlyphs">40</text>
<path d="M508.00,369.2V372.2" stroke="#111" stroke-width="1"/>
<text x="508.30" y="381.7" text-anchor="middle" font-size="9.0" fill="#222" textLength="9.4" lengthAdjust="spacingAndGlyphs">50</text>
<text x="451.8" y="395.3" text-anchor="middle" font-size="10" fill="#222" textLength="26.5" lengthAdjust="spacingAndGlyphs">Months</text>
<text transform="translate(366.5,314.4) rotate(-90)" text-anchor="middle" font-size="8.8" fill="#222" textLength="42.2" lengthAdjust="spacingAndGlyphs">Survival rate</text>
<path d="M396,262.6H399V264.5H407.5V266.2H409V269.4H413.75V270.6H415V271.9H416.25V273.75H417.75V276.1H433.1V278.4H442.5V280.6H456V282.5H488.1V284.75H496.25V287.25H512" fill="none" stroke="#2d4b8e" stroke-width="1.4"/>
<path d="M396,262.75H397.5V263.75H399.4V263.5H421.25V264.4H424.4V265.25H426.25V266.0H428.1V267.1H441.9V268.1H451.9V269.0H457.5V270.25H468.1V272.5H512" fill="none" stroke="#c4163c" stroke-width="1.4"/>
<path d="M395.5,355.5H407.5" stroke="#c4163c" stroke-width="1.3"/>
<path d="M395.5,362.9H407.5" stroke="#2d4b8e" stroke-width="1.3"/>
<text x="410.7" y="357.6" font-size="7.0" fill="#222" textLength="81.3" lengthAdjust="spacingAndGlyphs">Low IL-18 Gene Expression</text>
<text x="410.7" y="365.1" font-size="7.0" fill="#222" textLength="83.0" lengthAdjust="spacingAndGlyphs">High IL-18 Gene Expression</text>
<rect x="0.5" y="0.5" width="519" height="405" fill="none" stroke="#000" stroke-width="1"/>
</svg>
</body></html>
